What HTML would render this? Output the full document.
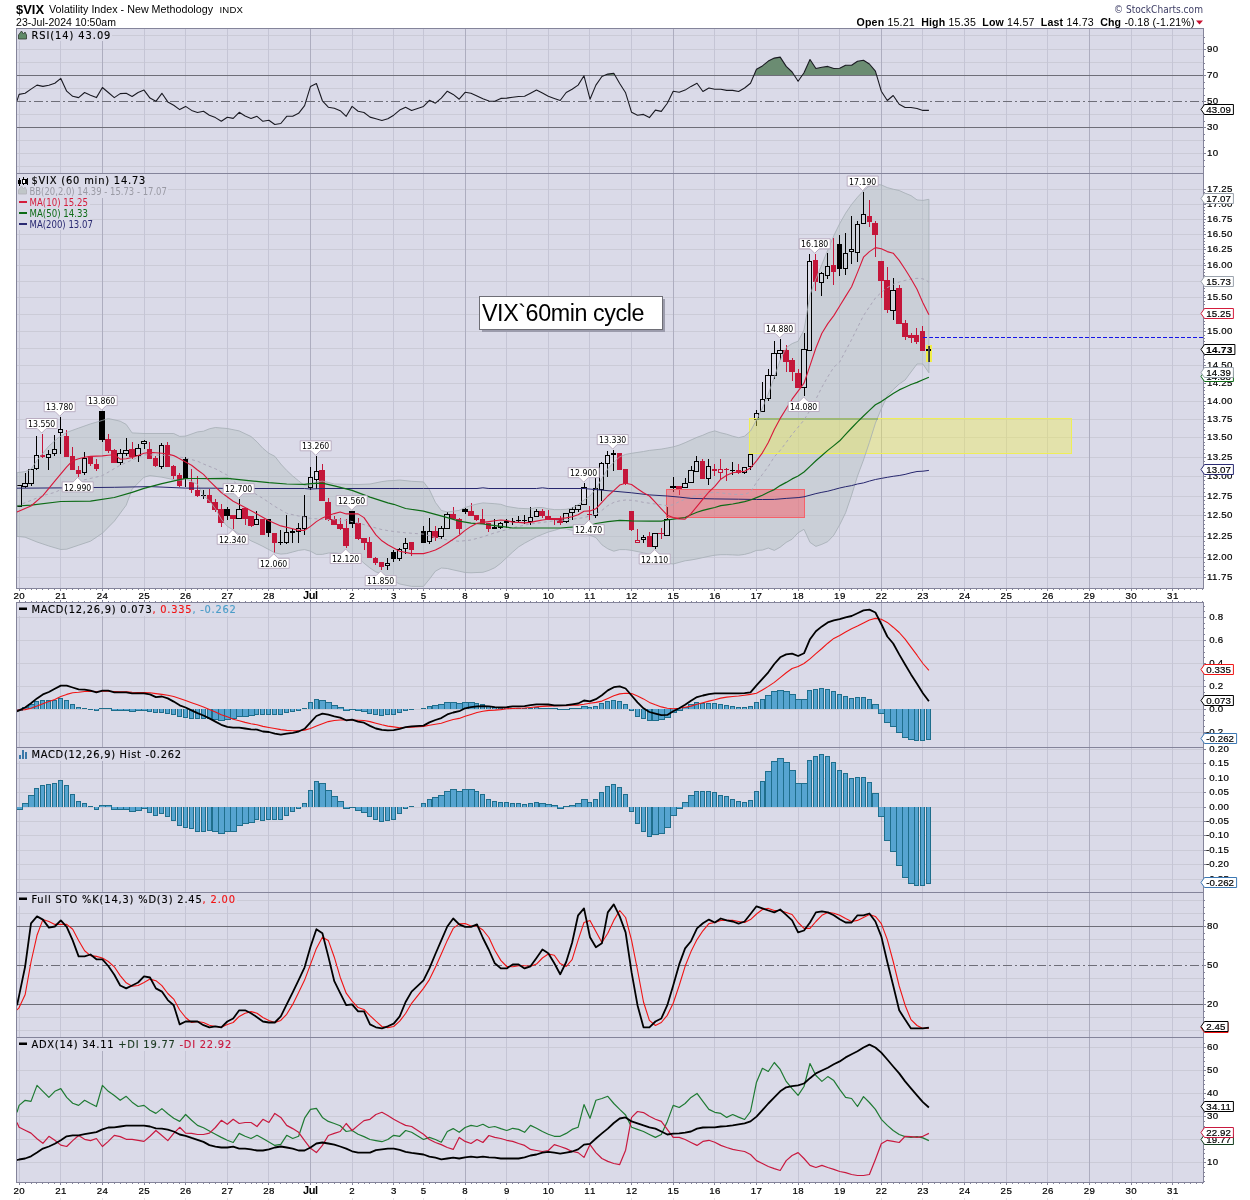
<!DOCTYPE html><html><head><meta charset="utf-8"><title>$VIX Volatility Index - New Methodology</title>
<style>html,body{margin:0;padding:0;background:#fff;}svg{display:block;}text{font-family:"Liberation Sans",sans-serif;fill:#000;}.v{font-family:"DejaVu Sans","Liberation Sans",sans-serif;font-size:9.9px;stroke:#000;stroke-width:0.15px;}.vc{font-family:"DejaVu Sans","Liberation Sans",sans-serif;font-stretch:condensed;font-size:10.1px;}.ax{font-size:9.7px;stroke:#000;stroke-width:0.2px;}.g{shape-rendering:crispEdges;}</style></head><body>
<svg width="1250" height="1200" viewBox="0 0 1250 1200">
<rect x="0" y="0" width="1250" height="1200" fill="#fff"/>
<g class="g">
<rect x="17" y="28" width="1186" height="560" fill="#dadae8"/>
<rect x="17" y="602" width="1186" height="580" fill="#dadae8"/>
<line x1="17" x2="1203" y1="35.5" y2="35.5" stroke="#cbcbd7" stroke-width="1"/>
<line x1="17" x2="1203" y1="49.5" y2="49.5" stroke="#cbcbd7" stroke-width="1"/>
<line x1="17" x2="1203" y1="62.5" y2="62.5" stroke="#cbcbd7" stroke-width="1"/>
<line x1="17" x2="1203" y1="88.5" y2="88.5" stroke="#cbcbd7" stroke-width="1"/>
<line x1="17" x2="1203" y1="114.5" y2="114.5" stroke="#cbcbd7" stroke-width="1"/>
<line x1="17" x2="1203" y1="140.5" y2="140.5" stroke="#cbcbd7" stroke-width="1"/>
<line x1="17" x2="1203" y1="153.5" y2="153.5" stroke="#cbcbd7" stroke-width="1"/>
<line x1="17" x2="1203" y1="166.5" y2="166.5" stroke="#cbcbd7" stroke-width="1"/>
<line x1="17" x2="1203" y1="577.5" y2="577.5" stroke="#cbcbd7" stroke-width="1"/>
<line x1="17" x2="1203" y1="557.5" y2="557.5" stroke="#cbcbd7" stroke-width="1"/>
<line x1="17" x2="1203" y1="536.5" y2="536.5" stroke="#cbcbd7" stroke-width="1"/>
<line x1="17" x2="1203" y1="515.5" y2="515.5" stroke="#cbcbd7" stroke-width="1"/>
<line x1="17" x2="1203" y1="496.5" y2="496.5" stroke="#cbcbd7" stroke-width="1"/>
<line x1="17" x2="1203" y1="476.5" y2="476.5" stroke="#cbcbd7" stroke-width="1"/>
<line x1="17" x2="1203" y1="457.5" y2="457.5" stroke="#cbcbd7" stroke-width="1"/>
<line x1="17" x2="1203" y1="437.5" y2="437.5" stroke="#cbcbd7" stroke-width="1"/>
<line x1="17" x2="1203" y1="419.5" y2="419.5" stroke="#cbcbd7" stroke-width="1"/>
<line x1="17" x2="1203" y1="401.5" y2="401.5" stroke="#cbcbd7" stroke-width="1"/>
<line x1="17" x2="1203" y1="383.5" y2="383.5" stroke="#cbcbd7" stroke-width="1"/>
<line x1="17" x2="1203" y1="365.5" y2="365.5" stroke="#cbcbd7" stroke-width="1"/>
<line x1="17" x2="1203" y1="348.5" y2="348.5" stroke="#cbcbd7" stroke-width="1"/>
<line x1="17" x2="1203" y1="331.5" y2="331.5" stroke="#cbcbd7" stroke-width="1"/>
<line x1="17" x2="1203" y1="314.5" y2="314.5" stroke="#cbcbd7" stroke-width="1"/>
<line x1="17" x2="1203" y1="297.5" y2="297.5" stroke="#cbcbd7" stroke-width="1"/>
<line x1="17" x2="1203" y1="281.5" y2="281.5" stroke="#cbcbd7" stroke-width="1"/>
<line x1="17" x2="1203" y1="265.5" y2="265.5" stroke="#cbcbd7" stroke-width="1"/>
<line x1="17" x2="1203" y1="249.5" y2="249.5" stroke="#cbcbd7" stroke-width="1"/>
<line x1="17" x2="1203" y1="234.5" y2="234.5" stroke="#cbcbd7" stroke-width="1"/>
<line x1="17" x2="1203" y1="219.5" y2="219.5" stroke="#cbcbd7" stroke-width="1"/>
<line x1="17" x2="1203" y1="204.5" y2="204.5" stroke="#cbcbd7" stroke-width="1"/>
<line x1="17" x2="1203" y1="189.5" y2="189.5" stroke="#cbcbd7" stroke-width="1"/>
<line x1="17" x2="1203" y1="617.5" y2="617.5" stroke="#cbcbd7" stroke-width="1"/>
<line x1="17" x2="1203" y1="640.5" y2="640.5" stroke="#cbcbd7" stroke-width="1"/>
<line x1="17" x2="1203" y1="663.5" y2="663.5" stroke="#cbcbd7" stroke-width="1"/>
<line x1="17" x2="1203" y1="686.5" y2="686.5" stroke="#cbcbd7" stroke-width="1"/>
<line x1="17" x2="1203" y1="709.5" y2="709.5" stroke="#cbcbd7" stroke-width="1"/>
<line x1="17" x2="1203" y1="732.5" y2="732.5" stroke="#cbcbd7" stroke-width="1"/>
<line x1="17" x2="1203" y1="749.5" y2="749.5" stroke="#cbcbd7" stroke-width="1"/>
<line x1="17" x2="1203" y1="763.5" y2="763.5" stroke="#cbcbd7" stroke-width="1"/>
<line x1="17" x2="1203" y1="778.5" y2="778.5" stroke="#cbcbd7" stroke-width="1"/>
<line x1="17" x2="1203" y1="792.5" y2="792.5" stroke="#cbcbd7" stroke-width="1"/>
<line x1="17" x2="1203" y1="807.5" y2="807.5" stroke="#cbcbd7" stroke-width="1"/>
<line x1="17" x2="1203" y1="821.5" y2="821.5" stroke="#cbcbd7" stroke-width="1"/>
<line x1="17" x2="1203" y1="835.5" y2="835.5" stroke="#cbcbd7" stroke-width="1"/>
<line x1="17" x2="1203" y1="850.5" y2="850.5" stroke="#cbcbd7" stroke-width="1"/>
<line x1="17" x2="1203" y1="864.5" y2="864.5" stroke="#cbcbd7" stroke-width="1"/>
<line x1="17" x2="1203" y1="879.5" y2="879.5" stroke="#cbcbd7" stroke-width="1"/>
<line x1="17" x2="1203" y1="900.5" y2="900.5" stroke="#cbcbd7" stroke-width="1"/>
<line x1="17" x2="1203" y1="913.5" y2="913.5" stroke="#cbcbd7" stroke-width="1"/>
<line x1="17" x2="1203" y1="939.5" y2="939.5" stroke="#cbcbd7" stroke-width="1"/>
<line x1="17" x2="1203" y1="952.5" y2="952.5" stroke="#cbcbd7" stroke-width="1"/>
<line x1="17" x2="1203" y1="978.5" y2="978.5" stroke="#cbcbd7" stroke-width="1"/>
<line x1="17" x2="1203" y1="991.5" y2="991.5" stroke="#cbcbd7" stroke-width="1"/>
<line x1="17" x2="1203" y1="1017.5" y2="1017.5" stroke="#cbcbd7" stroke-width="1"/>
<line x1="17" x2="1203" y1="1030.5" y2="1030.5" stroke="#cbcbd7" stroke-width="1"/>
<line x1="17" x2="1203" y1="1047.5" y2="1047.5" stroke="#cbcbd7" stroke-width="1"/>
<line x1="17" x2="1203" y1="1070.5" y2="1070.5" stroke="#cbcbd7" stroke-width="1"/>
<line x1="17" x2="1203" y1="1093.5" y2="1093.5" stroke="#cbcbd7" stroke-width="1"/>
<line x1="17" x2="1203" y1="1116.5" y2="1116.5" stroke="#cbcbd7" stroke-width="1"/>
<line x1="17" x2="1203" y1="1139.5" y2="1139.5" stroke="#cbcbd7" stroke-width="1"/>
<line x1="17" x2="1203" y1="1162.5" y2="1162.5" stroke="#cbcbd7" stroke-width="1"/>
<line x1="19.5" x2="19.5" y1="28" y2="588" stroke="#c5c5d5" stroke-width="1"/>
<line x1="60.5" x2="60.5" y1="28" y2="588" stroke="#c5c5d5" stroke-width="1"/>
<line x1="102.5" x2="102.5" y1="28" y2="588" stroke="#adadbf" stroke-width="1"/>
<line x1="144.5" x2="144.5" y1="28" y2="588" stroke="#c5c5d5" stroke-width="1"/>
<line x1="185.5" x2="185.5" y1="28" y2="588" stroke="#c5c5d5" stroke-width="1"/>
<line x1="227.5" x2="227.5" y1="28" y2="588" stroke="#c5c5d5" stroke-width="1"/>
<line x1="268.5" x2="268.5" y1="28" y2="588" stroke="#c5c5d5" stroke-width="1"/>
<line x1="310.5" x2="310.5" y1="28" y2="588" stroke="#adadbf" stroke-width="1"/>
<line x1="352.5" x2="352.5" y1="28" y2="588" stroke="#c5c5d5" stroke-width="1"/>
<line x1="393.5" x2="393.5" y1="28" y2="588" stroke="#c5c5d5" stroke-width="1"/>
<line x1="423.5" x2="423.5" y1="28" y2="588" stroke="#c5c5d5" stroke-width="1"/>
<line x1="465.5" x2="465.5" y1="28" y2="588" stroke="#adadbf" stroke-width="1"/>
<line x1="506.5" x2="506.5" y1="28" y2="588" stroke="#c5c5d5" stroke-width="1"/>
<line x1="548.5" x2="548.5" y1="28" y2="588" stroke="#c5c5d5" stroke-width="1"/>
<line x1="589.5" x2="589.5" y1="28" y2="588" stroke="#c5c5d5" stroke-width="1"/>
<line x1="631.5" x2="631.5" y1="28" y2="588" stroke="#c5c5d5" stroke-width="1"/>
<line x1="673.5" x2="673.5" y1="28" y2="588" stroke="#adadbf" stroke-width="1"/>
<line x1="714.5" x2="714.5" y1="28" y2="588" stroke="#c5c5d5" stroke-width="1"/>
<line x1="756.5" x2="756.5" y1="28" y2="588" stroke="#c5c5d5" stroke-width="1"/>
<line x1="798.5" x2="798.5" y1="28" y2="588" stroke="#c5c5d5" stroke-width="1"/>
<line x1="839.5" x2="839.5" y1="28" y2="588" stroke="#c5c5d5" stroke-width="1"/>
<line x1="881.5" x2="881.5" y1="28" y2="588" stroke="#adadbf" stroke-width="1"/>
<line x1="922.5" x2="922.5" y1="28" y2="588" stroke="#c5c5d5" stroke-width="1"/>
<line x1="964.5" x2="964.5" y1="28" y2="588" stroke="#c5c5d5" stroke-width="1"/>
<line x1="1006.5" x2="1006.5" y1="28" y2="588" stroke="#c5c5d5" stroke-width="1"/>
<line x1="1047.5" x2="1047.5" y1="28" y2="588" stroke="#c5c5d5" stroke-width="1"/>
<line x1="1089.5" x2="1089.5" y1="28" y2="588" stroke="#adadbf" stroke-width="1"/>
<line x1="1131.5" x2="1131.5" y1="28" y2="588" stroke="#c5c5d5" stroke-width="1"/>
<line x1="1172.5" x2="1172.5" y1="28" y2="588" stroke="#c5c5d5" stroke-width="1"/>
<line x1="19.5" x2="19.5" y1="602" y2="1182" stroke="#c5c5d5" stroke-width="1"/>
<line x1="60.5" x2="60.5" y1="602" y2="1182" stroke="#c5c5d5" stroke-width="1"/>
<line x1="102.5" x2="102.5" y1="602" y2="1182" stroke="#adadbf" stroke-width="1"/>
<line x1="144.5" x2="144.5" y1="602" y2="1182" stroke="#c5c5d5" stroke-width="1"/>
<line x1="185.5" x2="185.5" y1="602" y2="1182" stroke="#c5c5d5" stroke-width="1"/>
<line x1="227.5" x2="227.5" y1="602" y2="1182" stroke="#c5c5d5" stroke-width="1"/>
<line x1="268.5" x2="268.5" y1="602" y2="1182" stroke="#c5c5d5" stroke-width="1"/>
<line x1="310.5" x2="310.5" y1="602" y2="1182" stroke="#adadbf" stroke-width="1"/>
<line x1="352.5" x2="352.5" y1="602" y2="1182" stroke="#c5c5d5" stroke-width="1"/>
<line x1="393.5" x2="393.5" y1="602" y2="1182" stroke="#c5c5d5" stroke-width="1"/>
<line x1="423.5" x2="423.5" y1="602" y2="1182" stroke="#c5c5d5" stroke-width="1"/>
<line x1="465.5" x2="465.5" y1="602" y2="1182" stroke="#adadbf" stroke-width="1"/>
<line x1="506.5" x2="506.5" y1="602" y2="1182" stroke="#c5c5d5" stroke-width="1"/>
<line x1="548.5" x2="548.5" y1="602" y2="1182" stroke="#c5c5d5" stroke-width="1"/>
<line x1="589.5" x2="589.5" y1="602" y2="1182" stroke="#c5c5d5" stroke-width="1"/>
<line x1="631.5" x2="631.5" y1="602" y2="1182" stroke="#c5c5d5" stroke-width="1"/>
<line x1="673.5" x2="673.5" y1="602" y2="1182" stroke="#adadbf" stroke-width="1"/>
<line x1="714.5" x2="714.5" y1="602" y2="1182" stroke="#c5c5d5" stroke-width="1"/>
<line x1="756.5" x2="756.5" y1="602" y2="1182" stroke="#c5c5d5" stroke-width="1"/>
<line x1="798.5" x2="798.5" y1="602" y2="1182" stroke="#c5c5d5" stroke-width="1"/>
<line x1="839.5" x2="839.5" y1="602" y2="1182" stroke="#c5c5d5" stroke-width="1"/>
<line x1="881.5" x2="881.5" y1="602" y2="1182" stroke="#adadbf" stroke-width="1"/>
<line x1="922.5" x2="922.5" y1="602" y2="1182" stroke="#c5c5d5" stroke-width="1"/>
<line x1="964.5" x2="964.5" y1="602" y2="1182" stroke="#c5c5d5" stroke-width="1"/>
<line x1="1006.5" x2="1006.5" y1="602" y2="1182" stroke="#c5c5d5" stroke-width="1"/>
<line x1="1047.5" x2="1047.5" y1="602" y2="1182" stroke="#c5c5d5" stroke-width="1"/>
<line x1="1089.5" x2="1089.5" y1="602" y2="1182" stroke="#adadbf" stroke-width="1"/>
<line x1="1131.5" x2="1131.5" y1="602" y2="1182" stroke="#c5c5d5" stroke-width="1"/>
<line x1="1172.5" x2="1172.5" y1="602" y2="1182" stroke="#c5c5d5" stroke-width="1"/>
</g>
<rect class="g" x="17" y="29" width="95" height="12" fill="#dadae8"/>
<rect class="g" x="17" y="174" width="130" height="13" fill="#dadae8"/>
<rect class="g" x="17" y="187" width="151" height="11" fill="#dadae8"/>
<rect class="g" x="17" y="198" width="73" height="11" fill="#dadae8"/>
<rect class="g" x="17" y="209" width="73" height="11" fill="#dadae8"/>
<rect class="g" x="17" y="220" width="78" height="10" fill="#dadae8"/>
<rect class="g" x="17" y="603" width="221" height="13" fill="#dadae8"/>
<rect class="g" x="17" y="748" width="166" height="13" fill="#dadae8"/>
<rect class="g" x="17" y="893" width="220" height="13" fill="#dadae8"/>
<rect class="g" x="17" y="1038" width="216" height="13" fill="#dadae8"/>
<clipPath id="c70"><rect x="17" y="28" width="1186" height="47.5"/></clipPath>
<polygon points="17.0,75.5 17.0,100.8 19.1,94.4 25.1,93.3 31.0,89.1 37.0,85.1 42.9,86.4 48.9,85.3 54.8,83.2 60.8,78.4 66.7,91.2 72.7,96.3 78.6,97.6 84.6,92.5 90.5,95.2 96.4,97.6 102.4,87.5 108.3,92.5 114.3,97.6 120.2,93.6 126.2,93.3 132.1,96.5 138.1,92.5 144.0,90.1 150.0,98.1 155.9,101.3 161.9,93.3 167.8,101.9 173.7,105.3 179.7,109.6 185.6,106.4 191.6,110.4 197.5,112.5 203.5,111.2 209.4,115.2 215.4,117.6 221.3,121.3 227.3,117.3 233.2,118.4 239.2,112.3 245.1,116.0 251.0,118.4 257.0,116.3 262.9,121.3 268.9,120.3 274.8,124.5 280.8,123.5 286.7,116.3 292.7,116.3 298.6,113.3 304.6,105.6 310.5,86.4 316.4,83.5 322.4,100.8 328.3,107.2 334.3,108.3 340.2,110.7 346.2,116.3 352.1,106.4 358.1,111.2 364.0,112.5 370.0,117.1 375.9,118.7 381.9,120.5 387.8,118.7 393.7,115.2 399.7,110.1 405.6,107.2 411.6,110.4 423.5,106.4 429.4,100.3 435.4,103.2 441.3,98.1 447.3,91.2 453.2,94.4 459.2,99.2 465.1,92.3 471.0,93.3 477.0,96.0 482.9,98.7 488.9,101.1 494.8,101.3 500.8,98.4 506.7,98.1 512.7,97.3 518.6,96.5 524.6,96.3 530.5,93.3 536.5,90.1 542.4,93.1 548.3,96.3 554.3,98.4 560.2,100.5 566.2,92.5 572.1,89.3 578.1,85.1 584.0,75.8 590.0,99.2 595.9,85.1 601.9,76.5 607.8,74.1 613.8,73.3 619.7,83.5 625.6,92.8 631.6,112.3 637.5,115.2 643.5,114.4 649.4,117.6 655.4,110.1 661.3,111.4 667.3,103.2 673.2,91.2 679.2,92.3 685.1,90.1 691.0,86.4 697.0,83.2 702.9,91.5 708.9,88.0 714.8,89.3 720.8,89.3 726.7,90.4 732.7,90.4 738.6,91.5 744.6,88.0 750.5,83.2 756.5,69.3 762.4,65.9 768.3,61.1 774.3,58.1 780.2,57.1 786.2,66.4 792.1,72.0 798.1,81.3 804.0,72.8 810.0,59.5 815.9,68.5 821.9,67.2 827.8,66.4 833.8,68.5 839.7,68.3 845.6,65.3 851.6,65.3 857.5,61.3 863.5,60.3 869.4,64.0 875.4,71.2 881.3,91.2 887.3,100.5 893.2,95.5 899.2,104.3 905.1,107.5 911.0,107.5 917.0,108.5 922.9,110.4 928.9,110.4 928.9,75.5" fill="#6b8c72" clip-path="url(#c70)"/>
<g class="g"><line x1="17" x2="1203" y1="75.5" y2="75.5" stroke="#6e6e78" stroke-width="1"/>
<line x1="17" x2="1203" y1="127.5" y2="127.5" stroke="#6e6e78" stroke-width="1"/>
<line x1="17" x2="1203" y1="101.5" y2="101.5" stroke="#6e6e78" stroke-width="1" stroke-dasharray="9,3,2,3"/></g>
<polyline points="17.0,100.8 19.1,94.4 25.1,93.3 31.0,89.1 37.0,85.1 42.9,86.4 48.9,85.3 54.8,83.2 60.8,78.4 66.7,91.2 72.7,96.3 78.6,97.6 84.6,92.5 90.5,95.2 96.4,97.6 102.4,87.5 108.3,92.5 114.3,97.6 120.2,93.6 126.2,93.3 132.1,96.5 138.1,92.5 144.0,90.1 150.0,98.1 155.9,101.3 161.9,93.3 167.8,101.9 173.7,105.3 179.7,109.6 185.6,106.4 191.6,110.4 197.5,112.5 203.5,111.2 209.4,115.2 215.4,117.6 221.3,121.3 227.3,117.3 233.2,118.4 239.2,112.3 245.1,116.0 251.0,118.4 257.0,116.3 262.9,121.3 268.9,120.3 274.8,124.5 280.8,123.5 286.7,116.3 292.7,116.3 298.6,113.3 304.6,105.6 310.5,86.4 316.4,83.5 322.4,100.8 328.3,107.2 334.3,108.3 340.2,110.7 346.2,116.3 352.1,106.4 358.1,111.2 364.0,112.5 370.0,117.1 375.9,118.7 381.9,120.5 387.8,118.7 393.7,115.2 399.7,110.1 405.6,107.2 411.6,110.4 423.5,106.4 429.4,100.3 435.4,103.2 441.3,98.1 447.3,91.2 453.2,94.4 459.2,99.2 465.1,92.3 471.0,93.3 477.0,96.0 482.9,98.7 488.9,101.1 494.8,101.3 500.8,98.4 506.7,98.1 512.7,97.3 518.6,96.5 524.6,96.3 530.5,93.3 536.5,90.1 542.4,93.1 548.3,96.3 554.3,98.4 560.2,100.5 566.2,92.5 572.1,89.3 578.1,85.1 584.0,75.8 590.0,99.2 595.9,85.1 601.9,76.5 607.8,74.1 613.8,73.3 619.7,83.5 625.6,92.8 631.6,112.3 637.5,115.2 643.5,114.4 649.4,117.6 655.4,110.1 661.3,111.4 667.3,103.2 673.2,91.2 679.2,92.3 685.1,90.1 691.0,86.4 697.0,83.2 702.9,91.5 708.9,88.0 714.8,89.3 720.8,89.3 726.7,90.4 732.7,90.4 738.6,91.5 744.6,88.0 750.5,83.2 756.5,69.3 762.4,65.9 768.3,61.1 774.3,58.1 780.2,57.1 786.2,66.4 792.1,72.0 798.1,81.3 804.0,72.8 810.0,59.5 815.9,68.5 821.9,67.2 827.8,66.4 833.8,68.5 839.7,68.3 845.6,65.3 851.6,65.3 857.5,61.3 863.5,60.3 869.4,64.0 875.4,71.2 881.3,91.2 887.3,100.5 893.2,95.5 899.2,104.3 905.1,107.5 911.0,107.5 917.0,108.5 922.9,110.4 928.9,110.4" fill="none" stroke="#1a1a22" stroke-width="1.1" stroke-linejoin="round" />
<polygon points="17.0,472.7 25.1,471.6 31.0,469.2 37.0,460.4 42.9,453.2 48.9,446.0 58.0,438.0 66.7,432.4 78.6,428.1 90.5,423.9 102.4,420.4 108.3,418.5 120.2,421.2 126.2,424.4 132.1,432.9 144.0,433.5 173.7,433.5 179.7,436.4 185.6,436.1 197.5,431.9 203.5,431.2 209.4,428.8 215.4,427.5 227.3,428.5 239.2,430.9 251.0,436.5 257.0,441.9 262.9,448.3 268.9,453.3 274.8,456.3 280.8,464.0 286.7,470.4 292.7,476.0 298.6,480.8 304.6,485.6 310.5,484.8 316.4,481.9 322.4,481.1 328.3,482.4 334.3,484.0 346.2,484.3 358.1,484.5 370.0,484.0 381.9,481.6 387.8,480.8 393.7,480.5 399.7,480.0 411.6,481.3 423.5,481.9 429.4,489.6 435.4,502.4 441.3,510.4 447.3,512.0 453.2,511.2 459.2,510.4 465.1,507.5 471.0,505.6 477.0,504.0 482.9,502.9 494.8,503.7 500.8,504.3 506.7,506.4 518.6,508.3 530.5,508.8 536.5,507.5 542.4,507.5 548.3,508.8 554.3,509.6 560.2,509.6 566.2,509.3 572.1,508.0 578.1,504.8 584.0,500.0 590.0,496.0 595.9,488.8 601.9,478.4 607.8,468.8 613.8,462.4 619.7,456.8 625.6,454.4 631.6,453.3 643.5,451.5 649.4,450.4 661.3,449.1 667.3,448.0 673.2,446.9 679.2,445.1 685.1,442.7 691.0,440.0 697.0,437.3 702.9,435.2 708.9,432.5 714.8,430.9 720.8,432.8 726.7,434.2 732.7,436.2 738.6,437.7 744.6,436.2 750.5,431.0 756.5,420.0 762.4,408.0 768.3,394.0 774.3,377.0 780.2,360.0 786.2,347.6 792.1,343.6 798.1,341.2 804.0,330.0 810.0,294.8 815.9,278.8 821.9,264.4 827.8,250.0 833.8,235.6 839.7,223.6 845.6,213.2 851.6,204.4 857.5,197.2 863.5,190.8 869.4,186.0 875.4,184.4 881.3,184.9 887.3,187.6 893.2,189.2 899.2,190.5 905.1,193.2 911.0,195.6 917.0,199.9 922.9,200.4 928.9,199.3 928.9,372.8 922.9,364.0 917.0,364.0 911.0,372.0 905.1,380.0 899.2,384.0 893.2,389.6 887.3,396.0 881.3,408.8 875.4,423.2 869.4,442.4 863.5,460.0 857.5,476.0 851.6,495.2 845.6,512.8 839.7,524.8 833.8,535.2 827.8,541.6 821.9,544.3 815.9,546.4 810.0,542.4 804.0,529.3 798.1,532.8 792.1,539.2 786.2,542.4 780.2,547.2 774.3,550.4 768.3,548.0 762.4,550.1 756.5,550.4 750.5,552.8 744.6,554.4 738.6,555.2 732.7,554.9 726.7,554.7 720.8,554.7 714.8,555.2 708.9,556.3 702.9,557.6 697.0,558.9 691.0,560.0 685.1,560.8 679.2,562.4 673.2,564.0 667.3,563.2 661.3,560.8 655.4,557.6 649.4,554.4 643.5,552.8 631.6,550.4 625.6,549.6 619.7,549.6 613.8,551.2 607.8,548.8 601.9,544.8 595.9,537.6 590.0,535.2 584.0,534.1 578.1,531.2 572.1,530.4 566.2,528.8 560.2,528.5 554.3,530.4 548.3,532.0 542.4,534.4 536.5,536.8 530.5,540.0 524.6,543.2 518.6,546.9 512.7,552.0 506.7,557.6 500.8,563.2 494.8,567.7 488.9,570.4 482.9,572.3 477.0,572.5 471.0,572.8 465.1,572.5 459.2,571.2 453.2,569.9 447.3,568.5 441.3,568.0 435.4,571.2 429.4,579.2 423.5,586.4 411.6,586.4 399.7,584.0 393.7,580.8 387.8,576.8 381.9,573.6 375.9,572.0 370.0,568.0 364.0,563.2 358.1,557.6 352.1,556.0 346.2,556.0 340.2,553.6 334.3,552.8 328.3,553.1 322.4,554.4 316.4,554.4 310.5,551.2 304.6,549.6 298.6,550.4 292.7,552.0 286.7,553.6 280.8,554.1 274.8,552.8 268.9,549.6 262.9,546.4 257.0,543.5 251.0,540.8 245.1,536.8 239.2,534.1 233.2,529.9 227.3,526.4 221.3,519.2 215.4,508.8 209.4,500.8 203.5,496.0 197.5,484.4 185.6,478.8 179.7,480.4 173.7,479.6 161.9,477.2 150.0,475.6 144.0,477.2 132.1,489.2 126.2,505.2 114.3,521.2 102.4,533.2 90.5,541.2 78.6,545.2 66.7,549.2 60.8,549.5 48.9,546.0 37.0,542.0 25.1,537.2 17.0,536.4" fill="#b6c2c4" fill-opacity="0.45"/>
<rect class="g" x="926" y="345" width="6" height="17" fill="#f2ee4a"/>
<clipPath id="cm"><rect x="17" y="173" width="1187" height="415"/></clipPath>
<g clip-path="url(#cm)" class="g">
<rect x="16.5" y="485.5" width="5" height="21" fill="#fff" fill-opacity="0.10" stroke="#000" stroke-width="1"/>
<rect x="25" y="473" width="1" height="10" fill="#000"/>
<rect x="25" y="487" width="1" height="1" fill="#000"/>
<rect x="22.5" y="483.5" width="5" height="3" fill="#fff" fill-opacity="0.10" stroke="#000" stroke-width="1"/>
<rect x="31" y="484" width="1" height="2" fill="#000"/>
<rect x="28.5" y="469.5" width="5" height="14" fill="#fff" fill-opacity="0.10" stroke="#000" stroke-width="1"/>
<rect x="36" y="436" width="1" height="19" fill="#000"/>
<rect x="36" y="469" width="1" height="1" fill="#000"/>
<rect x="34.5" y="455.5" width="4" height="13" fill="#fff" fill-opacity="0.10" stroke="#000" stroke-width="1"/>
<rect x="42" y="434" width="1" height="24" fill="#c4163a"/>
<rect x="40" y="455" width="5" height="2" fill="#c4163a"/>
<rect x="48" y="450" width="1" height="4" fill="#000"/>
<rect x="48" y="458" width="1" height="12" fill="#000"/>
<rect x="46.5" y="454.5" width="4" height="3" fill="#fff" fill-opacity="0.10" stroke="#000" stroke-width="1"/>
<rect x="54" y="435" width="1" height="14" fill="#000"/>
<rect x="54" y="454" width="1" height="2" fill="#000"/>
<rect x="52.5" y="449.5" width="4" height="4" fill="#fff" fill-opacity="0.10" stroke="#000" stroke-width="1"/>
<rect x="60" y="417" width="1" height="12" fill="#000"/>
<rect x="60" y="433" width="1" height="21" fill="#000"/>
<rect x="58.5" y="429.5" width="4" height="3" fill="#fff" fill-opacity="0.10" stroke="#000" stroke-width="1"/>
<rect x="66" y="430" width="1" height="27" fill="#c4163a"/>
<rect x="64" y="436" width="5" height="21" fill="#c4163a"/>
<rect x="72" y="447" width="1" height="23" fill="#c4163a"/>
<rect x="70" y="456" width="5" height="14" fill="#c4163a"/>
<rect x="78" y="466" width="1" height="11" fill="#c4163a"/>
<rect x="76" y="470" width="5" height="4" fill="#c4163a"/>
<rect x="84" y="452" width="1" height="6" fill="#000"/>
<rect x="84" y="473" width="1" height="2" fill="#000"/>
<rect x="82.5" y="458.5" width="4" height="14" fill="#fff" fill-opacity="0.10" stroke="#000" stroke-width="1"/>
<rect x="90" y="456" width="1" height="10" fill="#c4163a"/>
<rect x="88" y="456" width="5" height="8" fill="#c4163a"/>
<rect x="96" y="459" width="1" height="12" fill="#c4163a"/>
<rect x="94" y="464" width="5" height="5" fill="#c4163a"/>
<rect x="102" y="411" width="1" height="31" fill="#000"/>
<rect x="99" y="411" width="6" height="29" fill="#000"/>
<rect x="108" y="434" width="1" height="19" fill="#c4163a"/>
<rect x="105" y="439" width="6" height="12" fill="#c4163a"/>
<rect x="114" y="449" width="1" height="14" fill="#c4163a"/>
<rect x="111" y="450" width="6" height="13" fill="#c4163a"/>
<rect x="120" y="449" width="1" height="4" fill="#000"/>
<rect x="120" y="463" width="1" height="2" fill="#000"/>
<rect x="117.5" y="453.5" width="5" height="9" fill="#fff" fill-opacity="0.10" stroke="#000" stroke-width="1"/>
<rect x="126" y="438" width="1" height="12" fill="#000"/>
<rect x="126" y="454" width="1" height="2" fill="#000"/>
<rect x="123.5" y="450.5" width="5" height="3" fill="#fff" fill-opacity="0.10" stroke="#000" stroke-width="1"/>
<rect x="132" y="442" width="1" height="17" fill="#c4163a"/>
<rect x="129" y="449" width="6" height="8" fill="#c4163a"/>
<rect x="138" y="444" width="1" height="4" fill="#000"/>
<rect x="138" y="456" width="1" height="6" fill="#000"/>
<rect x="135.5" y="448.5" width="5" height="7" fill="#fff" fill-opacity="0.10" stroke="#000" stroke-width="1"/>
<rect x="144" y="440" width="1" height="1" fill="#000"/>
<rect x="144" y="444" width="1" height="5" fill="#000"/>
<rect x="141.5" y="441.5" width="5" height="2" fill="#fff" fill-opacity="0.10" stroke="#000" stroke-width="1"/>
<rect x="149" y="442" width="1" height="17" fill="#c4163a"/>
<rect x="147" y="449" width="5" height="10" fill="#c4163a"/>
<rect x="155" y="456" width="1" height="11" fill="#c4163a"/>
<rect x="153" y="458" width="5" height="8" fill="#c4163a"/>
<rect x="161" y="443" width="1" height="2" fill="#000"/>
<rect x="161" y="467" width="1" height="2" fill="#000"/>
<rect x="159.5" y="445.5" width="4" height="21" fill="#fff" fill-opacity="0.10" stroke="#000" stroke-width="1"/>
<rect x="167" y="442" width="1" height="25" fill="#c4163a"/>
<rect x="165" y="445" width="5" height="22" fill="#c4163a"/>
<rect x="173" y="465" width="1" height="14" fill="#c4163a"/>
<rect x="171" y="466" width="5" height="10" fill="#c4163a"/>
<rect x="179" y="473" width="1" height="14" fill="#c4163a"/>
<rect x="177" y="475" width="5" height="11" fill="#c4163a"/>
<rect x="185" y="457" width="1" height="30" fill="#000"/>
<rect x="183" y="459" width="5" height="20" fill="#000"/>
<rect x="191" y="469" width="1" height="24" fill="#c4163a"/>
<rect x="189" y="482" width="5" height="8" fill="#c4163a"/>
<rect x="197" y="476" width="1" height="21" fill="#c4163a"/>
<rect x="195" y="490" width="5" height="6" fill="#c4163a"/>
<rect x="203" y="490" width="1" height="9" fill="#000"/>
<rect x="201" y="495" width="5" height="1" fill="#000"/>
<rect x="209" y="489" width="1" height="14" fill="#c4163a"/>
<rect x="207" y="495" width="5" height="8" fill="#c4163a"/>
<rect x="215" y="499" width="1" height="13" fill="#c4163a"/>
<rect x="212" y="502" width="6" height="8" fill="#c4163a"/>
<rect x="221" y="504" width="1" height="23" fill="#c4163a"/>
<rect x="218" y="509" width="6" height="14" fill="#c4163a"/>
<rect x="227" y="507" width="1" height="13" fill="#000"/>
<rect x="224" y="509" width="6" height="7" fill="#000"/>
<rect x="233" y="515" width="1" height="14" fill="#c4163a"/>
<rect x="230" y="515" width="6" height="4" fill="#c4163a"/>
<rect x="239" y="499" width="1" height="10" fill="#000"/>
<rect x="236.5" y="509.5" width="5" height="9" fill="#fff" fill-opacity="0.10" stroke="#000" stroke-width="1"/>
<rect x="245" y="508" width="1" height="17" fill="#c4163a"/>
<rect x="242" y="508" width="6" height="11" fill="#c4163a"/>
<rect x="251" y="516" width="1" height="11" fill="#c4163a"/>
<rect x="248" y="516" width="6" height="10" fill="#c4163a"/>
<rect x="256" y="511" width="1" height="8" fill="#000"/>
<rect x="254.5" y="519.5" width="4" height="5" fill="#fff" fill-opacity="0.10" stroke="#000" stroke-width="1"/>
<rect x="262" y="519" width="1" height="16" fill="#c4163a"/>
<rect x="260" y="519" width="5" height="16" fill="#c4163a"/>
<rect x="268" y="519" width="1" height="18" fill="#000"/>
<rect x="266" y="519" width="5" height="14" fill="#000"/>
<rect x="274" y="533" width="1" height="20" fill="#c4163a"/>
<rect x="272" y="533" width="5" height="10" fill="#c4163a"/>
<rect x="280" y="530" width="1" height="15" fill="#000"/>
<rect x="278" y="542" width="5" height="1" fill="#000"/>
<rect x="286" y="515" width="1" height="17" fill="#000"/>
<rect x="286" y="543" width="1" height="1" fill="#000"/>
<rect x="284.5" y="532.5" width="4" height="10" fill="#fff" fill-opacity="0.10" stroke="#000" stroke-width="1"/>
<rect x="292" y="529" width="1" height="14" fill="#000"/>
<rect x="290" y="531" width="5" height="2" fill="#000"/>
<rect x="298" y="523" width="1" height="5" fill="#000"/>
<rect x="298" y="532" width="1" height="11" fill="#000"/>
<rect x="296.5" y="528.5" width="4" height="3" fill="#fff" fill-opacity="0.10" stroke="#000" stroke-width="1"/>
<rect x="304" y="495" width="1" height="21" fill="#000"/>
<rect x="304" y="529" width="1" height="6" fill="#000"/>
<rect x="302.5" y="516.5" width="4" height="12" fill="#fff" fill-opacity="0.10" stroke="#000" stroke-width="1"/>
<rect x="310" y="467" width="1" height="10" fill="#000"/>
<rect x="310" y="488" width="1" height="2" fill="#000"/>
<rect x="308.5" y="477.5" width="4" height="10" fill="#fff" fill-opacity="0.10" stroke="#000" stroke-width="1"/>
<rect x="316" y="456" width="1" height="15" fill="#000"/>
<rect x="316" y="480" width="1" height="9" fill="#000"/>
<rect x="314.5" y="471.5" width="4" height="8" fill="#fff" fill-opacity="0.10" stroke="#000" stroke-width="1"/>
<rect x="322" y="464" width="1" height="37" fill="#c4163a"/>
<rect x="319" y="470" width="6" height="31" fill="#c4163a"/>
<rect x="328" y="498" width="1" height="23" fill="#c4163a"/>
<rect x="325" y="502" width="6" height="18" fill="#c4163a"/>
<rect x="334" y="516" width="1" height="9" fill="#c4163a"/>
<rect x="331" y="519" width="6" height="6" fill="#c4163a"/>
<rect x="340" y="518" width="1" height="12" fill="#c4163a"/>
<rect x="337" y="524" width="6" height="5" fill="#c4163a"/>
<rect x="346" y="519" width="1" height="29" fill="#c4163a"/>
<rect x="343" y="528" width="6" height="18" fill="#c4163a"/>
<rect x="352" y="511" width="1" height="17" fill="#000"/>
<rect x="349" y="511" width="6" height="13" fill="#000"/>
<rect x="358" y="518" width="1" height="22" fill="#c4163a"/>
<rect x="355" y="523" width="6" height="16" fill="#c4163a"/>
<rect x="364" y="538" width="1" height="12" fill="#c4163a"/>
<rect x="361" y="538" width="6" height="5" fill="#c4163a"/>
<rect x="369" y="537" width="1" height="21" fill="#c4163a"/>
<rect x="367" y="542" width="5" height="16" fill="#c4163a"/>
<rect x="375" y="557" width="1" height="8" fill="#c4163a"/>
<rect x="373" y="558" width="5" height="5" fill="#c4163a"/>
<rect x="381" y="562" width="1" height="8" fill="#c4163a"/>
<rect x="379" y="562" width="5" height="5" fill="#c4163a"/>
<rect x="387" y="558" width="1" height="5" fill="#000"/>
<rect x="387" y="566" width="1" height="4" fill="#000"/>
<rect x="385.5" y="563.5" width="4" height="2" fill="#fff" fill-opacity="0.10" stroke="#000" stroke-width="1"/>
<rect x="393" y="550" width="1" height="12" fill="#000"/>
<rect x="391" y="552" width="5" height="7" fill="#000"/>
<rect x="399" y="548" width="1" height="1" fill="#000"/>
<rect x="399" y="559" width="1" height="2" fill="#000"/>
<rect x="397.5" y="549.5" width="4" height="9" fill="#fff" fill-opacity="0.10" stroke="#000" stroke-width="1"/>
<rect x="405" y="538" width="1" height="5" fill="#000"/>
<rect x="405" y="549" width="1" height="5" fill="#000"/>
<rect x="403.5" y="543.5" width="4" height="5" fill="#fff" fill-opacity="0.10" stroke="#000" stroke-width="1"/>
<rect x="411" y="542" width="1" height="14" fill="#c4163a"/>
<rect x="409" y="542" width="5" height="8" fill="#c4163a"/>
<rect x="423" y="526" width="1" height="17" fill="#000"/>
<rect x="421" y="531" width="5" height="12" fill="#000"/>
<rect x="429" y="518" width="1" height="13" fill="#000"/>
<rect x="429" y="542" width="1" height="2" fill="#000"/>
<rect x="427.5" y="531.5" width="4" height="10" fill="#fff" fill-opacity="0.10" stroke="#000" stroke-width="1"/>
<rect x="435" y="526" width="1" height="15" fill="#c4163a"/>
<rect x="432" y="531" width="6" height="7" fill="#c4163a"/>
<rect x="441" y="526" width="1" height="2" fill="#000"/>
<rect x="441" y="537" width="1" height="2" fill="#000"/>
<rect x="438.5" y="528.5" width="5" height="8" fill="#fff" fill-opacity="0.10" stroke="#000" stroke-width="1"/>
<rect x="447" y="512" width="1" height="2" fill="#000"/>
<rect x="444.5" y="514.5" width="5" height="14" fill="#fff" fill-opacity="0.10" stroke="#000" stroke-width="1"/>
<rect x="453" y="507" width="1" height="12" fill="#c4163a"/>
<rect x="450" y="514" width="6" height="5" fill="#c4163a"/>
<rect x="459" y="518" width="1" height="16" fill="#c4163a"/>
<rect x="456" y="519" width="6" height="10" fill="#c4163a"/>
<rect x="465" y="508" width="1" height="6" fill="#000"/>
<rect x="462" y="509" width="6" height="3" fill="#000"/>
<rect x="471" y="503" width="1" height="13" fill="#c4163a"/>
<rect x="468" y="511" width="6" height="5" fill="#c4163a"/>
<rect x="476" y="515" width="1" height="6" fill="#c4163a"/>
<rect x="474" y="515" width="5" height="5" fill="#c4163a"/>
<rect x="482" y="509" width="1" height="15" fill="#c4163a"/>
<rect x="480" y="519" width="5" height="5" fill="#c4163a"/>
<rect x="488" y="523" width="1" height="9" fill="#c4163a"/>
<rect x="486" y="523" width="5" height="6" fill="#c4163a"/>
<rect x="494" y="519" width="1" height="10" fill="#000"/>
<rect x="492" y="527" width="5" height="2" fill="#000"/>
<rect x="500" y="522" width="1" height="1" fill="#000"/>
<rect x="500" y="528" width="1" height="1" fill="#000"/>
<rect x="498.5" y="523.5" width="4" height="4" fill="#fff" fill-opacity="0.10" stroke="#000" stroke-width="1"/>
<rect x="506" y="519" width="1" height="9" fill="#000"/>
<rect x="504" y="521" width="5" height="2" fill="#000"/>
<rect x="512" y="518" width="1" height="7" fill="#000"/>
<rect x="510" y="521" width="5" height="1" fill="#000"/>
<rect x="518" y="516" width="1" height="7" fill="#000"/>
<rect x="516" y="520" width="5" height="1" fill="#000"/>
<rect x="524" y="515" width="1" height="9" fill="#000"/>
<rect x="522" y="520" width="5" height="1" fill="#000"/>
<rect x="530" y="507" width="1" height="10" fill="#000"/>
<rect x="530" y="522" width="1" height="3" fill="#000"/>
<rect x="528.5" y="517.5" width="4" height="4" fill="#fff" fill-opacity="0.10" stroke="#000" stroke-width="1"/>
<rect x="536" y="509" width="1" height="2" fill="#000"/>
<rect x="534.5" y="511.5" width="4" height="5" fill="#fff" fill-opacity="0.10" stroke="#000" stroke-width="1"/>
<rect x="542" y="509" width="1" height="9" fill="#c4163a"/>
<rect x="539" y="511" width="6" height="5" fill="#c4163a"/>
<rect x="548" y="510" width="1" height="10" fill="#c4163a"/>
<rect x="545" y="516" width="6" height="4" fill="#c4163a"/>
<rect x="554" y="518" width="1" height="7" fill="#c4163a"/>
<rect x="551" y="518" width="6" height="2" fill="#c4163a"/>
<rect x="560" y="516" width="1" height="9" fill="#c4163a"/>
<rect x="557" y="519" width="6" height="4" fill="#c4163a"/>
<rect x="566" y="522" width="1" height="1" fill="#000"/>
<rect x="563.5" y="513.5" width="5" height="8" fill="#fff" fill-opacity="0.10" stroke="#000" stroke-width="1"/>
<rect x="572" y="507" width="1" height="2" fill="#000"/>
<rect x="572" y="513" width="1" height="7" fill="#000"/>
<rect x="569.5" y="509.5" width="5" height="3" fill="#fff" fill-opacity="0.10" stroke="#000" stroke-width="1"/>
<rect x="578" y="510" width="1" height="2" fill="#000"/>
<rect x="575.5" y="505.5" width="5" height="4" fill="#fff" fill-opacity="0.10" stroke="#000" stroke-width="1"/>
<rect x="584" y="483" width="1" height="4" fill="#000"/>
<rect x="581.5" y="487.5" width="5" height="17" fill="#fff" fill-opacity="0.10" stroke="#000" stroke-width="1"/>
<rect x="589" y="506" width="1" height="14" fill="#c4163a"/>
<rect x="587" y="514" width="5" height="1" fill="#c4163a"/>
<rect x="595" y="478" width="1" height="10" fill="#000"/>
<rect x="595" y="516" width="1" height="2" fill="#000"/>
<rect x="593.5" y="488.5" width="4" height="27" fill="#fff" fill-opacity="0.10" stroke="#000" stroke-width="1"/>
<rect x="601" y="462" width="1" height="1" fill="#000"/>
<rect x="601" y="490" width="1" height="11" fill="#000"/>
<rect x="599.5" y="463.5" width="4" height="26" fill="#fff" fill-opacity="0.10" stroke="#000" stroke-width="1"/>
<rect x="607" y="451" width="1" height="4" fill="#000"/>
<rect x="607" y="464" width="1" height="13" fill="#000"/>
<rect x="605.5" y="455.5" width="4" height="8" fill="#fff" fill-opacity="0.10" stroke="#000" stroke-width="1"/>
<rect x="613" y="450" width="1" height="21" fill="#000"/>
<rect x="611" y="453" width="5" height="2" fill="#000"/>
<rect x="619" y="453" width="1" height="17" fill="#c4163a"/>
<rect x="617" y="453" width="5" height="17" fill="#c4163a"/>
<rect x="625" y="469" width="1" height="16" fill="#c4163a"/>
<rect x="623" y="469" width="5" height="15" fill="#c4163a"/>
<rect x="631" y="511" width="1" height="20" fill="#c4163a"/>
<rect x="629" y="511" width="5" height="19" fill="#c4163a"/>
<rect x="637" y="529" width="1" height="11" fill="#c4163a"/>
<rect x="635.5" y="540.5" width="4" height="2" fill="#fff" fill-opacity="0.10" stroke="#c4163a" stroke-width="1"/>
<rect x="643" y="535" width="1" height="2" fill="#000"/>
<rect x="643" y="540" width="1" height="3" fill="#000"/>
<rect x="641.5" y="537.5" width="4" height="2" fill="#fff" fill-opacity="0.10" stroke="#000" stroke-width="1"/>
<rect x="649" y="532" width="1" height="15" fill="#c4163a"/>
<rect x="647" y="536" width="5" height="11" fill="#c4163a"/>
<rect x="655" y="547" width="1" height="2" fill="#000"/>
<rect x="652.5" y="533.5" width="5" height="13" fill="#fff" fill-opacity="0.10" stroke="#000" stroke-width="1"/>
<rect x="661" y="528" width="1" height="11" fill="#c4163a"/>
<rect x="658" y="533" width="6" height="1" fill="#c4163a"/>
<rect x="667" y="507" width="1" height="12" fill="#000"/>
<rect x="664.5" y="519.5" width="5" height="16" fill="#fff" fill-opacity="0.10" stroke="#000" stroke-width="1"/>
<rect x="673" y="477" width="1" height="15" fill="#000"/>
<rect x="670" y="486" width="6" height="2" fill="#000"/>
<rect x="679" y="486" width="1" height="9" fill="#c4163a"/>
<rect x="676" y="486" width="6" height="3" fill="#c4163a"/>
<rect x="685" y="478" width="1" height="5" fill="#000"/>
<rect x="682.5" y="483.5" width="5" height="4" fill="#fff" fill-opacity="0.10" stroke="#000" stroke-width="1"/>
<rect x="691" y="466" width="1" height="4" fill="#000"/>
<rect x="688.5" y="470.5" width="5" height="12" fill="#fff" fill-opacity="0.10" stroke="#000" stroke-width="1"/>
<rect x="696" y="456" width="1" height="5" fill="#000"/>
<rect x="694.5" y="461.5" width="4" height="10" fill="#fff" fill-opacity="0.10" stroke="#000" stroke-width="1"/>
<rect x="702" y="459" width="1" height="20" fill="#c4163a"/>
<rect x="700" y="461" width="5" height="18" fill="#c4163a"/>
<rect x="708" y="459" width="1" height="7" fill="#000"/>
<rect x="708" y="479" width="1" height="6" fill="#000"/>
<rect x="706.5" y="466.5" width="4" height="12" fill="#fff" fill-opacity="0.10" stroke="#000" stroke-width="1"/>
<rect x="714" y="464" width="1" height="12" fill="#c4163a"/>
<rect x="712" y="469" width="5" height="2" fill="#c4163a"/>
<rect x="720" y="459" width="1" height="10" fill="#c4163a"/>
<rect x="720" y="473" width="1" height="6" fill="#c4163a"/>
<rect x="718.5" y="469.5" width="4" height="3" fill="#fff" fill-opacity="0.10" stroke="#c4163a" stroke-width="1"/>
<rect x="726" y="468" width="1" height="13" fill="#c4163a"/>
<rect x="724" y="469" width="5" height="1" fill="#c4163a"/>
<rect x="732" y="462" width="1" height="13" fill="#000"/>
<rect x="730" y="470" width="5" height="1" fill="#000"/>
<rect x="738" y="464" width="1" height="10" fill="#c4163a"/>
<rect x="736" y="470" width="5" height="3" fill="#c4163a"/>
<rect x="744" y="473" width="1" height="1" fill="#000"/>
<rect x="742.5" y="467.5" width="4" height="5" fill="#fff" fill-opacity="0.10" stroke="#000" stroke-width="1"/>
<rect x="750" y="467" width="1" height="3" fill="#000"/>
<rect x="748.5" y="454.5" width="4" height="12" fill="#fff" fill-opacity="0.10" stroke="#000" stroke-width="1"/>
<rect x="756" y="410" width="1" height="3" fill="#000"/>
<rect x="756" y="420" width="1" height="6" fill="#000"/>
<rect x="754.5" y="413.5" width="4" height="6" fill="#fff" fill-opacity="0.10" stroke="#000" stroke-width="1"/>
<rect x="762" y="382" width="1" height="17" fill="#000"/>
<rect x="760.5" y="399.5" width="4" height="12" fill="#fff" fill-opacity="0.10" stroke="#000" stroke-width="1"/>
<rect x="768" y="369" width="1" height="6" fill="#000"/>
<rect x="768" y="399" width="1" height="2" fill="#000"/>
<rect x="765.5" y="375.5" width="5" height="23" fill="#fff" fill-opacity="0.10" stroke="#000" stroke-width="1"/>
<rect x="774" y="341" width="1" height="12" fill="#000"/>
<rect x="774" y="376" width="1" height="3" fill="#000"/>
<rect x="771.5" y="353.5" width="5" height="22" fill="#fff" fill-opacity="0.10" stroke="#000" stroke-width="1"/>
<rect x="780" y="339" width="1" height="11" fill="#000"/>
<rect x="780" y="354" width="1" height="6" fill="#000"/>
<rect x="777.5" y="350.5" width="5" height="3" fill="#fff" fill-opacity="0.10" stroke="#000" stroke-width="1"/>
<rect x="786" y="345" width="1" height="27" fill="#c4163a"/>
<rect x="783" y="350" width="6" height="12" fill="#c4163a"/>
<rect x="792" y="358" width="1" height="23" fill="#c4163a"/>
<rect x="789" y="360" width="6" height="12" fill="#c4163a"/>
<rect x="798" y="369" width="1" height="19" fill="#c4163a"/>
<rect x="795" y="373" width="6" height="15" fill="#c4163a"/>
<rect x="804" y="333" width="1" height="16" fill="#000"/>
<rect x="804" y="388" width="1" height="8" fill="#000"/>
<rect x="801.5" y="349.5" width="5" height="38" fill="#fff" fill-opacity="0.10" stroke="#000" stroke-width="1"/>
<rect x="809" y="254" width="1" height="7" fill="#000"/>
<rect x="807.5" y="261.5" width="4" height="89" fill="#fff" fill-opacity="0.10" stroke="#000" stroke-width="1"/>
<rect x="815" y="254" width="1" height="37" fill="#c4163a"/>
<rect x="813" y="260" width="5" height="22" fill="#c4163a"/>
<rect x="821" y="272" width="1" height="1" fill="#000"/>
<rect x="821" y="283" width="1" height="13" fill="#000"/>
<rect x="819.5" y="273.5" width="4" height="9" fill="#fff" fill-opacity="0.10" stroke="#000" stroke-width="1"/>
<rect x="827" y="253" width="1" height="13" fill="#000"/>
<rect x="827" y="276" width="1" height="3" fill="#000"/>
<rect x="825.5" y="266.5" width="4" height="9" fill="#fff" fill-opacity="0.10" stroke="#000" stroke-width="1"/>
<rect x="833" y="238" width="1" height="47" fill="#c4163a"/>
<rect x="831" y="265" width="5" height="7" fill="#c4163a"/>
<rect x="839" y="235" width="1" height="41" fill="#000"/>
<rect x="837" y="244" width="5" height="25" fill="#000"/>
<rect x="845" y="233" width="1" height="20" fill="#000"/>
<rect x="845" y="269" width="1" height="6" fill="#000"/>
<rect x="843.5" y="253.5" width="4" height="15" fill="#fff" fill-opacity="0.10" stroke="#000" stroke-width="1"/>
<rect x="851" y="216" width="1" height="33" fill="#000"/>
<rect x="851" y="252" width="1" height="12" fill="#000"/>
<rect x="849.5" y="249.5" width="4" height="2" fill="#fff" fill-opacity="0.10" stroke="#000" stroke-width="1"/>
<rect x="857" y="221" width="1" height="3" fill="#000"/>
<rect x="857" y="253" width="1" height="9" fill="#000"/>
<rect x="855.5" y="224.5" width="4" height="28" fill="#fff" fill-opacity="0.10" stroke="#000" stroke-width="1"/>
<rect x="863" y="192" width="1" height="22" fill="#000"/>
<rect x="861.5" y="214.5" width="4" height="9" fill="#fff" fill-opacity="0.10" stroke="#000" stroke-width="1"/>
<rect x="869" y="200" width="1" height="27" fill="#c4163a"/>
<rect x="867" y="216" width="5" height="6" fill="#c4163a"/>
<rect x="875" y="221" width="1" height="36" fill="#c4163a"/>
<rect x="872" y="223" width="6" height="12" fill="#c4163a"/>
<rect x="881" y="261" width="1" height="37" fill="#c4163a"/>
<rect x="878" y="261" width="6" height="20" fill="#c4163a"/>
<rect x="887" y="267" width="1" height="46" fill="#c4163a"/>
<rect x="884" y="280" width="6" height="30" fill="#c4163a"/>
<rect x="893" y="278" width="1" height="12" fill="#000"/>
<rect x="893" y="311" width="1" height="9" fill="#000"/>
<rect x="890.5" y="290.5" width="5" height="20" fill="#fff" fill-opacity="0.10" stroke="#000" stroke-width="1"/>
<rect x="899" y="285" width="1" height="39" fill="#c4163a"/>
<rect x="896" y="288" width="6" height="36" fill="#c4163a"/>
<rect x="905" y="320" width="1" height="20" fill="#c4163a"/>
<rect x="902" y="323" width="6" height="14" fill="#c4163a"/>
<rect x="911" y="333" width="1" height="10" fill="#c4163a"/>
<rect x="908" y="335" width="6" height="3" fill="#c4163a"/>
<rect x="916" y="328" width="1" height="16" fill="#c4163a"/>
<rect x="914" y="335" width="5" height="7" fill="#c4163a"/>
<rect x="922" y="326" width="1" height="25" fill="#c4163a"/>
<rect x="920" y="331" width="5" height="20" fill="#c4163a"/>
<rect x="928" y="346" width="1.6" height="16" fill="#000"/>
<rect x="926" y="349" width="5" height="2" fill="#000"/>
</g>
<g class="g">
<rect x="749.5" y="418.5" width="322" height="35" fill="#f0ee50" fill-opacity="0.40" stroke="#eeee58" stroke-width="1"/>
<rect x="666.5" y="489.5" width="138" height="28" fill="#ff505c" fill-opacity="0.45" stroke="#f4626a" stroke-width="1.8"/>
<line x1="923" x2="1203" y1="337.5" y2="337.5" stroke="#1414e6" stroke-width="1" stroke-dasharray="4,2"/>
</g>
<polygon points="17.0,472.7 25.1,471.6 31.0,469.2 37.0,460.4 42.9,453.2 48.9,446.0 58.0,438.0 66.7,432.4 78.6,428.1 90.5,423.9 102.4,420.4 108.3,418.5 120.2,421.2 126.2,424.4 132.1,432.9 144.0,433.5 173.7,433.5 179.7,436.4 185.6,436.1 197.5,431.9 203.5,431.2 209.4,428.8 215.4,427.5 227.3,428.5 239.2,430.9 251.0,436.5 257.0,441.9 262.9,448.3 268.9,453.3 274.8,456.3 280.8,464.0 286.7,470.4 292.7,476.0 298.6,480.8 304.6,485.6 310.5,484.8 316.4,481.9 322.4,481.1 328.3,482.4 334.3,484.0 346.2,484.3 358.1,484.5 370.0,484.0 381.9,481.6 387.8,480.8 393.7,480.5 399.7,480.0 411.6,481.3 423.5,481.9 429.4,489.6 435.4,502.4 441.3,510.4 447.3,512.0 453.2,511.2 459.2,510.4 465.1,507.5 471.0,505.6 477.0,504.0 482.9,502.9 494.8,503.7 500.8,504.3 506.7,506.4 518.6,508.3 530.5,508.8 536.5,507.5 542.4,507.5 548.3,508.8 554.3,509.6 560.2,509.6 566.2,509.3 572.1,508.0 578.1,504.8 584.0,500.0 590.0,496.0 595.9,488.8 601.9,478.4 607.8,468.8 613.8,462.4 619.7,456.8 625.6,454.4 631.6,453.3 643.5,451.5 649.4,450.4 661.3,449.1 667.3,448.0 673.2,446.9 679.2,445.1 685.1,442.7 691.0,440.0 697.0,437.3 702.9,435.2 708.9,432.5 714.8,430.9 720.8,432.8 726.7,434.2 732.7,436.2 738.6,437.7 744.6,436.2 750.5,431.0 756.5,420.0 762.4,408.0 768.3,394.0 774.3,377.0 780.2,360.0 786.2,347.6 792.1,343.6 798.1,341.2 804.0,330.0 810.0,294.8 815.9,278.8 821.9,264.4 827.8,250.0 833.8,235.6 839.7,223.6 845.6,213.2 851.6,204.4 857.5,197.2 863.5,190.8 869.4,186.0 875.4,184.4 881.3,184.9 887.3,187.6 893.2,189.2 899.2,190.5 905.1,193.2 911.0,195.6 917.0,199.9 922.9,200.4 928.9,199.3 928.9,372.8 922.9,364.0 917.0,364.0 911.0,372.0 905.1,380.0 899.2,384.0 893.2,389.6 887.3,396.0 881.3,408.8 875.4,423.2 869.4,442.4 863.5,460.0 857.5,476.0 851.6,495.2 845.6,512.8 839.7,524.8 833.8,535.2 827.8,541.6 821.9,544.3 815.9,546.4 810.0,542.4 804.0,529.3 798.1,532.8 792.1,539.2 786.2,542.4 780.2,547.2 774.3,550.4 768.3,548.0 762.4,550.1 756.5,550.4 750.5,552.8 744.6,554.4 738.6,555.2 732.7,554.9 726.7,554.7 720.8,554.7 714.8,555.2 708.9,556.3 702.9,557.6 697.0,558.9 691.0,560.0 685.1,560.8 679.2,562.4 673.2,564.0 667.3,563.2 661.3,560.8 655.4,557.6 649.4,554.4 643.5,552.8 631.6,550.4 625.6,549.6 619.7,549.6 613.8,551.2 607.8,548.8 601.9,544.8 595.9,537.6 590.0,535.2 584.0,534.1 578.1,531.2 572.1,530.4 566.2,528.8 560.2,528.5 554.3,530.4 548.3,532.0 542.4,534.4 536.5,536.8 530.5,540.0 524.6,543.2 518.6,546.9 512.7,552.0 506.7,557.6 500.8,563.2 494.8,567.7 488.9,570.4 482.9,572.3 477.0,572.5 471.0,572.8 465.1,572.5 459.2,571.2 453.2,569.9 447.3,568.5 441.3,568.0 435.4,571.2 429.4,579.2 423.5,586.4 411.6,586.4 399.7,584.0 393.7,580.8 387.8,576.8 381.9,573.6 375.9,572.0 370.0,568.0 364.0,563.2 358.1,557.6 352.1,556.0 346.2,556.0 340.2,553.6 334.3,552.8 328.3,553.1 322.4,554.4 316.4,554.4 310.5,551.2 304.6,549.6 298.6,550.4 292.7,552.0 286.7,553.6 280.8,554.1 274.8,552.8 268.9,549.6 262.9,546.4 257.0,543.5 251.0,540.8 245.1,536.8 239.2,534.1 233.2,529.9 227.3,526.4 221.3,519.2 215.4,508.8 209.4,500.8 203.5,496.0 197.5,484.4 185.6,478.8 179.7,480.4 173.7,479.6 161.9,477.2 150.0,475.6 144.0,477.2 132.1,489.2 126.2,505.2 114.3,521.2 102.4,533.2 90.5,541.2 78.6,545.2 66.7,549.2 60.8,549.5 48.9,546.0 37.0,542.0 25.1,537.2 17.0,536.4" fill="none" stroke="#a4adb4" stroke-width="0.8"/>
<line x1="757" x2="878" y1="419" y2="419" stroke="#86a878" stroke-width="1.6"/>
<polyline points="17.0,506.0 31.0,500.4 42.9,495.6 54.8,492.4 78.6,481.2 102.4,475.6 120.2,465.2 144.0,454.8 167.8,455.3 185.6,458.0 197.5,461.2 203.5,464.0 215.4,468.8 227.3,475.2 239.2,486.4 251.0,491.2 262.9,498.4 274.8,506.4 286.7,513.3 298.6,516.0 310.5,518.4 322.4,519.2 334.3,519.7 346.2,520.3 358.1,522.9 370.0,526.4 381.9,529.6 387.8,530.6 393.7,531.5 405.6,532.8 423.5,534.1 435.4,537.6 447.3,540.0 459.2,541.3 471.0,540.0 482.9,536.8 494.8,532.8 506.7,529.6 518.6,526.4 530.5,524.0 542.4,522.4 554.3,520.8 566.2,520.0 578.1,518.4 584.0,517.6 590.0,516.0 595.9,514.4 601.9,510.4 607.8,505.6 613.8,502.4 619.7,500.8 625.6,500.0 631.6,500.3 637.5,501.1 643.5,502.4 649.4,503.2 655.4,504.0 661.3,504.8 667.3,505.6 673.2,504.8 679.2,501.6 685.1,499.2 691.0,496.8 697.0,495.5 702.9,493.6 708.9,492.8 714.8,492.5 720.8,492.8 726.7,493.6 732.7,494.4 738.6,494.4 744.6,494.4 750.5,492.0 756.5,482.4 762.4,474.4 768.3,466.4 774.3,456.8 780.2,450.4 786.2,442.4 792.1,434.4 798.1,427.2 804.0,420.0 810.0,410.4 815.9,399.2 821.9,387.2 827.8,376.8 833.8,367.2 839.7,362.0 845.6,350.8 851.6,339.6 857.5,327.6 863.5,315.6 869.4,306.8 875.4,298.0 881.3,292.4 887.3,287.6 893.2,284.4 899.2,282.0 905.1,280.4 911.0,279.1 917.0,278.3 922.9,278.8 928.9,282.0" fill="none" stroke="#aaa6b8" stroke-width="1" stroke-linejoin="round" stroke-dasharray="3,3"/>
<polyline points="17.0,488.2 60.8,487.9 114.3,487.3 150.0,486.6 185.6,488.1 215.4,488.2 227.3,488.5 304.6,488.5 310.5,489.0 322.4,488.5 399.7,488.5 423.5,488.5 477.0,488.5 482.9,487.8 488.9,488.5 536.5,488.5 542.4,487.8 548.3,488.5 584.0,488.5 595.9,489.6 613.8,491.2 631.6,492.8 649.4,494.9 667.3,496.0 679.2,497.1 691.0,498.4 714.8,498.9 738.6,499.2 756.5,499.5 762.4,499.5 774.3,499.4 786.2,498.4 798.1,497.6 804.0,496.8 810.0,495.2 815.9,493.6 821.9,492.3 827.8,491.2 833.8,489.6 839.7,488.0 845.6,486.7 851.6,485.6 857.5,484.0 863.5,482.9 869.4,481.1 875.4,479.5 881.3,478.4 887.3,477.3 893.2,476.3 899.2,475.5 905.1,474.4 911.0,472.8 917.0,471.5 922.9,471.2 928.9,470.4" fill="none" stroke="#26266e" stroke-width="1.0" stroke-linejoin="round" />
<polyline points="17.0,506.0 31.0,505.2 60.8,501.5 90.5,501.2 114.3,497.5 132.1,492.4 144.0,488.4 161.9,483.6 179.7,479.6 185.6,478.5 197.5,478.5 209.4,478.7 227.3,478.4 251.0,480.8 268.9,482.7 286.7,484.0 304.6,484.3 310.5,483.7 322.4,483.2 334.3,485.9 352.1,490.4 370.0,497.1 387.8,502.9 393.7,504.3 405.6,508.5 423.5,511.2 435.4,514.4 447.3,517.6 459.2,521.1 471.0,523.2 482.9,524.0 494.8,525.6 506.7,527.2 512.7,528.0 560.2,528.0 566.2,527.5 572.1,527.2 584.0,526.9 590.0,525.6 595.9,523.5 607.8,521.6 619.7,520.3 631.6,520.8 649.4,521.1 661.3,521.1 667.3,520.0 673.2,519.2 679.2,518.4 685.1,517.6 691.0,514.7 697.0,512.3 702.9,510.4 708.9,508.8 714.8,507.5 720.8,505.6 726.7,504.8 732.7,504.0 738.6,502.9 744.6,501.6 750.5,500.0 756.5,497.6 762.4,495.2 768.3,492.3 774.3,489.6 780.2,485.6 786.2,482.4 792.1,478.9 798.1,476.0 804.0,472.0 810.0,466.4 815.9,460.8 821.9,455.5 827.8,450.4 833.8,445.6 839.7,440.8 845.6,434.4 851.6,428.0 857.5,421.9 863.5,416.0 869.4,410.4 875.4,404.8 881.3,401.6 887.3,397.6 893.2,393.6 899.2,389.9 905.1,387.2 911.0,384.5 917.0,382.4 922.9,379.7 928.9,377.3" fill="none" stroke="#0d6b16" stroke-width="1.2" stroke-linejoin="round" />
<polyline points="17.0,511.9 31.0,506.0 42.9,495.6 54.8,481.2 66.7,466.8 72.7,460.7 78.6,458.8 84.6,457.2 90.5,456.4 102.4,455.9 108.3,455.3 114.3,454.8 120.2,459.1 126.2,458.8 132.1,457.5 138.1,455.6 144.0,453.2 150.0,452.4 155.9,452.7 161.9,453.2 167.8,454.0 173.7,455.6 179.7,458.8 185.6,462.0 191.6,465.2 197.5,470.0 203.5,474.4 209.4,480.8 221.3,492.5 233.2,501.3 245.1,507.5 257.0,513.9 268.9,520.8 280.8,525.9 292.7,528.8 298.6,530.4 304.6,530.4 310.5,526.4 316.4,521.6 322.4,517.9 328.3,515.5 334.3,513.6 340.2,512.0 346.2,513.9 352.1,513.9 358.1,513.9 364.0,517.6 370.0,526.4 375.9,534.9 381.9,540.8 387.8,544.8 393.7,548.0 399.7,551.2 411.6,553.6 423.5,553.6 429.4,552.0 435.4,550.1 441.3,546.9 447.3,543.2 453.2,539.2 459.2,535.2 465.1,530.4 471.0,526.4 477.0,523.2 482.9,522.4 488.9,521.6 494.8,520.8 500.8,520.0 506.7,520.5 512.7,522.1 518.6,522.4 524.6,522.9 530.5,522.4 536.5,521.1 542.4,520.0 548.3,519.2 554.3,518.7 560.2,518.4 566.2,517.9 572.1,516.8 578.1,514.7 584.0,511.2 590.0,510.9 595.9,508.8 601.9,502.4 607.8,496.0 613.8,490.7 619.7,485.1 625.6,483.2 631.6,484.5 637.5,488.8 643.5,492.8 649.4,496.0 655.4,502.4 661.3,508.8 667.3,515.2 673.2,517.6 679.2,518.9 685.1,519.2 691.0,513.6 697.0,506.4 702.9,499.2 708.9,492.0 714.8,486.4 720.8,479.2 726.7,475.2 732.7,472.8 738.6,472.0 744.6,471.2 750.5,468.0 756.5,460.8 762.4,452.8 768.3,442.4 774.3,429.6 780.2,418.4 786.2,408.8 792.1,399.2 798.1,391.2 804.0,383.2 810.0,365.6 815.9,348.0 821.9,333.2 827.8,323.6 833.8,315.6 839.7,306.0 845.6,296.4 851.6,286.8 857.5,272.4 863.5,257.2 869.4,251.6 875.4,247.6 881.3,248.7 887.3,251.6 893.2,253.2 899.2,260.4 905.1,269.2 911.0,278.8 917.0,289.2 922.9,302.8 928.9,314.8" fill="none" stroke="#d8183a" stroke-width="1.1" stroke-linejoin="round" />
<path d="M26.2,418.5h31v10h-11.0l-4.5,4.5l-4.5,-4.5h-11.0z" fill="#fff" stroke="#b3a6bb" stroke-width="0.9"/>
<text x="28.1" y="427.1" class="vc" style="font-size:9.1px" textLength="27.2" lengthAdjust="spacingAndGlyphs">13.550</text>
<path d="M44.2,401.7h31v10h-11.0l-4.5,4.5l-4.5,-4.5h-11.0z" fill="#fff" stroke="#b3a6bb" stroke-width="0.9"/>
<text x="46.1" y="410.3" class="vc" style="font-size:9.1px" textLength="27.2" lengthAdjust="spacingAndGlyphs">13.780</text>
<path d="M86.2,395.6h31v10h-11.0l-4.5,4.5l-4.5,-4.5h-11.0z" fill="#fff" stroke="#b3a6bb" stroke-width="0.9"/>
<text x="88.1" y="404.2" class="vc" style="font-size:9.1px" textLength="27.2" lengthAdjust="spacingAndGlyphs">13.860</text>
<path d="M62.2,481.9h11.0l4.5,-4.5l4.5,4.5h11.0v10h-31z" fill="#fff" stroke="#b3a6bb" stroke-width="0.9"/>
<text x="64.1" y="490.5" class="vc" style="font-size:9.1px" textLength="27.2" lengthAdjust="spacingAndGlyphs">12.990</text>
<path d="M223.2,483.7h31v10h-11.0l-4.5,4.5l-4.5,-4.5h-11.0z" fill="#fff" stroke="#b3a6bb" stroke-width="0.9"/>
<text x="225.1" y="492.3" class="vc" style="font-size:9.1px" textLength="27.2" lengthAdjust="spacingAndGlyphs">12.700</text>
<path d="M217.2,534.3h11.0l4.5,-4.5l4.5,4.5h11.0v10h-31z" fill="#fff" stroke="#b3a6bb" stroke-width="0.9"/>
<text x="219.1" y="542.9" class="vc" style="font-size:9.1px" textLength="27.2" lengthAdjust="spacingAndGlyphs">12.340</text>
<path d="M258.2,558.3h11.0l4.5,-4.5l4.5,4.5h11.0v10h-31z" fill="#fff" stroke="#b3a6bb" stroke-width="0.9"/>
<text x="260.1" y="566.9" class="vc" style="font-size:9.1px" textLength="27.2" lengthAdjust="spacingAndGlyphs">12.060</text>
<path d="M300.2,440.8h31v10h-11.0l-4.5,4.5l-4.5,-4.5h-11.0z" fill="#fff" stroke="#b3a6bb" stroke-width="0.9"/>
<text x="302.1" y="449.4" class="vc" style="font-size:9.1px" textLength="27.2" lengthAdjust="spacingAndGlyphs">13.260</text>
<path d="M336.2,495.7h31v10h-11.0l-4.5,4.5l-4.5,-4.5h-11.0z" fill="#fff" stroke="#b3a6bb" stroke-width="0.9"/>
<text x="338.1" y="504.3" class="vc" style="font-size:9.1px" textLength="27.2" lengthAdjust="spacingAndGlyphs">12.560</text>
<path d="M330.2,553.5h11.0l4.5,-4.5l4.5,4.5h11.0v10h-31z" fill="#fff" stroke="#b3a6bb" stroke-width="0.9"/>
<text x="332.1" y="562.1" class="vc" style="font-size:9.1px" textLength="27.2" lengthAdjust="spacingAndGlyphs">12.120</text>
<path d="M365.2,575.6h11.0l4.5,-4.5l4.5,4.5h11.0v10h-31z" fill="#fff" stroke="#b3a6bb" stroke-width="0.9"/>
<text x="367.1" y="584.2" class="vc" style="font-size:9.1px" textLength="27.2" lengthAdjust="spacingAndGlyphs">11.850</text>
<path d="M568.2,467.7h31v10h-11.0l-4.5,4.5l-4.5,-4.5h-11.0z" fill="#fff" stroke="#b3a6bb" stroke-width="0.9"/>
<text x="570.1" y="476.3" class="vc" style="font-size:9.1px" textLength="27.2" lengthAdjust="spacingAndGlyphs">12.900</text>
<path d="M573.2,524.7h11.0l4.5,-4.5l4.5,4.5h11.0v10h-31z" fill="#fff" stroke="#b3a6bb" stroke-width="0.9"/>
<text x="575.1" y="533.3" class="vc" style="font-size:9.1px" textLength="27.2" lengthAdjust="spacingAndGlyphs">12.470</text>
<path d="M597.2,434.6h31v10h-11.0l-4.5,4.5l-4.5,-4.5h-11.0z" fill="#fff" stroke="#b3a6bb" stroke-width="0.9"/>
<text x="599.1" y="443.2" class="vc" style="font-size:9.1px" textLength="27.2" lengthAdjust="spacingAndGlyphs">13.330</text>
<path d="M639.2,554.0h11.0l4.5,-4.5l4.5,4.5h11.0v10h-31z" fill="#fff" stroke="#b3a6bb" stroke-width="0.9"/>
<text x="641.1" y="562.6" class="vc" style="font-size:9.1px" textLength="27.2" lengthAdjust="spacingAndGlyphs">12.110</text>
<path d="M764.2,323.4h31v10h-11.0l-4.5,4.5l-4.5,-4.5h-11.0z" fill="#fff" stroke="#b3a6bb" stroke-width="0.9"/>
<text x="766.1" y="332.0" class="vc" style="font-size:9.1px" textLength="27.2" lengthAdjust="spacingAndGlyphs">14.880</text>
<path d="M788.2,401.5h11.0l4.5,-4.5l4.5,4.5h11.0v10h-31z" fill="#fff" stroke="#b3a6bb" stroke-width="0.9"/>
<text x="790.1" y="410.1" class="vc" style="font-size:9.1px" textLength="27.2" lengthAdjust="spacingAndGlyphs">14.080</text>
<path d="M799.2,238.8h31v10h-11.0l-4.5,4.5l-4.5,-4.5h-11.0z" fill="#fff" stroke="#b3a6bb" stroke-width="0.9"/>
<text x="801.1" y="247.4" class="vc" style="font-size:9.1px" textLength="27.2" lengthAdjust="spacingAndGlyphs">16.180</text>
<path d="M847.2,176.1h31v10h-11.0l-4.5,4.5l-4.5,-4.5h-11.0z" fill="#fff" stroke="#b3a6bb" stroke-width="0.9"/>
<text x="849.1" y="184.7" class="vc" style="font-size:9.1px" textLength="27.2" lengthAdjust="spacingAndGlyphs">17.190</text>
<clipPath id="ch"><rect x="17" y="602" width="1187" height="290"/></clipPath>
<g clip-path="url(#ch)" class="g">
<rect x="16" y="709" width="7" height="2" fill="#1f6e8c"/>
<rect x="17" y="709" width="5" height="1" fill="#56a4d0"/>
<rect x="16" y="807" width="7" height="3" fill="#1f6e8c"/>
<rect x="17" y="807" width="5" height="2" fill="#56a4d0"/>
<rect x="22" y="707" width="7" height="2" fill="#1f6e8c"/>
<rect x="23" y="708" width="5" height="1" fill="#56a4d0"/>
<rect x="22" y="803" width="7" height="4" fill="#1f6e8c"/>
<rect x="23" y="804" width="5" height="3" fill="#56a4d0"/>
<rect x="28" y="704" width="7" height="5" fill="#1f6e8c"/>
<rect x="29" y="705" width="5" height="4" fill="#56a4d0"/>
<rect x="28" y="795" width="7" height="12" fill="#1f6e8c"/>
<rect x="29" y="796" width="5" height="11" fill="#56a4d0"/>
<rect x="34" y="701" width="5" height="8" fill="#1f6e8c"/>
<rect x="35" y="702" width="3" height="7" fill="#56a4d0"/>
<rect x="34" y="788" width="5" height="19" fill="#1f6e8c"/>
<rect x="35" y="789" width="3" height="18" fill="#56a4d0"/>
<rect x="40" y="700" width="5" height="9" fill="#1f6e8c"/>
<rect x="41" y="701" width="3" height="8" fill="#56a4d0"/>
<rect x="40" y="785" width="5" height="22" fill="#1f6e8c"/>
<rect x="41" y="786" width="3" height="21" fill="#56a4d0"/>
<rect x="46" y="700" width="5" height="9" fill="#1f6e8c"/>
<rect x="47" y="701" width="3" height="8" fill="#56a4d0"/>
<rect x="46" y="784" width="5" height="23" fill="#1f6e8c"/>
<rect x="47" y="785" width="3" height="22" fill="#56a4d0"/>
<rect x="52" y="700" width="5" height="9" fill="#1f6e8c"/>
<rect x="53" y="701" width="3" height="8" fill="#56a4d0"/>
<rect x="52" y="783" width="5" height="24" fill="#1f6e8c"/>
<rect x="53" y="784" width="3" height="23" fill="#56a4d0"/>
<rect x="58" y="698" width="5" height="11" fill="#1f6e8c"/>
<rect x="59" y="699" width="3" height="10" fill="#56a4d0"/>
<rect x="58" y="780" width="5" height="27" fill="#1f6e8c"/>
<rect x="59" y="781" width="3" height="26" fill="#56a4d0"/>
<rect x="64" y="700" width="5" height="9" fill="#1f6e8c"/>
<rect x="65" y="701" width="3" height="8" fill="#56a4d0"/>
<rect x="64" y="785" width="5" height="22" fill="#1f6e8c"/>
<rect x="65" y="786" width="3" height="21" fill="#56a4d0"/>
<rect x="70" y="704" width="5" height="5" fill="#1f6e8c"/>
<rect x="71" y="705" width="3" height="4" fill="#56a4d0"/>
<rect x="70" y="794" width="5" height="13" fill="#1f6e8c"/>
<rect x="71" y="795" width="3" height="12" fill="#56a4d0"/>
<rect x="76" y="707" width="5" height="2" fill="#1f6e8c"/>
<rect x="77" y="708" width="3" height="1" fill="#56a4d0"/>
<rect x="76" y="801" width="5" height="6" fill="#1f6e8c"/>
<rect x="77" y="802" width="3" height="5" fill="#56a4d0"/>
<rect x="82" y="708" width="5" height="1" fill="#1f6e8c"/>
<rect x="82" y="803" width="5" height="4" fill="#1f6e8c"/>
<rect x="83" y="804" width="3" height="3" fill="#56a4d0"/>
<rect x="88" y="709" width="5" height="1" fill="#1f6e8c"/>
<rect x="88" y="806" width="5" height="1" fill="#1f6e8c"/>
<rect x="94" y="709" width="5" height="2" fill="#1f6e8c"/>
<rect x="95" y="709" width="3" height="1" fill="#56a4d0"/>
<rect x="94" y="807" width="5" height="3" fill="#1f6e8c"/>
<rect x="95" y="807" width="3" height="2" fill="#56a4d0"/>
<rect x="99" y="708" width="7" height="1" fill="#1f6e8c"/>
<rect x="99" y="805" width="7" height="2" fill="#1f6e8c"/>
<rect x="100" y="806" width="5" height="1" fill="#56a4d0"/>
<rect x="105" y="708" width="7" height="1" fill="#1f6e8c"/>
<rect x="105" y="805" width="7" height="2" fill="#1f6e8c"/>
<rect x="106" y="806" width="5" height="1" fill="#56a4d0"/>
<rect x="111" y="709" width="7" height="2" fill="#1f6e8c"/>
<rect x="112" y="709" width="5" height="1" fill="#56a4d0"/>
<rect x="111" y="807" width="7" height="3" fill="#1f6e8c"/>
<rect x="112" y="807" width="5" height="2" fill="#56a4d0"/>
<rect x="117" y="709" width="7" height="2" fill="#1f6e8c"/>
<rect x="118" y="709" width="5" height="1" fill="#56a4d0"/>
<rect x="117" y="807" width="7" height="3" fill="#1f6e8c"/>
<rect x="118" y="807" width="5" height="2" fill="#56a4d0"/>
<rect x="123" y="709" width="7" height="2" fill="#1f6e8c"/>
<rect x="124" y="709" width="5" height="1" fill="#56a4d0"/>
<rect x="123" y="807" width="7" height="3" fill="#1f6e8c"/>
<rect x="124" y="807" width="5" height="2" fill="#56a4d0"/>
<rect x="129" y="709" width="7" height="3" fill="#1f6e8c"/>
<rect x="130" y="709" width="5" height="2" fill="#56a4d0"/>
<rect x="129" y="807" width="7" height="5" fill="#1f6e8c"/>
<rect x="130" y="807" width="5" height="4" fill="#56a4d0"/>
<rect x="135" y="709" width="7" height="2" fill="#1f6e8c"/>
<rect x="136" y="709" width="5" height="1" fill="#56a4d0"/>
<rect x="135" y="807" width="7" height="4" fill="#1f6e8c"/>
<rect x="136" y="807" width="5" height="3" fill="#56a4d0"/>
<rect x="141" y="709" width="7" height="2" fill="#1f6e8c"/>
<rect x="142" y="709" width="5" height="1" fill="#56a4d0"/>
<rect x="141" y="807" width="7" height="2" fill="#1f6e8c"/>
<rect x="142" y="807" width="5" height="1" fill="#56a4d0"/>
<rect x="147" y="709" width="5" height="3" fill="#1f6e8c"/>
<rect x="148" y="709" width="3" height="2" fill="#56a4d0"/>
<rect x="147" y="807" width="5" height="6" fill="#1f6e8c"/>
<rect x="148" y="807" width="3" height="5" fill="#56a4d0"/>
<rect x="153" y="709" width="5" height="4" fill="#1f6e8c"/>
<rect x="154" y="709" width="3" height="3" fill="#56a4d0"/>
<rect x="153" y="807" width="5" height="9" fill="#1f6e8c"/>
<rect x="154" y="807" width="3" height="8" fill="#56a4d0"/>
<rect x="159" y="709" width="5" height="4" fill="#1f6e8c"/>
<rect x="160" y="709" width="3" height="3" fill="#56a4d0"/>
<rect x="159" y="807" width="5" height="7" fill="#1f6e8c"/>
<rect x="160" y="807" width="3" height="6" fill="#56a4d0"/>
<rect x="165" y="709" width="5" height="5" fill="#1f6e8c"/>
<rect x="166" y="709" width="3" height="4" fill="#56a4d0"/>
<rect x="165" y="807" width="5" height="10" fill="#1f6e8c"/>
<rect x="166" y="807" width="3" height="9" fill="#56a4d0"/>
<rect x="171" y="709" width="5" height="6" fill="#1f6e8c"/>
<rect x="172" y="709" width="3" height="5" fill="#56a4d0"/>
<rect x="171" y="807" width="5" height="14" fill="#1f6e8c"/>
<rect x="172" y="807" width="3" height="13" fill="#56a4d0"/>
<rect x="177" y="709" width="5" height="8" fill="#1f6e8c"/>
<rect x="178" y="709" width="3" height="7" fill="#56a4d0"/>
<rect x="177" y="807" width="5" height="19" fill="#1f6e8c"/>
<rect x="178" y="807" width="3" height="18" fill="#56a4d0"/>
<rect x="183" y="709" width="5" height="9" fill="#1f6e8c"/>
<rect x="184" y="709" width="3" height="8" fill="#56a4d0"/>
<rect x="183" y="807" width="5" height="21" fill="#1f6e8c"/>
<rect x="184" y="807" width="3" height="20" fill="#56a4d0"/>
<rect x="189" y="709" width="5" height="10" fill="#1f6e8c"/>
<rect x="190" y="709" width="3" height="9" fill="#56a4d0"/>
<rect x="189" y="807" width="5" height="22" fill="#1f6e8c"/>
<rect x="190" y="807" width="3" height="21" fill="#56a4d0"/>
<rect x="195" y="709" width="5" height="10" fill="#1f6e8c"/>
<rect x="196" y="709" width="3" height="9" fill="#56a4d0"/>
<rect x="195" y="807" width="5" height="25" fill="#1f6e8c"/>
<rect x="196" y="807" width="3" height="24" fill="#56a4d0"/>
<rect x="201" y="709" width="5" height="10" fill="#1f6e8c"/>
<rect x="202" y="709" width="3" height="9" fill="#56a4d0"/>
<rect x="201" y="807" width="5" height="25" fill="#1f6e8c"/>
<rect x="202" y="807" width="3" height="24" fill="#56a4d0"/>
<rect x="207" y="709" width="5" height="10" fill="#1f6e8c"/>
<rect x="208" y="709" width="3" height="9" fill="#56a4d0"/>
<rect x="207" y="807" width="5" height="24" fill="#1f6e8c"/>
<rect x="208" y="807" width="3" height="23" fill="#56a4d0"/>
<rect x="212" y="709" width="7" height="11" fill="#1f6e8c"/>
<rect x="213" y="709" width="5" height="10" fill="#56a4d0"/>
<rect x="212" y="807" width="7" height="25" fill="#1f6e8c"/>
<rect x="213" y="807" width="5" height="24" fill="#56a4d0"/>
<rect x="218" y="709" width="7" height="12" fill="#1f6e8c"/>
<rect x="219" y="709" width="5" height="11" fill="#56a4d0"/>
<rect x="218" y="807" width="7" height="27" fill="#1f6e8c"/>
<rect x="219" y="807" width="5" height="26" fill="#56a4d0"/>
<rect x="224" y="709" width="7" height="11" fill="#1f6e8c"/>
<rect x="225" y="709" width="5" height="10" fill="#56a4d0"/>
<rect x="224" y="807" width="7" height="25" fill="#1f6e8c"/>
<rect x="225" y="807" width="5" height="24" fill="#56a4d0"/>
<rect x="230" y="709" width="7" height="10" fill="#1f6e8c"/>
<rect x="231" y="709" width="5" height="9" fill="#56a4d0"/>
<rect x="230" y="807" width="7" height="25" fill="#1f6e8c"/>
<rect x="231" y="807" width="5" height="24" fill="#56a4d0"/>
<rect x="236" y="709" width="7" height="8" fill="#1f6e8c"/>
<rect x="237" y="709" width="5" height="7" fill="#56a4d0"/>
<rect x="236" y="807" width="7" height="19" fill="#1f6e8c"/>
<rect x="237" y="807" width="5" height="18" fill="#56a4d0"/>
<rect x="242" y="709" width="7" height="8" fill="#1f6e8c"/>
<rect x="243" y="709" width="5" height="7" fill="#56a4d0"/>
<rect x="242" y="807" width="7" height="17" fill="#1f6e8c"/>
<rect x="243" y="807" width="5" height="16" fill="#56a4d0"/>
<rect x="248" y="709" width="7" height="7" fill="#1f6e8c"/>
<rect x="249" y="709" width="5" height="6" fill="#56a4d0"/>
<rect x="248" y="807" width="7" height="16" fill="#1f6e8c"/>
<rect x="249" y="807" width="5" height="15" fill="#56a4d0"/>
<rect x="254" y="709" width="5" height="6" fill="#1f6e8c"/>
<rect x="255" y="709" width="3" height="5" fill="#56a4d0"/>
<rect x="254" y="807" width="5" height="13" fill="#1f6e8c"/>
<rect x="255" y="807" width="3" height="12" fill="#56a4d0"/>
<rect x="260" y="709" width="5" height="6" fill="#1f6e8c"/>
<rect x="261" y="709" width="3" height="5" fill="#56a4d0"/>
<rect x="260" y="807" width="5" height="14" fill="#1f6e8c"/>
<rect x="261" y="807" width="3" height="13" fill="#56a4d0"/>
<rect x="266" y="709" width="5" height="6" fill="#1f6e8c"/>
<rect x="267" y="709" width="3" height="5" fill="#56a4d0"/>
<rect x="266" y="807" width="5" height="13" fill="#1f6e8c"/>
<rect x="267" y="807" width="3" height="12" fill="#56a4d0"/>
<rect x="272" y="709" width="5" height="6" fill="#1f6e8c"/>
<rect x="273" y="709" width="3" height="5" fill="#56a4d0"/>
<rect x="272" y="807" width="5" height="13" fill="#1f6e8c"/>
<rect x="273" y="807" width="3" height="12" fill="#56a4d0"/>
<rect x="278" y="709" width="5" height="6" fill="#1f6e8c"/>
<rect x="279" y="709" width="3" height="5" fill="#56a4d0"/>
<rect x="278" y="807" width="5" height="13" fill="#1f6e8c"/>
<rect x="279" y="807" width="3" height="12" fill="#56a4d0"/>
<rect x="284" y="709" width="5" height="4" fill="#1f6e8c"/>
<rect x="285" y="709" width="3" height="3" fill="#56a4d0"/>
<rect x="284" y="807" width="5" height="9" fill="#1f6e8c"/>
<rect x="285" y="807" width="3" height="8" fill="#56a4d0"/>
<rect x="290" y="709" width="5" height="3" fill="#1f6e8c"/>
<rect x="291" y="709" width="3" height="2" fill="#56a4d0"/>
<rect x="290" y="807" width="5" height="5" fill="#1f6e8c"/>
<rect x="291" y="807" width="3" height="4" fill="#56a4d0"/>
<rect x="296" y="709" width="5" height="2" fill="#1f6e8c"/>
<rect x="297" y="709" width="3" height="1" fill="#56a4d0"/>
<rect x="296" y="807" width="5" height="2" fill="#1f6e8c"/>
<rect x="297" y="807" width="3" height="1" fill="#56a4d0"/>
<rect x="302" y="708" width="5" height="1" fill="#1f6e8c"/>
<rect x="302" y="803" width="5" height="4" fill="#1f6e8c"/>
<rect x="303" y="804" width="3" height="3" fill="#56a4d0"/>
<rect x="308" y="702" width="5" height="7" fill="#1f6e8c"/>
<rect x="309" y="703" width="3" height="6" fill="#56a4d0"/>
<rect x="308" y="790" width="5" height="17" fill="#1f6e8c"/>
<rect x="309" y="791" width="3" height="16" fill="#56a4d0"/>
<rect x="314" y="699" width="5" height="10" fill="#1f6e8c"/>
<rect x="315" y="700" width="3" height="9" fill="#56a4d0"/>
<rect x="314" y="781" width="5" height="26" fill="#1f6e8c"/>
<rect x="315" y="782" width="3" height="25" fill="#56a4d0"/>
<rect x="319" y="700" width="7" height="9" fill="#1f6e8c"/>
<rect x="320" y="701" width="5" height="8" fill="#56a4d0"/>
<rect x="319" y="783" width="7" height="24" fill="#1f6e8c"/>
<rect x="320" y="784" width="5" height="23" fill="#56a4d0"/>
<rect x="325" y="702" width="7" height="7" fill="#1f6e8c"/>
<rect x="326" y="703" width="5" height="6" fill="#56a4d0"/>
<rect x="325" y="790" width="7" height="17" fill="#1f6e8c"/>
<rect x="326" y="791" width="5" height="16" fill="#56a4d0"/>
<rect x="331" y="705" width="7" height="4" fill="#1f6e8c"/>
<rect x="332" y="706" width="5" height="3" fill="#56a4d0"/>
<rect x="331" y="796" width="7" height="11" fill="#1f6e8c"/>
<rect x="332" y="797" width="5" height="10" fill="#56a4d0"/>
<rect x="337" y="707" width="7" height="2" fill="#1f6e8c"/>
<rect x="338" y="708" width="5" height="1" fill="#56a4d0"/>
<rect x="337" y="801" width="7" height="6" fill="#1f6e8c"/>
<rect x="338" y="802" width="5" height="5" fill="#56a4d0"/>
<rect x="343" y="709" width="7" height="2" fill="#1f6e8c"/>
<rect x="344" y="709" width="5" height="1" fill="#56a4d0"/>
<rect x="343" y="807" width="7" height="2" fill="#1f6e8c"/>
<rect x="344" y="807" width="5" height="1" fill="#56a4d0"/>
<rect x="349" y="709" width="7" height="1" fill="#1f6e8c"/>
<rect x="349" y="807" width="7" height="1" fill="#1f6e8c"/>
<rect x="355" y="709" width="7" height="2" fill="#1f6e8c"/>
<rect x="356" y="709" width="5" height="1" fill="#56a4d0"/>
<rect x="355" y="807" width="7" height="4" fill="#1f6e8c"/>
<rect x="356" y="807" width="5" height="3" fill="#56a4d0"/>
<rect x="361" y="709" width="7" height="3" fill="#1f6e8c"/>
<rect x="362" y="709" width="5" height="2" fill="#56a4d0"/>
<rect x="361" y="807" width="7" height="6" fill="#1f6e8c"/>
<rect x="362" y="807" width="5" height="5" fill="#56a4d0"/>
<rect x="367" y="709" width="5" height="5" fill="#1f6e8c"/>
<rect x="368" y="709" width="3" height="4" fill="#56a4d0"/>
<rect x="367" y="807" width="5" height="10" fill="#1f6e8c"/>
<rect x="368" y="807" width="3" height="9" fill="#56a4d0"/>
<rect x="373" y="709" width="5" height="6" fill="#1f6e8c"/>
<rect x="374" y="709" width="3" height="5" fill="#56a4d0"/>
<rect x="373" y="807" width="5" height="13" fill="#1f6e8c"/>
<rect x="374" y="807" width="3" height="12" fill="#56a4d0"/>
<rect x="379" y="709" width="5" height="7" fill="#1f6e8c"/>
<rect x="380" y="709" width="3" height="6" fill="#56a4d0"/>
<rect x="379" y="807" width="5" height="15" fill="#1f6e8c"/>
<rect x="380" y="807" width="3" height="14" fill="#56a4d0"/>
<rect x="385" y="709" width="5" height="6" fill="#1f6e8c"/>
<rect x="386" y="709" width="3" height="5" fill="#56a4d0"/>
<rect x="385" y="807" width="5" height="14" fill="#1f6e8c"/>
<rect x="386" y="807" width="3" height="13" fill="#56a4d0"/>
<rect x="391" y="709" width="5" height="6" fill="#1f6e8c"/>
<rect x="392" y="709" width="3" height="5" fill="#56a4d0"/>
<rect x="391" y="807" width="5" height="13" fill="#1f6e8c"/>
<rect x="392" y="807" width="3" height="12" fill="#56a4d0"/>
<rect x="397" y="709" width="5" height="4" fill="#1f6e8c"/>
<rect x="398" y="709" width="3" height="3" fill="#56a4d0"/>
<rect x="397" y="807" width="5" height="7" fill="#1f6e8c"/>
<rect x="398" y="807" width="3" height="6" fill="#56a4d0"/>
<rect x="403" y="709" width="5" height="2" fill="#1f6e8c"/>
<rect x="404" y="709" width="3" height="1" fill="#56a4d0"/>
<rect x="403" y="807" width="5" height="2" fill="#1f6e8c"/>
<rect x="404" y="807" width="3" height="1" fill="#56a4d0"/>
<rect x="409" y="709" width="5" height="1" fill="#1f6e8c"/>
<rect x="409" y="806" width="5" height="1" fill="#1f6e8c"/>
<rect x="421" y="708" width="5" height="1" fill="#1f6e8c"/>
<rect x="421" y="803" width="5" height="4" fill="#1f6e8c"/>
<rect x="422" y="804" width="3" height="3" fill="#56a4d0"/>
<rect x="427" y="706" width="5" height="3" fill="#1f6e8c"/>
<rect x="428" y="707" width="3" height="2" fill="#56a4d0"/>
<rect x="427" y="799" width="5" height="8" fill="#1f6e8c"/>
<rect x="428" y="800" width="3" height="7" fill="#56a4d0"/>
<rect x="432" y="705" width="7" height="4" fill="#1f6e8c"/>
<rect x="433" y="706" width="5" height="3" fill="#56a4d0"/>
<rect x="432" y="797" width="7" height="10" fill="#1f6e8c"/>
<rect x="433" y="798" width="5" height="9" fill="#56a4d0"/>
<rect x="438" y="704" width="7" height="5" fill="#1f6e8c"/>
<rect x="439" y="705" width="5" height="4" fill="#56a4d0"/>
<rect x="438" y="795" width="7" height="12" fill="#1f6e8c"/>
<rect x="439" y="796" width="5" height="11" fill="#56a4d0"/>
<rect x="444" y="702" width="7" height="7" fill="#1f6e8c"/>
<rect x="445" y="703" width="5" height="6" fill="#56a4d0"/>
<rect x="444" y="791" width="7" height="16" fill="#1f6e8c"/>
<rect x="445" y="792" width="5" height="15" fill="#56a4d0"/>
<rect x="450" y="702" width="7" height="7" fill="#1f6e8c"/>
<rect x="451" y="703" width="5" height="6" fill="#56a4d0"/>
<rect x="450" y="789" width="7" height="18" fill="#1f6e8c"/>
<rect x="451" y="790" width="5" height="17" fill="#56a4d0"/>
<rect x="456" y="703" width="7" height="6" fill="#1f6e8c"/>
<rect x="457" y="704" width="5" height="5" fill="#56a4d0"/>
<rect x="456" y="791" width="7" height="16" fill="#1f6e8c"/>
<rect x="457" y="792" width="5" height="15" fill="#56a4d0"/>
<rect x="462" y="702" width="7" height="7" fill="#1f6e8c"/>
<rect x="463" y="703" width="5" height="6" fill="#56a4d0"/>
<rect x="462" y="789" width="7" height="18" fill="#1f6e8c"/>
<rect x="463" y="790" width="5" height="17" fill="#56a4d0"/>
<rect x="468" y="702" width="7" height="7" fill="#1f6e8c"/>
<rect x="469" y="703" width="5" height="6" fill="#56a4d0"/>
<rect x="468" y="789" width="7" height="18" fill="#1f6e8c"/>
<rect x="469" y="790" width="5" height="17" fill="#56a4d0"/>
<rect x="474" y="703" width="5" height="6" fill="#1f6e8c"/>
<rect x="475" y="704" width="3" height="5" fill="#56a4d0"/>
<rect x="474" y="791" width="5" height="16" fill="#1f6e8c"/>
<rect x="475" y="792" width="3" height="15" fill="#56a4d0"/>
<rect x="480" y="704" width="5" height="5" fill="#1f6e8c"/>
<rect x="481" y="705" width="3" height="4" fill="#56a4d0"/>
<rect x="480" y="794" width="5" height="13" fill="#1f6e8c"/>
<rect x="481" y="795" width="3" height="12" fill="#56a4d0"/>
<rect x="486" y="706" width="5" height="3" fill="#1f6e8c"/>
<rect x="487" y="707" width="3" height="2" fill="#56a4d0"/>
<rect x="486" y="799" width="5" height="8" fill="#1f6e8c"/>
<rect x="487" y="800" width="3" height="7" fill="#56a4d0"/>
<rect x="492" y="707" width="5" height="2" fill="#1f6e8c"/>
<rect x="493" y="708" width="3" height="1" fill="#56a4d0"/>
<rect x="492" y="801" width="5" height="6" fill="#1f6e8c"/>
<rect x="493" y="802" width="3" height="5" fill="#56a4d0"/>
<rect x="498" y="707" width="5" height="2" fill="#1f6e8c"/>
<rect x="499" y="708" width="3" height="1" fill="#56a4d0"/>
<rect x="498" y="802" width="5" height="5" fill="#1f6e8c"/>
<rect x="499" y="803" width="3" height="4" fill="#56a4d0"/>
<rect x="504" y="707" width="5" height="2" fill="#1f6e8c"/>
<rect x="505" y="708" width="3" height="1" fill="#56a4d0"/>
<rect x="504" y="802" width="5" height="5" fill="#1f6e8c"/>
<rect x="505" y="803" width="3" height="4" fill="#56a4d0"/>
<rect x="510" y="708" width="5" height="1" fill="#1f6e8c"/>
<rect x="510" y="803" width="5" height="4" fill="#1f6e8c"/>
<rect x="511" y="804" width="3" height="3" fill="#56a4d0"/>
<rect x="516" y="708" width="5" height="1" fill="#1f6e8c"/>
<rect x="516" y="803" width="5" height="4" fill="#1f6e8c"/>
<rect x="517" y="804" width="3" height="3" fill="#56a4d0"/>
<rect x="522" y="708" width="5" height="1" fill="#1f6e8c"/>
<rect x="522" y="804" width="5" height="3" fill="#1f6e8c"/>
<rect x="523" y="805" width="3" height="2" fill="#56a4d0"/>
<rect x="528" y="708" width="5" height="1" fill="#1f6e8c"/>
<rect x="528" y="803" width="5" height="4" fill="#1f6e8c"/>
<rect x="529" y="804" width="3" height="3" fill="#56a4d0"/>
<rect x="534" y="707" width="5" height="2" fill="#1f6e8c"/>
<rect x="535" y="708" width="3" height="1" fill="#56a4d0"/>
<rect x="534" y="802" width="5" height="5" fill="#1f6e8c"/>
<rect x="535" y="803" width="3" height="4" fill="#56a4d0"/>
<rect x="539" y="708" width="7" height="1" fill="#1f6e8c"/>
<rect x="539" y="803" width="7" height="4" fill="#1f6e8c"/>
<rect x="540" y="804" width="5" height="3" fill="#56a4d0"/>
<rect x="545" y="708" width="7" height="1" fill="#1f6e8c"/>
<rect x="545" y="804" width="7" height="3" fill="#1f6e8c"/>
<rect x="546" y="805" width="5" height="2" fill="#56a4d0"/>
<rect x="551" y="708" width="7" height="1" fill="#1f6e8c"/>
<rect x="551" y="805" width="7" height="2" fill="#1f6e8c"/>
<rect x="552" y="806" width="5" height="1" fill="#56a4d0"/>
<rect x="557" y="709" width="7" height="1" fill="#1f6e8c"/>
<rect x="557" y="807" width="7" height="2" fill="#1f6e8c"/>
<rect x="558" y="807" width="5" height="1" fill="#56a4d0"/>
<rect x="563" y="709" width="7" height="1" fill="#1f6e8c"/>
<rect x="563" y="806" width="7" height="1" fill="#1f6e8c"/>
<rect x="569" y="708" width="7" height="1" fill="#1f6e8c"/>
<rect x="569" y="805" width="7" height="2" fill="#1f6e8c"/>
<rect x="570" y="806" width="5" height="1" fill="#56a4d0"/>
<rect x="575" y="708" width="7" height="1" fill="#1f6e8c"/>
<rect x="575" y="803" width="7" height="4" fill="#1f6e8c"/>
<rect x="576" y="804" width="5" height="3" fill="#56a4d0"/>
<rect x="581" y="706" width="7" height="3" fill="#1f6e8c"/>
<rect x="582" y="707" width="5" height="2" fill="#56a4d0"/>
<rect x="581" y="799" width="7" height="8" fill="#1f6e8c"/>
<rect x="582" y="800" width="5" height="7" fill="#56a4d0"/>
<rect x="587" y="707" width="5" height="2" fill="#1f6e8c"/>
<rect x="588" y="708" width="3" height="1" fill="#56a4d0"/>
<rect x="587" y="802" width="5" height="5" fill="#1f6e8c"/>
<rect x="588" y="803" width="3" height="4" fill="#56a4d0"/>
<rect x="593" y="706" width="5" height="3" fill="#1f6e8c"/>
<rect x="594" y="707" width="3" height="2" fill="#56a4d0"/>
<rect x="593" y="799" width="5" height="8" fill="#1f6e8c"/>
<rect x="594" y="800" width="3" height="7" fill="#56a4d0"/>
<rect x="599" y="703" width="5" height="6" fill="#1f6e8c"/>
<rect x="600" y="704" width="3" height="5" fill="#56a4d0"/>
<rect x="599" y="792" width="5" height="15" fill="#1f6e8c"/>
<rect x="600" y="793" width="3" height="14" fill="#56a4d0"/>
<rect x="605" y="701" width="5" height="8" fill="#1f6e8c"/>
<rect x="606" y="702" width="3" height="7" fill="#56a4d0"/>
<rect x="605" y="786" width="5" height="21" fill="#1f6e8c"/>
<rect x="606" y="787" width="3" height="20" fill="#56a4d0"/>
<rect x="611" y="700" width="5" height="9" fill="#1f6e8c"/>
<rect x="612" y="701" width="3" height="8" fill="#56a4d0"/>
<rect x="611" y="784" width="5" height="23" fill="#1f6e8c"/>
<rect x="612" y="785" width="3" height="22" fill="#56a4d0"/>
<rect x="617" y="701" width="5" height="8" fill="#1f6e8c"/>
<rect x="618" y="702" width="3" height="7" fill="#56a4d0"/>
<rect x="617" y="787" width="5" height="20" fill="#1f6e8c"/>
<rect x="618" y="788" width="3" height="19" fill="#56a4d0"/>
<rect x="623" y="704" width="5" height="5" fill="#1f6e8c"/>
<rect x="624" y="705" width="3" height="4" fill="#56a4d0"/>
<rect x="623" y="794" width="5" height="13" fill="#1f6e8c"/>
<rect x="624" y="795" width="3" height="12" fill="#56a4d0"/>
<rect x="629" y="709" width="5" height="2" fill="#1f6e8c"/>
<rect x="630" y="709" width="3" height="1" fill="#56a4d0"/>
<rect x="629" y="807" width="5" height="5" fill="#1f6e8c"/>
<rect x="630" y="807" width="3" height="4" fill="#56a4d0"/>
<rect x="635" y="709" width="5" height="8" fill="#1f6e8c"/>
<rect x="636" y="709" width="3" height="7" fill="#56a4d0"/>
<rect x="635" y="807" width="5" height="17" fill="#1f6e8c"/>
<rect x="636" y="807" width="3" height="16" fill="#56a4d0"/>
<rect x="641" y="709" width="5" height="10" fill="#1f6e8c"/>
<rect x="642" y="709" width="3" height="9" fill="#56a4d0"/>
<rect x="641" y="807" width="5" height="25" fill="#1f6e8c"/>
<rect x="642" y="807" width="3" height="24" fill="#56a4d0"/>
<rect x="647" y="709" width="5" height="12" fill="#1f6e8c"/>
<rect x="648" y="709" width="3" height="11" fill="#56a4d0"/>
<rect x="647" y="807" width="5" height="30" fill="#1f6e8c"/>
<rect x="648" y="807" width="3" height="29" fill="#56a4d0"/>
<rect x="652" y="709" width="7" height="12" fill="#1f6e8c"/>
<rect x="653" y="709" width="5" height="11" fill="#56a4d0"/>
<rect x="652" y="807" width="7" height="28" fill="#1f6e8c"/>
<rect x="653" y="807" width="5" height="27" fill="#56a4d0"/>
<rect x="658" y="709" width="7" height="11" fill="#1f6e8c"/>
<rect x="659" y="709" width="5" height="10" fill="#56a4d0"/>
<rect x="658" y="807" width="7" height="27" fill="#1f6e8c"/>
<rect x="659" y="807" width="5" height="26" fill="#56a4d0"/>
<rect x="664" y="709" width="7" height="9" fill="#1f6e8c"/>
<rect x="665" y="709" width="5" height="8" fill="#56a4d0"/>
<rect x="664" y="807" width="7" height="21" fill="#1f6e8c"/>
<rect x="665" y="807" width="5" height="20" fill="#56a4d0"/>
<rect x="670" y="709" width="7" height="4" fill="#1f6e8c"/>
<rect x="671" y="709" width="5" height="3" fill="#56a4d0"/>
<rect x="670" y="807" width="7" height="9" fill="#1f6e8c"/>
<rect x="671" y="807" width="5" height="8" fill="#56a4d0"/>
<rect x="676" y="709" width="7" height="2" fill="#1f6e8c"/>
<rect x="677" y="709" width="5" height="1" fill="#56a4d0"/>
<rect x="676" y="807" width="7" height="2" fill="#1f6e8c"/>
<rect x="677" y="807" width="5" height="1" fill="#56a4d0"/>
<rect x="682" y="707" width="7" height="2" fill="#1f6e8c"/>
<rect x="683" y="708" width="5" height="1" fill="#56a4d0"/>
<rect x="682" y="802" width="7" height="5" fill="#1f6e8c"/>
<rect x="683" y="803" width="5" height="4" fill="#56a4d0"/>
<rect x="688" y="704" width="7" height="5" fill="#1f6e8c"/>
<rect x="689" y="705" width="5" height="4" fill="#56a4d0"/>
<rect x="688" y="795" width="7" height="12" fill="#1f6e8c"/>
<rect x="689" y="796" width="5" height="11" fill="#56a4d0"/>
<rect x="694" y="702" width="5" height="7" fill="#1f6e8c"/>
<rect x="695" y="703" width="3" height="6" fill="#56a4d0"/>
<rect x="694" y="791" width="5" height="16" fill="#1f6e8c"/>
<rect x="695" y="792" width="3" height="15" fill="#56a4d0"/>
<rect x="700" y="703" width="5" height="6" fill="#1f6e8c"/>
<rect x="701" y="704" width="3" height="5" fill="#56a4d0"/>
<rect x="700" y="791" width="5" height="16" fill="#1f6e8c"/>
<rect x="701" y="792" width="3" height="15" fill="#56a4d0"/>
<rect x="706" y="703" width="5" height="6" fill="#1f6e8c"/>
<rect x="707" y="704" width="3" height="5" fill="#56a4d0"/>
<rect x="706" y="791" width="5" height="16" fill="#1f6e8c"/>
<rect x="707" y="792" width="3" height="15" fill="#56a4d0"/>
<rect x="712" y="703" width="5" height="6" fill="#1f6e8c"/>
<rect x="713" y="704" width="3" height="5" fill="#56a4d0"/>
<rect x="712" y="792" width="5" height="15" fill="#1f6e8c"/>
<rect x="713" y="793" width="3" height="14" fill="#56a4d0"/>
<rect x="718" y="704" width="5" height="5" fill="#1f6e8c"/>
<rect x="719" y="705" width="3" height="4" fill="#56a4d0"/>
<rect x="718" y="795" width="5" height="12" fill="#1f6e8c"/>
<rect x="719" y="796" width="3" height="11" fill="#56a4d0"/>
<rect x="724" y="705" width="5" height="4" fill="#1f6e8c"/>
<rect x="725" y="706" width="3" height="3" fill="#56a4d0"/>
<rect x="724" y="796" width="5" height="11" fill="#1f6e8c"/>
<rect x="725" y="797" width="3" height="10" fill="#56a4d0"/>
<rect x="730" y="706" width="5" height="3" fill="#1f6e8c"/>
<rect x="731" y="707" width="3" height="2" fill="#56a4d0"/>
<rect x="730" y="799" width="5" height="8" fill="#1f6e8c"/>
<rect x="731" y="800" width="3" height="7" fill="#56a4d0"/>
<rect x="736" y="707" width="5" height="2" fill="#1f6e8c"/>
<rect x="737" y="708" width="3" height="1" fill="#56a4d0"/>
<rect x="736" y="801" width="5" height="6" fill="#1f6e8c"/>
<rect x="737" y="802" width="3" height="5" fill="#56a4d0"/>
<rect x="742" y="707" width="5" height="2" fill="#1f6e8c"/>
<rect x="743" y="708" width="3" height="1" fill="#56a4d0"/>
<rect x="742" y="802" width="5" height="5" fill="#1f6e8c"/>
<rect x="743" y="803" width="3" height="4" fill="#56a4d0"/>
<rect x="748" y="706" width="5" height="3" fill="#1f6e8c"/>
<rect x="749" y="707" width="3" height="2" fill="#56a4d0"/>
<rect x="748" y="800" width="5" height="7" fill="#1f6e8c"/>
<rect x="749" y="801" width="3" height="6" fill="#56a4d0"/>
<rect x="754" y="702" width="5" height="7" fill="#1f6e8c"/>
<rect x="755" y="703" width="3" height="6" fill="#56a4d0"/>
<rect x="754" y="791" width="5" height="16" fill="#1f6e8c"/>
<rect x="755" y="792" width="3" height="15" fill="#56a4d0"/>
<rect x="760" y="699" width="5" height="10" fill="#1f6e8c"/>
<rect x="761" y="700" width="3" height="9" fill="#56a4d0"/>
<rect x="760" y="781" width="5" height="26" fill="#1f6e8c"/>
<rect x="761" y="782" width="3" height="25" fill="#56a4d0"/>
<rect x="765" y="695" width="7" height="14" fill="#1f6e8c"/>
<rect x="766" y="696" width="5" height="13" fill="#56a4d0"/>
<rect x="765" y="771" width="7" height="36" fill="#1f6e8c"/>
<rect x="766" y="772" width="5" height="35" fill="#56a4d0"/>
<rect x="771" y="691" width="7" height="18" fill="#1f6e8c"/>
<rect x="772" y="692" width="5" height="17" fill="#56a4d0"/>
<rect x="771" y="761" width="7" height="46" fill="#1f6e8c"/>
<rect x="772" y="762" width="5" height="45" fill="#56a4d0"/>
<rect x="777" y="690" width="7" height="19" fill="#1f6e8c"/>
<rect x="778" y="691" width="5" height="18" fill="#56a4d0"/>
<rect x="777" y="758" width="7" height="49" fill="#1f6e8c"/>
<rect x="778" y="759" width="5" height="48" fill="#56a4d0"/>
<rect x="783" y="691" width="7" height="18" fill="#1f6e8c"/>
<rect x="784" y="692" width="5" height="17" fill="#56a4d0"/>
<rect x="783" y="762" width="7" height="45" fill="#1f6e8c"/>
<rect x="784" y="763" width="5" height="44" fill="#56a4d0"/>
<rect x="789" y="694" width="7" height="15" fill="#1f6e8c"/>
<rect x="790" y="695" width="5" height="14" fill="#56a4d0"/>
<rect x="789" y="770" width="7" height="37" fill="#1f6e8c"/>
<rect x="790" y="771" width="5" height="36" fill="#56a4d0"/>
<rect x="795" y="699" width="7" height="10" fill="#1f6e8c"/>
<rect x="796" y="700" width="5" height="9" fill="#56a4d0"/>
<rect x="795" y="783" width="7" height="24" fill="#1f6e8c"/>
<rect x="796" y="784" width="5" height="23" fill="#56a4d0"/>
<rect x="801" y="699" width="7" height="10" fill="#1f6e8c"/>
<rect x="802" y="700" width="5" height="9" fill="#56a4d0"/>
<rect x="801" y="783" width="7" height="24" fill="#1f6e8c"/>
<rect x="802" y="784" width="5" height="23" fill="#56a4d0"/>
<rect x="807" y="690" width="5" height="19" fill="#1f6e8c"/>
<rect x="808" y="691" width="3" height="18" fill="#56a4d0"/>
<rect x="807" y="760" width="5" height="47" fill="#1f6e8c"/>
<rect x="808" y="761" width="3" height="46" fill="#56a4d0"/>
<rect x="813" y="689" width="5" height="20" fill="#1f6e8c"/>
<rect x="814" y="690" width="3" height="19" fill="#56a4d0"/>
<rect x="813" y="756" width="5" height="51" fill="#1f6e8c"/>
<rect x="814" y="757" width="3" height="50" fill="#56a4d0"/>
<rect x="819" y="688" width="5" height="21" fill="#1f6e8c"/>
<rect x="820" y="689" width="3" height="20" fill="#56a4d0"/>
<rect x="819" y="754" width="5" height="53" fill="#1f6e8c"/>
<rect x="820" y="755" width="3" height="52" fill="#56a4d0"/>
<rect x="825" y="689" width="5" height="20" fill="#1f6e8c"/>
<rect x="826" y="690" width="3" height="19" fill="#56a4d0"/>
<rect x="825" y="756" width="5" height="51" fill="#1f6e8c"/>
<rect x="826" y="757" width="3" height="50" fill="#56a4d0"/>
<rect x="831" y="691" width="5" height="18" fill="#1f6e8c"/>
<rect x="832" y="692" width="3" height="17" fill="#56a4d0"/>
<rect x="831" y="762" width="5" height="45" fill="#1f6e8c"/>
<rect x="832" y="763" width="3" height="44" fill="#56a4d0"/>
<rect x="837" y="694" width="5" height="15" fill="#1f6e8c"/>
<rect x="838" y="695" width="3" height="14" fill="#56a4d0"/>
<rect x="837" y="770" width="5" height="37" fill="#1f6e8c"/>
<rect x="838" y="771" width="3" height="36" fill="#56a4d0"/>
<rect x="843" y="696" width="5" height="13" fill="#1f6e8c"/>
<rect x="844" y="697" width="3" height="12" fill="#56a4d0"/>
<rect x="843" y="773" width="5" height="34" fill="#1f6e8c"/>
<rect x="844" y="774" width="3" height="33" fill="#56a4d0"/>
<rect x="849" y="698" width="5" height="11" fill="#1f6e8c"/>
<rect x="850" y="699" width="3" height="10" fill="#56a4d0"/>
<rect x="849" y="778" width="5" height="29" fill="#1f6e8c"/>
<rect x="850" y="779" width="3" height="28" fill="#56a4d0"/>
<rect x="855" y="697" width="5" height="12" fill="#1f6e8c"/>
<rect x="856" y="698" width="3" height="11" fill="#56a4d0"/>
<rect x="855" y="777" width="5" height="30" fill="#1f6e8c"/>
<rect x="856" y="778" width="3" height="29" fill="#56a4d0"/>
<rect x="861" y="697" width="5" height="12" fill="#1f6e8c"/>
<rect x="862" y="698" width="3" height="11" fill="#56a4d0"/>
<rect x="861" y="777" width="5" height="30" fill="#1f6e8c"/>
<rect x="862" y="778" width="3" height="29" fill="#56a4d0"/>
<rect x="867" y="699" width="5" height="10" fill="#1f6e8c"/>
<rect x="868" y="700" width="3" height="9" fill="#56a4d0"/>
<rect x="867" y="782" width="5" height="25" fill="#1f6e8c"/>
<rect x="868" y="783" width="3" height="24" fill="#56a4d0"/>
<rect x="872" y="704" width="7" height="5" fill="#1f6e8c"/>
<rect x="873" y="705" width="5" height="4" fill="#56a4d0"/>
<rect x="872" y="793" width="7" height="14" fill="#1f6e8c"/>
<rect x="873" y="794" width="5" height="13" fill="#56a4d0"/>
<rect x="878" y="709" width="7" height="5" fill="#1f6e8c"/>
<rect x="879" y="709" width="5" height="4" fill="#56a4d0"/>
<rect x="878" y="807" width="7" height="10" fill="#1f6e8c"/>
<rect x="879" y="807" width="5" height="9" fill="#56a4d0"/>
<rect x="884" y="709" width="7" height="14" fill="#1f6e8c"/>
<rect x="885" y="709" width="5" height="13" fill="#56a4d0"/>
<rect x="884" y="807" width="7" height="34" fill="#1f6e8c"/>
<rect x="885" y="807" width="5" height="33" fill="#56a4d0"/>
<rect x="890" y="709" width="7" height="18" fill="#1f6e8c"/>
<rect x="891" y="709" width="5" height="17" fill="#56a4d0"/>
<rect x="890" y="807" width="7" height="45" fill="#1f6e8c"/>
<rect x="891" y="807" width="5" height="44" fill="#56a4d0"/>
<rect x="896" y="709" width="7" height="24" fill="#1f6e8c"/>
<rect x="897" y="709" width="5" height="23" fill="#56a4d0"/>
<rect x="896" y="807" width="7" height="59" fill="#1f6e8c"/>
<rect x="897" y="807" width="5" height="58" fill="#56a4d0"/>
<rect x="902" y="709" width="7" height="29" fill="#1f6e8c"/>
<rect x="903" y="709" width="5" height="28" fill="#56a4d0"/>
<rect x="902" y="807" width="7" height="71" fill="#1f6e8c"/>
<rect x="903" y="807" width="5" height="70" fill="#56a4d0"/>
<rect x="908" y="709" width="7" height="31" fill="#1f6e8c"/>
<rect x="909" y="709" width="5" height="30" fill="#56a4d0"/>
<rect x="908" y="807" width="7" height="77" fill="#1f6e8c"/>
<rect x="909" y="807" width="5" height="76" fill="#56a4d0"/>
<rect x="914" y="709" width="5" height="32" fill="#1f6e8c"/>
<rect x="915" y="709" width="3" height="31" fill="#56a4d0"/>
<rect x="914" y="807" width="5" height="79" fill="#1f6e8c"/>
<rect x="915" y="807" width="3" height="78" fill="#56a4d0"/>
<rect x="920" y="709" width="5" height="32" fill="#1f6e8c"/>
<rect x="921" y="709" width="3" height="31" fill="#56a4d0"/>
<rect x="920" y="807" width="5" height="79" fill="#1f6e8c"/>
<rect x="921" y="807" width="3" height="78" fill="#56a4d0"/>
<rect x="926" y="709" width="5" height="31" fill="#1f6e8c"/>
<rect x="927" y="709" width="3" height="30" fill="#56a4d0"/>
<rect x="926" y="807" width="5" height="77" fill="#1f6e8c"/>
<rect x="927" y="807" width="3" height="76" fill="#56a4d0"/>
</g>
<polyline points="17.0,710.4 19.1,709.9 25.1,709.6 31.0,708.3 37.0,706.1 42.9,703.7 48.9,701.6 54.8,699.5 60.8,696.5 66.7,694.4 72.7,692.8 78.6,692.3 84.6,691.5 90.5,691.2 96.4,691.5 102.4,691.2 108.3,691.2 114.3,691.5 120.2,691.7 126.2,691.7 132.1,692.3 138.1,692.5 144.0,692.5 150.0,692.8 155.9,693.6 161.9,694.4 167.8,695.2 173.7,696.5 179.7,698.4 185.6,700.5 191.6,702.7 197.5,704.8 203.5,706.9 209.4,709.6 215.4,712.0 221.3,714.7 227.3,716.8 233.2,719.2 239.2,720.8 245.1,722.4 251.0,723.7 257.0,724.8 262.9,726.4 268.9,727.5 274.8,728.5 280.8,729.6 286.7,730.4 292.7,730.7 298.6,730.7 304.6,730.1 310.5,728.5 316.4,726.1 322.4,723.7 328.3,721.6 334.3,720.5 340.2,720.0 346.2,720.0 352.1,720.0 358.1,720.3 364.0,720.5 370.0,721.6 375.9,723.2 381.9,724.8 387.8,726.1 393.7,726.9 399.7,727.7 405.6,727.5 411.6,727.2 423.5,726.4 429.4,725.3 435.4,724.3 441.3,723.2 447.3,721.3 453.2,719.5 459.2,718.4 465.1,716.3 471.0,714.4 477.0,712.5 482.9,711.2 488.9,710.4 494.8,710.1 500.8,709.6 506.7,708.8 512.7,708.5 518.6,708.3 524.6,708.0 530.5,707.5 536.5,706.9 542.4,706.4 548.3,706.1 554.3,705.9 560.2,705.6 566.2,705.6 572.1,705.3 578.1,705.1 584.0,704.3 590.0,703.2 595.9,702.4 601.9,701.1 607.8,698.4 613.8,695.7 619.7,693.9 625.6,693.3 631.6,693.6 637.5,696.0 643.5,698.9 649.4,702.4 655.4,704.8 661.3,706.9 667.3,708.3 673.2,708.8 679.2,708.3 685.1,707.2 691.0,706.1 697.0,704.3 702.9,702.7 708.9,701.1 714.8,699.7 720.8,698.1 726.7,697.1 732.7,696.5 738.6,696.0 744.6,695.2 750.5,694.4 756.5,693.3 762.4,689.9 768.3,686.4 774.3,682.4 780.2,677.6 786.2,672.8 792.1,668.5 798.1,666.4 804.0,663.5 810.0,658.9 815.9,653.6 821.9,648.5 827.8,643.2 833.8,638.4 839.7,635.5 845.6,632.0 851.6,628.8 857.5,626.1 863.5,622.9 869.4,620.0 875.4,618.4 881.3,619.2 887.3,622.4 893.2,627.2 899.2,632.5 905.1,639.2 911.0,647.2 917.0,655.2 922.9,663.5 928.9,670.4" fill="none" stroke="#f01414" stroke-width="1.1" stroke-linejoin="round" />
<polyline points="17.0,711.5 19.1,710.4 25.1,707.5 31.0,703.2 37.0,698.4 42.9,694.4 48.9,692.0 54.8,688.8 60.8,685.6 66.7,685.6 72.7,687.5 78.6,689.3 84.6,689.6 90.5,690.7 96.4,692.3 102.4,690.7 108.3,690.7 114.3,692.3 120.2,692.3 126.2,692.3 132.1,693.3 138.1,693.3 144.0,693.3 150.0,694.4 155.9,697.1 161.9,696.5 167.8,698.4 173.7,701.6 179.7,705.3 185.6,707.5 191.6,710.4 197.5,713.1 203.5,715.5 209.4,718.4 215.4,721.6 221.3,724.8 227.3,726.9 233.2,727.7 239.2,727.7 245.1,728.5 251.0,729.3 257.0,729.6 262.9,731.5 268.9,732.0 274.8,733.6 280.8,734.7 286.7,733.6 292.7,732.8 298.6,731.5 304.6,728.8 310.5,722.4 316.4,716.0 322.4,713.6 328.3,714.7 334.3,716.3 340.2,717.6 346.2,720.3 352.1,719.7 358.1,721.6 364.0,722.7 370.0,725.9 375.9,728.5 381.9,729.9 387.8,730.4 393.7,730.1 399.7,728.8 405.6,727.2 411.6,726.4 423.5,725.6 429.4,722.4 435.4,720.0 441.3,718.1 447.3,714.4 453.2,712.5 459.2,711.2 465.1,708.3 471.0,707.2 477.0,706.4 482.9,706.1 488.9,706.4 494.8,707.2 500.8,707.5 506.7,707.2 512.7,706.4 518.6,706.4 524.6,706.1 530.5,705.1 536.5,704.3 542.4,704.3 548.3,704.5 554.3,705.3 560.2,705.3 566.2,705.1 572.1,704.3 578.1,703.5 584.0,700.5 590.0,701.3 595.9,699.2 601.9,695.2 607.8,690.4 613.8,687.2 619.7,686.4 625.6,688.5 631.6,695.5 637.5,702.4 643.5,708.3 649.4,712.0 655.4,713.6 661.3,715.2 667.3,714.9 673.2,711.2 679.2,708.3 685.1,704.8 691.0,700.8 697.0,697.1 702.9,695.5 708.9,694.1 714.8,693.3 720.8,693.3 726.7,693.3 732.7,693.3 738.6,693.3 744.6,693.1 750.5,692.3 756.5,685.3 762.4,678.9 768.3,672.3 774.3,664.0 780.2,657.3 786.2,654.4 792.1,653.6 798.1,656.0 804.0,653.3 810.0,639.2 815.9,631.2 821.9,626.4 827.8,622.4 833.8,620.3 839.7,619.2 845.6,617.3 851.6,616.0 857.5,613.3 863.5,610.4 869.4,609.6 875.4,612.5 881.3,624.0 887.3,636.5 893.2,643.5 899.2,654.4 905.1,664.5 911.0,674.4 917.0,683.7 922.9,693.3 928.9,701.3" fill="none" stroke="#000" stroke-width="1.8" stroke-linejoin="round" />
<g class="g"><line x1="17" x2="1203" y1="926.5" y2="926.5" stroke="#6e6e78" stroke-width="1"/>
<line x1="17" x2="1203" y1="1004.5" y2="1004.5" stroke="#6e6e78" stroke-width="1"/>
<line x1="17" x2="1203" y1="965.5" y2="965.5" stroke="#6e6e78" stroke-width="1" stroke-dasharray="9,3,2,3"/></g>
<polyline points="17.0,1010.0 19.1,1007.6 25.1,994.8 31.0,962.0 37.0,935.3 42.9,919.6 48.9,921.5 54.8,924.4 60.8,924.4 66.7,924.4 72.7,929.2 78.6,940.4 84.6,950.8 90.5,955.6 96.4,956.4 102.4,958.0 108.3,961.5 114.3,966.8 120.2,975.6 126.2,982.8 132.1,986.3 138.1,985.5 144.0,982.5 150.0,979.1 155.9,980.7 161.9,985.7 167.8,993.5 173.7,999.1 179.7,1010.0 185.6,1017.5 191.6,1022.5 197.5,1021.5 203.5,1022.5 209.4,1025.2 215.4,1026.5 221.3,1027.3 227.3,1024.4 233.2,1022.5 239.2,1016.4 245.1,1013.2 251.0,1011.6 257.0,1013.2 262.9,1017.5 268.9,1020.4 274.8,1022.5 280.8,1020.4 286.7,1014.3 292.7,1004.4 298.6,992.4 304.6,980.1 310.5,964.4 316.4,948.4 322.4,937.2 328.3,940.4 334.3,957.2 340.2,977.2 346.2,993.2 352.1,1001.2 358.1,1007.6 364.0,1009.5 370.0,1015.6 375.9,1021.2 381.9,1026.5 387.8,1027.6 393.7,1026.5 399.7,1021.2 405.6,1013.5 411.6,1003.3 423.5,988.4 429.4,979.6 435.4,967.3 441.3,954.0 447.3,940.4 453.2,928.4 459.2,923.9 465.1,923.6 471.0,926.0 477.0,926.0 482.9,930.0 488.9,937.5 494.8,950.3 500.8,960.4 506.7,966.5 512.7,966.8 518.6,965.7 524.6,965.7 530.5,966.3 536.5,964.1 542.4,958.0 548.3,954.0 554.3,955.3 560.2,963.6 566.2,966.5 572.1,959.6 578.1,940.1 584.0,922.5 590.0,920.4 595.9,931.6 601.9,942.5 607.8,933.2 613.8,920.4 619.7,910.5 625.6,917.5 631.6,940.4 637.5,970.0 643.5,1002.0 649.4,1020.4 655.4,1025.5 661.3,1022.5 667.3,1015.3 673.2,1003.3 679.2,985.5 685.1,966.3 691.0,951.6 697.0,939.6 702.9,930.8 708.9,923.6 714.8,922.5 720.8,920.4 726.7,920.4 732.7,920.4 738.6,921.5 744.6,922.5 750.5,919.6 756.5,914.0 762.4,909.5 768.3,908.4 774.3,910.5 780.2,910.5 786.2,912.4 792.1,914.5 798.1,922.5 804.0,928.4 810.0,928.4 815.9,921.5 821.9,915.3 827.8,912.4 833.8,913.2 839.7,915.3 845.6,918.5 851.6,921.5 857.5,920.4 863.5,917.5 869.4,914.5 875.4,916.4 881.3,923.6 887.3,939.6 893.2,961.5 899.2,986.0 905.1,1005.2 911.0,1019.6 917.0,1025.5 922.9,1028.4 928.9,1028.1" fill="none" stroke="#f01414" stroke-width="1.1" stroke-linejoin="round" />
<polyline points="17.0,1005.2 19.1,995.6 25.1,966.8 31.0,923.3 37.0,916.4 42.9,919.6 48.9,927.6 54.8,926.5 60.8,920.4 66.7,926.8 72.7,940.4 78.6,956.4 84.6,956.4 90.5,954.5 96.4,959.3 102.4,959.3 108.3,966.0 114.3,974.8 120.2,985.5 126.2,988.4 132.1,985.5 138.1,982.5 144.0,976.4 150.0,977.5 155.9,988.4 161.9,991.6 167.8,1000.1 173.7,1005.2 179.7,1024.4 185.6,1021.5 191.6,1021.5 197.5,1021.5 203.5,1025.2 209.4,1027.3 215.4,1026.3 221.3,1027.3 227.3,1021.5 233.2,1018.5 239.2,1010.3 245.1,1010.3 251.0,1013.2 257.0,1017.2 262.9,1021.5 268.9,1022.5 274.8,1022.5 280.8,1016.4 286.7,1004.4 292.7,992.4 298.6,980.1 304.6,967.3 310.5,946.8 316.4,929.2 322.4,933.2 328.3,956.4 334.3,981.2 340.2,993.2 346.2,1005.2 352.1,1004.4 358.1,1011.3 364.0,1011.3 370.0,1024.4 375.9,1027.3 381.9,1028.4 387.8,1026.3 393.7,1023.6 399.7,1016.4 405.6,1002.0 411.6,991.6 423.5,980.4 429.4,968.4 435.4,954.0 441.3,940.4 447.3,926.5 453.2,918.5 459.2,924.4 465.1,926.8 471.0,926.8 477.0,924.4 482.9,938.0 488.9,950.0 494.8,963.3 500.8,968.4 506.7,968.4 512.7,964.4 518.6,964.4 524.6,968.4 530.5,966.3 536.5,958.0 542.4,949.5 548.3,953.2 554.3,963.3 560.2,974.3 566.2,962.0 572.1,942.8 578.1,915.3 584.0,908.4 590.0,937.2 595.9,947.3 601.9,943.3 607.8,912.4 613.8,904.4 619.7,916.4 625.6,932.4 631.6,972.4 637.5,1005.2 643.5,1027.3 649.4,1027.3 655.4,1021.5 661.3,1018.5 667.3,1005.2 673.2,985.5 679.2,964.4 685.1,948.4 691.0,941.2 697.0,928.4 702.9,923.3 708.9,919.6 714.8,922.5 720.8,918.5 726.7,920.4 732.7,921.5 738.6,923.6 744.6,921.5 750.5,914.0 756.5,906.3 762.4,908.4 768.3,910.5 774.3,912.4 780.2,909.5 786.2,914.8 792.1,920.4 798.1,932.4 804.0,930.5 810.0,922.5 815.9,912.4 821.9,911.3 827.8,912.4 833.8,915.3 839.7,919.3 845.6,922.5 851.6,922.5 857.5,915.3 863.5,915.3 869.4,913.5 875.4,921.5 881.3,936.4 887.3,962.0 893.2,985.5 899.2,1010.3 905.1,1019.6 911.0,1028.4 917.0,1028.4 922.9,1028.4 928.9,1027.6" fill="none" stroke="#000" stroke-width="1.8" stroke-linejoin="round" />
<polyline points="17.0,1112.3 19.1,1105.4 25.1,1100.3 31.0,1101.4 37.0,1085.4 42.9,1091.3 48.9,1097.4 54.8,1091.3 60.8,1088.6 66.7,1097.4 72.7,1103.3 78.6,1105.4 84.6,1100.3 90.5,1103.5 96.4,1106.5 102.4,1085.4 108.3,1091.3 114.3,1095.5 120.2,1100.3 126.2,1096.3 132.1,1102.2 138.1,1106.5 144.0,1105.4 150.0,1110.2 155.9,1113.4 161.9,1108.6 167.8,1113.7 173.7,1118.2 179.7,1121.4 185.6,1114.5 191.6,1120.3 197.5,1125.4 203.5,1127.8 209.4,1131.0 215.4,1134.2 221.3,1137.4 227.3,1140.3 233.2,1142.5 239.2,1133.4 245.1,1136.3 251.0,1138.5 257.0,1135.3 262.9,1138.5 268.9,1141.9 274.8,1145.4 280.8,1144.3 286.7,1135.3 292.7,1138.5 298.6,1136.3 304.6,1118.2 310.5,1109.4 316.4,1108.3 322.4,1117.4 328.3,1121.4 334.3,1123.5 340.2,1125.7 346.2,1131.5 352.1,1130.5 358.1,1134.2 364.0,1136.6 370.0,1139.5 375.9,1140.6 381.9,1141.7 387.8,1139.5 393.7,1135.3 399.7,1136.3 405.6,1130.5 411.6,1132.3 423.5,1139.5 429.4,1137.4 435.4,1139.5 441.3,1142.2 447.3,1131.5 453.2,1128.6 459.2,1132.3 465.1,1127.5 471.0,1125.4 477.0,1126.5 482.9,1124.3 488.9,1127.5 494.8,1126.5 500.8,1128.6 506.7,1130.5 512.7,1128.3 518.6,1129.4 524.6,1132.3 530.5,1125.4 536.5,1128.3 542.4,1131.5 548.3,1134.2 554.3,1136.3 560.2,1136.3 566.2,1133.4 572.1,1129.4 578.1,1127.3 584.0,1104.6 590.0,1118.2 595.9,1100.3 601.9,1098.5 607.8,1096.3 613.8,1103.5 619.7,1109.4 625.6,1115.0 631.6,1127.3 637.5,1129.4 643.5,1131.5 649.4,1134.5 655.4,1137.4 661.3,1134.5 667.3,1121.4 673.2,1105.4 679.2,1107.5 685.1,1103.5 691.0,1097.4 697.0,1093.4 702.9,1101.4 708.9,1109.4 714.8,1112.3 720.8,1113.4 726.7,1117.4 732.7,1114.5 738.6,1117.1 744.6,1119.5 750.5,1111.5 756.5,1082.2 762.4,1068.3 768.3,1071.5 774.3,1062.5 780.2,1069.4 786.2,1081.4 792.1,1088.6 798.1,1095.3 804.0,1086.5 810.0,1063.5 815.9,1075.5 821.9,1081.4 827.8,1076.6 833.8,1080.6 839.7,1089.4 845.6,1097.4 851.6,1098.5 857.5,1106.5 863.5,1096.6 869.4,1102.5 875.4,1109.4 881.3,1119.3 887.3,1125.4 893.2,1130.5 899.2,1134.5 905.1,1136.6 911.0,1137.4 917.0,1136.6 922.9,1137.9 928.9,1140.6" fill="none" stroke="#1f7a33" stroke-width="1.2" stroke-linejoin="round" />
<polyline points="17.0,1122.5 19.1,1127.3 25.1,1130.2 31.0,1133.1 37.0,1138.7 42.9,1143.3 48.9,1136.3 54.8,1140.3 60.8,1145.1 66.7,1146.5 72.7,1140.6 78.6,1135.5 84.6,1139.3 90.5,1140.6 96.4,1138.5 102.4,1146.5 108.3,1141.4 114.3,1135.3 120.2,1136.6 126.2,1139.3 132.1,1139.3 138.1,1140.3 144.0,1141.4 150.0,1136.3 155.9,1130.5 161.9,1135.5 167.8,1140.6 173.7,1133.4 179.7,1127.3 185.6,1133.1 191.6,1133.4 197.5,1134.5 203.5,1134.5 209.4,1133.1 215.4,1127.5 221.3,1120.3 227.3,1124.3 233.2,1119.3 239.2,1123.5 245.1,1122.5 251.0,1122.5 257.0,1126.5 262.9,1119.3 268.9,1122.5 274.8,1113.4 280.8,1117.4 286.7,1125.4 292.7,1128.6 298.6,1132.3 304.6,1140.6 310.5,1148.3 316.4,1152.6 322.4,1145.4 328.3,1135.5 334.3,1133.4 340.2,1131.5 346.2,1123.5 352.1,1130.5 358.1,1125.4 364.0,1120.6 370.0,1119.3 375.9,1114.5 381.9,1112.3 387.8,1115.5 393.7,1119.3 399.7,1122.5 405.6,1125.4 411.6,1126.5 423.5,1134.2 429.4,1139.5 435.4,1142.5 441.3,1144.6 447.3,1147.5 453.2,1149.4 459.2,1137.4 465.1,1141.4 471.0,1143.5 477.0,1139.5 482.9,1142.5 488.9,1135.5 494.8,1137.4 500.8,1138.5 506.7,1140.3 512.7,1141.4 518.6,1143.5 524.6,1145.4 530.5,1149.4 536.5,1150.5 542.4,1151.5 548.3,1150.5 554.3,1144.6 560.2,1146.5 566.2,1148.6 572.1,1151.5 578.1,1152.6 584.0,1157.4 590.0,1144.6 595.9,1152.6 601.9,1158.5 607.8,1161.4 613.8,1163.5 619.7,1164.6 625.6,1150.2 631.6,1117.4 637.5,1111.5 643.5,1112.6 649.4,1116.3 655.4,1119.3 661.3,1121.4 667.3,1129.4 673.2,1137.4 679.2,1137.4 685.1,1139.5 691.0,1142.5 697.0,1145.4 702.9,1141.4 708.9,1140.3 714.8,1142.2 720.8,1145.4 726.7,1147.5 732.7,1149.4 738.6,1150.5 744.6,1151.5 750.5,1154.5 756.5,1160.6 762.4,1163.5 768.3,1166.5 774.3,1168.6 780.2,1170.5 786.2,1160.6 792.1,1155.5 798.1,1152.6 804.0,1158.5 810.0,1165.4 815.9,1167.5 821.9,1165.4 827.8,1167.5 833.8,1169.4 839.7,1171.5 845.6,1172.6 851.6,1174.5 857.5,1175.5 863.5,1175.5 869.4,1174.5 875.4,1159.5 881.3,1143.8 887.3,1140.3 893.2,1141.4 899.2,1142.5 905.1,1136.3 911.0,1136.6 917.0,1137.4 922.9,1136.3 928.9,1133.4" fill="none" stroke="#c8193f" stroke-width="1.2" stroke-linejoin="round" />
<polyline points="17.0,1160.1 19.1,1159.5 25.1,1158.5 31.0,1156.3 37.0,1152.6 42.9,1148.6 48.9,1146.5 54.8,1143.8 60.8,1140.3 66.7,1136.3 72.7,1135.3 78.6,1135.3 84.6,1134.2 90.5,1133.1 96.4,1132.1 102.4,1129.4 108.3,1127.5 114.3,1127.3 120.2,1126.5 126.2,1125.7 132.1,1125.7 138.1,1125.7 144.0,1125.7 150.0,1126.5 155.9,1128.3 161.9,1128.6 167.8,1129.7 173.7,1131.5 179.7,1134.5 185.6,1135.8 191.6,1137.9 197.5,1139.8 203.5,1141.9 209.4,1145.1 215.4,1146.7 221.3,1147.5 227.3,1147.5 233.2,1146.7 239.2,1148.6 245.1,1148.6 251.0,1149.4 257.0,1150.5 262.9,1150.5 268.9,1149.4 274.8,1147.5 280.8,1146.5 286.7,1147.5 292.7,1148.6 298.6,1150.5 304.6,1150.5 310.5,1147.5 316.4,1143.5 322.4,1142.5 328.3,1143.5 334.3,1144.6 340.2,1146.5 346.2,1148.6 352.1,1151.3 358.1,1152.6 364.0,1152.6 370.0,1152.6 375.9,1150.2 381.9,1149.4 387.8,1148.6 393.7,1148.6 399.7,1149.9 405.6,1151.8 411.6,1152.9 423.5,1154.5 429.4,1156.6 435.4,1157.7 441.3,1159.3 447.3,1158.5 453.2,1157.7 459.2,1158.5 465.1,1157.4 471.0,1156.6 477.0,1157.4 482.9,1156.6 488.9,1157.4 494.8,1157.7 500.8,1158.5 506.7,1158.5 512.7,1158.5 518.6,1158.5 524.6,1157.4 530.5,1155.5 536.5,1154.5 542.4,1152.6 548.3,1151.8 554.3,1152.6 560.2,1153.7 566.2,1152.6 572.1,1151.5 578.1,1149.4 584.0,1144.6 590.0,1143.8 595.9,1138.5 601.9,1133.4 607.8,1128.6 613.8,1123.0 619.7,1118.5 625.6,1117.4 631.6,1121.4 637.5,1123.3 643.5,1125.4 649.4,1127.3 655.4,1128.6 661.3,1131.5 667.3,1134.5 673.2,1133.7 679.2,1133.4 685.1,1132.6 691.0,1131.5 697.0,1128.6 702.9,1127.5 708.9,1127.3 714.8,1127.3 720.8,1126.5 726.7,1126.2 732.7,1125.4 738.6,1124.3 744.6,1123.3 750.5,1121.4 756.5,1116.6 762.4,1110.2 768.3,1103.5 774.3,1097.4 780.2,1091.3 786.2,1087.3 792.1,1086.2 798.1,1085.4 804.0,1083.5 810.0,1078.2 815.9,1073.4 821.9,1070.5 827.8,1067.8 833.8,1064.3 839.7,1061.4 845.6,1057.4 851.6,1054.2 857.5,1051.3 863.5,1047.5 869.4,1044.6 875.4,1047.5 881.3,1052.6 887.3,1059.5 893.2,1066.5 899.2,1073.4 905.1,1081.4 911.0,1088.3 917.0,1095.3 922.9,1102.2 928.9,1107.5" fill="none" stroke="#000" stroke-width="1.8" stroke-linejoin="round" />
<g class="g"><rect x="481.5" y="298.5" width="183" height="33" fill="#9c9cac"/><rect x="479.5" y="296.5" width="183" height="33" fill="#fff" stroke="#6e6e76" stroke-width="1"/></g>
<text x="482" y="320.8" style="font-size:23.3px" textLength="162.4" lengthAdjust="spacing">VIX`60min cycle</text>
<g class="g" fill="none">
<rect x="16.5" y="28.5" width="1187" height="560" stroke="#84849a"/>
<rect x="16.5" y="602.5" width="1187" height="580" stroke="#84849a"/>
<line x1="17" x2="1203" y1="173.5" y2="173.5" stroke="#84849a"/>
<line x1="17" x2="1203" y1="747.5" y2="747.5" stroke="#84849a"/>
<line x1="17" x2="1203" y1="892.5" y2="892.5" stroke="#84849a"/>
<line x1="17" x2="1203" y1="1037.5" y2="1037.5" stroke="#84849a"/>
<line x1="19.5" x2="19.5" y1="588.5" y2="591.0" stroke="#84849a"/>
<line x1="19.5" x2="19.5" y1="602.5" y2="600.0" stroke="#84849a"/>
<line x1="19.5" x2="19.5" y1="1182.5" y2="1185.0" stroke="#84849a"/>
<line x1="25.5" x2="25.5" y1="588.5" y2="589.7" stroke="#84849a"/>
<line x1="25.5" x2="25.5" y1="602.5" y2="601.3" stroke="#84849a"/>
<line x1="25.5" x2="25.5" y1="1182.5" y2="1183.7" stroke="#84849a"/>
<line x1="31.5" x2="31.5" y1="588.5" y2="589.7" stroke="#84849a"/>
<line x1="31.5" x2="31.5" y1="602.5" y2="601.3" stroke="#84849a"/>
<line x1="31.5" x2="31.5" y1="1182.5" y2="1183.7" stroke="#84849a"/>
<line x1="36.5" x2="36.5" y1="588.5" y2="589.7" stroke="#84849a"/>
<line x1="36.5" x2="36.5" y1="602.5" y2="601.3" stroke="#84849a"/>
<line x1="36.5" x2="36.5" y1="1182.5" y2="1183.7" stroke="#84849a"/>
<line x1="42.5" x2="42.5" y1="588.5" y2="589.7" stroke="#84849a"/>
<line x1="42.5" x2="42.5" y1="602.5" y2="601.3" stroke="#84849a"/>
<line x1="42.5" x2="42.5" y1="1182.5" y2="1183.7" stroke="#84849a"/>
<line x1="48.5" x2="48.5" y1="588.5" y2="589.7" stroke="#84849a"/>
<line x1="48.5" x2="48.5" y1="602.5" y2="601.3" stroke="#84849a"/>
<line x1="48.5" x2="48.5" y1="1182.5" y2="1183.7" stroke="#84849a"/>
<line x1="54.5" x2="54.5" y1="588.5" y2="589.7" stroke="#84849a"/>
<line x1="54.5" x2="54.5" y1="602.5" y2="601.3" stroke="#84849a"/>
<line x1="54.5" x2="54.5" y1="1182.5" y2="1183.7" stroke="#84849a"/>
<line x1="60.5" x2="60.5" y1="588.5" y2="591.0" stroke="#84849a"/>
<line x1="60.5" x2="60.5" y1="602.5" y2="600.0" stroke="#84849a"/>
<line x1="60.5" x2="60.5" y1="1182.5" y2="1185.0" stroke="#84849a"/>
<line x1="66.5" x2="66.5" y1="588.5" y2="589.7" stroke="#84849a"/>
<line x1="66.5" x2="66.5" y1="602.5" y2="601.3" stroke="#84849a"/>
<line x1="66.5" x2="66.5" y1="1182.5" y2="1183.7" stroke="#84849a"/>
<line x1="72.5" x2="72.5" y1="588.5" y2="589.7" stroke="#84849a"/>
<line x1="72.5" x2="72.5" y1="602.5" y2="601.3" stroke="#84849a"/>
<line x1="72.5" x2="72.5" y1="1182.5" y2="1183.7" stroke="#84849a"/>
<line x1="78.5" x2="78.5" y1="588.5" y2="589.7" stroke="#84849a"/>
<line x1="78.5" x2="78.5" y1="602.5" y2="601.3" stroke="#84849a"/>
<line x1="78.5" x2="78.5" y1="1182.5" y2="1183.7" stroke="#84849a"/>
<line x1="84.5" x2="84.5" y1="588.5" y2="589.7" stroke="#84849a"/>
<line x1="84.5" x2="84.5" y1="602.5" y2="601.3" stroke="#84849a"/>
<line x1="84.5" x2="84.5" y1="1182.5" y2="1183.7" stroke="#84849a"/>
<line x1="90.5" x2="90.5" y1="588.5" y2="589.7" stroke="#84849a"/>
<line x1="90.5" x2="90.5" y1="602.5" y2="601.3" stroke="#84849a"/>
<line x1="90.5" x2="90.5" y1="1182.5" y2="1183.7" stroke="#84849a"/>
<line x1="96.5" x2="96.5" y1="588.5" y2="589.7" stroke="#84849a"/>
<line x1="96.5" x2="96.5" y1="602.5" y2="601.3" stroke="#84849a"/>
<line x1="96.5" x2="96.5" y1="1182.5" y2="1183.7" stroke="#84849a"/>
<line x1="102.5" x2="102.5" y1="588.5" y2="591.0" stroke="#84849a"/>
<line x1="102.5" x2="102.5" y1="602.5" y2="600.0" stroke="#84849a"/>
<line x1="102.5" x2="102.5" y1="1182.5" y2="1185.0" stroke="#84849a"/>
<line x1="108.5" x2="108.5" y1="588.5" y2="589.7" stroke="#84849a"/>
<line x1="108.5" x2="108.5" y1="602.5" y2="601.3" stroke="#84849a"/>
<line x1="108.5" x2="108.5" y1="1182.5" y2="1183.7" stroke="#84849a"/>
<line x1="114.5" x2="114.5" y1="588.5" y2="589.7" stroke="#84849a"/>
<line x1="114.5" x2="114.5" y1="602.5" y2="601.3" stroke="#84849a"/>
<line x1="114.5" x2="114.5" y1="1182.5" y2="1183.7" stroke="#84849a"/>
<line x1="120.5" x2="120.5" y1="588.5" y2="589.7" stroke="#84849a"/>
<line x1="120.5" x2="120.5" y1="602.5" y2="601.3" stroke="#84849a"/>
<line x1="120.5" x2="120.5" y1="1182.5" y2="1183.7" stroke="#84849a"/>
<line x1="126.5" x2="126.5" y1="588.5" y2="589.7" stroke="#84849a"/>
<line x1="126.5" x2="126.5" y1="602.5" y2="601.3" stroke="#84849a"/>
<line x1="126.5" x2="126.5" y1="1182.5" y2="1183.7" stroke="#84849a"/>
<line x1="132.5" x2="132.5" y1="588.5" y2="589.7" stroke="#84849a"/>
<line x1="132.5" x2="132.5" y1="602.5" y2="601.3" stroke="#84849a"/>
<line x1="132.5" x2="132.5" y1="1182.5" y2="1183.7" stroke="#84849a"/>
<line x1="138.5" x2="138.5" y1="588.5" y2="589.7" stroke="#84849a"/>
<line x1="138.5" x2="138.5" y1="602.5" y2="601.3" stroke="#84849a"/>
<line x1="138.5" x2="138.5" y1="1182.5" y2="1183.7" stroke="#84849a"/>
<line x1="144.5" x2="144.5" y1="588.5" y2="591.0" stroke="#84849a"/>
<line x1="144.5" x2="144.5" y1="602.5" y2="600.0" stroke="#84849a"/>
<line x1="144.5" x2="144.5" y1="1182.5" y2="1185.0" stroke="#84849a"/>
<line x1="149.5" x2="149.5" y1="588.5" y2="589.7" stroke="#84849a"/>
<line x1="149.5" x2="149.5" y1="602.5" y2="601.3" stroke="#84849a"/>
<line x1="149.5" x2="149.5" y1="1182.5" y2="1183.7" stroke="#84849a"/>
<line x1="155.5" x2="155.5" y1="588.5" y2="589.7" stroke="#84849a"/>
<line x1="155.5" x2="155.5" y1="602.5" y2="601.3" stroke="#84849a"/>
<line x1="155.5" x2="155.5" y1="1182.5" y2="1183.7" stroke="#84849a"/>
<line x1="161.5" x2="161.5" y1="588.5" y2="589.7" stroke="#84849a"/>
<line x1="161.5" x2="161.5" y1="602.5" y2="601.3" stroke="#84849a"/>
<line x1="161.5" x2="161.5" y1="1182.5" y2="1183.7" stroke="#84849a"/>
<line x1="167.5" x2="167.5" y1="588.5" y2="589.7" stroke="#84849a"/>
<line x1="167.5" x2="167.5" y1="602.5" y2="601.3" stroke="#84849a"/>
<line x1="167.5" x2="167.5" y1="1182.5" y2="1183.7" stroke="#84849a"/>
<line x1="173.5" x2="173.5" y1="588.5" y2="589.7" stroke="#84849a"/>
<line x1="173.5" x2="173.5" y1="602.5" y2="601.3" stroke="#84849a"/>
<line x1="173.5" x2="173.5" y1="1182.5" y2="1183.7" stroke="#84849a"/>
<line x1="179.5" x2="179.5" y1="588.5" y2="589.7" stroke="#84849a"/>
<line x1="179.5" x2="179.5" y1="602.5" y2="601.3" stroke="#84849a"/>
<line x1="179.5" x2="179.5" y1="1182.5" y2="1183.7" stroke="#84849a"/>
<line x1="185.5" x2="185.5" y1="588.5" y2="591.0" stroke="#84849a"/>
<line x1="185.5" x2="185.5" y1="602.5" y2="600.0" stroke="#84849a"/>
<line x1="185.5" x2="185.5" y1="1182.5" y2="1185.0" stroke="#84849a"/>
<line x1="191.5" x2="191.5" y1="588.5" y2="589.7" stroke="#84849a"/>
<line x1="191.5" x2="191.5" y1="602.5" y2="601.3" stroke="#84849a"/>
<line x1="191.5" x2="191.5" y1="1182.5" y2="1183.7" stroke="#84849a"/>
<line x1="197.5" x2="197.5" y1="588.5" y2="589.7" stroke="#84849a"/>
<line x1="197.5" x2="197.5" y1="602.5" y2="601.3" stroke="#84849a"/>
<line x1="197.5" x2="197.5" y1="1182.5" y2="1183.7" stroke="#84849a"/>
<line x1="203.5" x2="203.5" y1="588.5" y2="589.7" stroke="#84849a"/>
<line x1="203.5" x2="203.5" y1="602.5" y2="601.3" stroke="#84849a"/>
<line x1="203.5" x2="203.5" y1="1182.5" y2="1183.7" stroke="#84849a"/>
<line x1="209.5" x2="209.5" y1="588.5" y2="589.7" stroke="#84849a"/>
<line x1="209.5" x2="209.5" y1="602.5" y2="601.3" stroke="#84849a"/>
<line x1="209.5" x2="209.5" y1="1182.5" y2="1183.7" stroke="#84849a"/>
<line x1="215.5" x2="215.5" y1="588.5" y2="589.7" stroke="#84849a"/>
<line x1="215.5" x2="215.5" y1="602.5" y2="601.3" stroke="#84849a"/>
<line x1="215.5" x2="215.5" y1="1182.5" y2="1183.7" stroke="#84849a"/>
<line x1="221.5" x2="221.5" y1="588.5" y2="589.7" stroke="#84849a"/>
<line x1="221.5" x2="221.5" y1="602.5" y2="601.3" stroke="#84849a"/>
<line x1="221.5" x2="221.5" y1="1182.5" y2="1183.7" stroke="#84849a"/>
<line x1="227.5" x2="227.5" y1="588.5" y2="591.0" stroke="#84849a"/>
<line x1="227.5" x2="227.5" y1="602.5" y2="600.0" stroke="#84849a"/>
<line x1="227.5" x2="227.5" y1="1182.5" y2="1185.0" stroke="#84849a"/>
<line x1="233.5" x2="233.5" y1="588.5" y2="589.7" stroke="#84849a"/>
<line x1="233.5" x2="233.5" y1="602.5" y2="601.3" stroke="#84849a"/>
<line x1="233.5" x2="233.5" y1="1182.5" y2="1183.7" stroke="#84849a"/>
<line x1="239.5" x2="239.5" y1="588.5" y2="589.7" stroke="#84849a"/>
<line x1="239.5" x2="239.5" y1="602.5" y2="601.3" stroke="#84849a"/>
<line x1="239.5" x2="239.5" y1="1182.5" y2="1183.7" stroke="#84849a"/>
<line x1="245.5" x2="245.5" y1="588.5" y2="589.7" stroke="#84849a"/>
<line x1="245.5" x2="245.5" y1="602.5" y2="601.3" stroke="#84849a"/>
<line x1="245.5" x2="245.5" y1="1182.5" y2="1183.7" stroke="#84849a"/>
<line x1="251.5" x2="251.5" y1="588.5" y2="589.7" stroke="#84849a"/>
<line x1="251.5" x2="251.5" y1="602.5" y2="601.3" stroke="#84849a"/>
<line x1="251.5" x2="251.5" y1="1182.5" y2="1183.7" stroke="#84849a"/>
<line x1="256.5" x2="256.5" y1="588.5" y2="589.7" stroke="#84849a"/>
<line x1="256.5" x2="256.5" y1="602.5" y2="601.3" stroke="#84849a"/>
<line x1="256.5" x2="256.5" y1="1182.5" y2="1183.7" stroke="#84849a"/>
<line x1="262.5" x2="262.5" y1="588.5" y2="589.7" stroke="#84849a"/>
<line x1="262.5" x2="262.5" y1="602.5" y2="601.3" stroke="#84849a"/>
<line x1="262.5" x2="262.5" y1="1182.5" y2="1183.7" stroke="#84849a"/>
<line x1="268.5" x2="268.5" y1="588.5" y2="591.0" stroke="#84849a"/>
<line x1="268.5" x2="268.5" y1="602.5" y2="600.0" stroke="#84849a"/>
<line x1="268.5" x2="268.5" y1="1182.5" y2="1185.0" stroke="#84849a"/>
<line x1="274.5" x2="274.5" y1="588.5" y2="589.7" stroke="#84849a"/>
<line x1="274.5" x2="274.5" y1="602.5" y2="601.3" stroke="#84849a"/>
<line x1="274.5" x2="274.5" y1="1182.5" y2="1183.7" stroke="#84849a"/>
<line x1="280.5" x2="280.5" y1="588.5" y2="589.7" stroke="#84849a"/>
<line x1="280.5" x2="280.5" y1="602.5" y2="601.3" stroke="#84849a"/>
<line x1="280.5" x2="280.5" y1="1182.5" y2="1183.7" stroke="#84849a"/>
<line x1="286.5" x2="286.5" y1="588.5" y2="589.7" stroke="#84849a"/>
<line x1="286.5" x2="286.5" y1="602.5" y2="601.3" stroke="#84849a"/>
<line x1="286.5" x2="286.5" y1="1182.5" y2="1183.7" stroke="#84849a"/>
<line x1="292.5" x2="292.5" y1="588.5" y2="589.7" stroke="#84849a"/>
<line x1="292.5" x2="292.5" y1="602.5" y2="601.3" stroke="#84849a"/>
<line x1="292.5" x2="292.5" y1="1182.5" y2="1183.7" stroke="#84849a"/>
<line x1="298.5" x2="298.5" y1="588.5" y2="589.7" stroke="#84849a"/>
<line x1="298.5" x2="298.5" y1="602.5" y2="601.3" stroke="#84849a"/>
<line x1="298.5" x2="298.5" y1="1182.5" y2="1183.7" stroke="#84849a"/>
<line x1="304.5" x2="304.5" y1="588.5" y2="589.7" stroke="#84849a"/>
<line x1="304.5" x2="304.5" y1="602.5" y2="601.3" stroke="#84849a"/>
<line x1="304.5" x2="304.5" y1="1182.5" y2="1183.7" stroke="#84849a"/>
<line x1="310.5" x2="310.5" y1="588.5" y2="591.0" stroke="#84849a"/>
<line x1="310.5" x2="310.5" y1="602.5" y2="600.0" stroke="#84849a"/>
<line x1="310.5" x2="310.5" y1="1182.5" y2="1185.0" stroke="#84849a"/>
<line x1="316.5" x2="316.5" y1="588.5" y2="589.7" stroke="#84849a"/>
<line x1="316.5" x2="316.5" y1="602.5" y2="601.3" stroke="#84849a"/>
<line x1="316.5" x2="316.5" y1="1182.5" y2="1183.7" stroke="#84849a"/>
<line x1="322.5" x2="322.5" y1="588.5" y2="589.7" stroke="#84849a"/>
<line x1="322.5" x2="322.5" y1="602.5" y2="601.3" stroke="#84849a"/>
<line x1="322.5" x2="322.5" y1="1182.5" y2="1183.7" stroke="#84849a"/>
<line x1="328.5" x2="328.5" y1="588.5" y2="589.7" stroke="#84849a"/>
<line x1="328.5" x2="328.5" y1="602.5" y2="601.3" stroke="#84849a"/>
<line x1="328.5" x2="328.5" y1="1182.5" y2="1183.7" stroke="#84849a"/>
<line x1="334.5" x2="334.5" y1="588.5" y2="589.7" stroke="#84849a"/>
<line x1="334.5" x2="334.5" y1="602.5" y2="601.3" stroke="#84849a"/>
<line x1="334.5" x2="334.5" y1="1182.5" y2="1183.7" stroke="#84849a"/>
<line x1="340.5" x2="340.5" y1="588.5" y2="589.7" stroke="#84849a"/>
<line x1="340.5" x2="340.5" y1="602.5" y2="601.3" stroke="#84849a"/>
<line x1="340.5" x2="340.5" y1="1182.5" y2="1183.7" stroke="#84849a"/>
<line x1="346.5" x2="346.5" y1="588.5" y2="589.7" stroke="#84849a"/>
<line x1="346.5" x2="346.5" y1="602.5" y2="601.3" stroke="#84849a"/>
<line x1="346.5" x2="346.5" y1="1182.5" y2="1183.7" stroke="#84849a"/>
<line x1="352.5" x2="352.5" y1="588.5" y2="591.0" stroke="#84849a"/>
<line x1="352.5" x2="352.5" y1="602.5" y2="600.0" stroke="#84849a"/>
<line x1="352.5" x2="352.5" y1="1182.5" y2="1185.0" stroke="#84849a"/>
<line x1="358.5" x2="358.5" y1="588.5" y2="589.7" stroke="#84849a"/>
<line x1="358.5" x2="358.5" y1="602.5" y2="601.3" stroke="#84849a"/>
<line x1="358.5" x2="358.5" y1="1182.5" y2="1183.7" stroke="#84849a"/>
<line x1="364.5" x2="364.5" y1="588.5" y2="589.7" stroke="#84849a"/>
<line x1="364.5" x2="364.5" y1="602.5" y2="601.3" stroke="#84849a"/>
<line x1="364.5" x2="364.5" y1="1182.5" y2="1183.7" stroke="#84849a"/>
<line x1="369.5" x2="369.5" y1="588.5" y2="589.7" stroke="#84849a"/>
<line x1="369.5" x2="369.5" y1="602.5" y2="601.3" stroke="#84849a"/>
<line x1="369.5" x2="369.5" y1="1182.5" y2="1183.7" stroke="#84849a"/>
<line x1="375.5" x2="375.5" y1="588.5" y2="589.7" stroke="#84849a"/>
<line x1="375.5" x2="375.5" y1="602.5" y2="601.3" stroke="#84849a"/>
<line x1="375.5" x2="375.5" y1="1182.5" y2="1183.7" stroke="#84849a"/>
<line x1="381.5" x2="381.5" y1="588.5" y2="589.7" stroke="#84849a"/>
<line x1="381.5" x2="381.5" y1="602.5" y2="601.3" stroke="#84849a"/>
<line x1="381.5" x2="381.5" y1="1182.5" y2="1183.7" stroke="#84849a"/>
<line x1="387.5" x2="387.5" y1="588.5" y2="589.7" stroke="#84849a"/>
<line x1="387.5" x2="387.5" y1="602.5" y2="601.3" stroke="#84849a"/>
<line x1="387.5" x2="387.5" y1="1182.5" y2="1183.7" stroke="#84849a"/>
<line x1="393.5" x2="393.5" y1="588.5" y2="591.0" stroke="#84849a"/>
<line x1="393.5" x2="393.5" y1="602.5" y2="600.0" stroke="#84849a"/>
<line x1="393.5" x2="393.5" y1="1182.5" y2="1185.0" stroke="#84849a"/>
<line x1="399.5" x2="399.5" y1="588.5" y2="589.7" stroke="#84849a"/>
<line x1="399.5" x2="399.5" y1="602.5" y2="601.3" stroke="#84849a"/>
<line x1="399.5" x2="399.5" y1="1182.5" y2="1183.7" stroke="#84849a"/>
<line x1="405.5" x2="405.5" y1="588.5" y2="589.7" stroke="#84849a"/>
<line x1="405.5" x2="405.5" y1="602.5" y2="601.3" stroke="#84849a"/>
<line x1="405.5" x2="405.5" y1="1182.5" y2="1183.7" stroke="#84849a"/>
<line x1="411.5" x2="411.5" y1="588.5" y2="589.7" stroke="#84849a"/>
<line x1="411.5" x2="411.5" y1="602.5" y2="601.3" stroke="#84849a"/>
<line x1="411.5" x2="411.5" y1="1182.5" y2="1183.7" stroke="#84849a"/>
<line x1="417.5" x2="417.5" y1="588.5" y2="589.7" stroke="#84849a"/>
<line x1="417.5" x2="417.5" y1="602.5" y2="601.3" stroke="#84849a"/>
<line x1="417.5" x2="417.5" y1="1182.5" y2="1183.7" stroke="#84849a"/>
<line x1="423.5" x2="423.5" y1="588.5" y2="591.0" stroke="#84849a"/>
<line x1="423.5" x2="423.5" y1="602.5" y2="600.0" stroke="#84849a"/>
<line x1="423.5" x2="423.5" y1="1182.5" y2="1185.0" stroke="#84849a"/>
<line x1="429.5" x2="429.5" y1="588.5" y2="589.7" stroke="#84849a"/>
<line x1="429.5" x2="429.5" y1="602.5" y2="601.3" stroke="#84849a"/>
<line x1="429.5" x2="429.5" y1="1182.5" y2="1183.7" stroke="#84849a"/>
<line x1="435.5" x2="435.5" y1="588.5" y2="589.7" stroke="#84849a"/>
<line x1="435.5" x2="435.5" y1="602.5" y2="601.3" stroke="#84849a"/>
<line x1="435.5" x2="435.5" y1="1182.5" y2="1183.7" stroke="#84849a"/>
<line x1="441.5" x2="441.5" y1="588.5" y2="589.7" stroke="#84849a"/>
<line x1="441.5" x2="441.5" y1="602.5" y2="601.3" stroke="#84849a"/>
<line x1="441.5" x2="441.5" y1="1182.5" y2="1183.7" stroke="#84849a"/>
<line x1="447.5" x2="447.5" y1="588.5" y2="589.7" stroke="#84849a"/>
<line x1="447.5" x2="447.5" y1="602.5" y2="601.3" stroke="#84849a"/>
<line x1="447.5" x2="447.5" y1="1182.5" y2="1183.7" stroke="#84849a"/>
<line x1="453.5" x2="453.5" y1="588.5" y2="589.7" stroke="#84849a"/>
<line x1="453.5" x2="453.5" y1="602.5" y2="601.3" stroke="#84849a"/>
<line x1="453.5" x2="453.5" y1="1182.5" y2="1183.7" stroke="#84849a"/>
<line x1="459.5" x2="459.5" y1="588.5" y2="589.7" stroke="#84849a"/>
<line x1="459.5" x2="459.5" y1="602.5" y2="601.3" stroke="#84849a"/>
<line x1="459.5" x2="459.5" y1="1182.5" y2="1183.7" stroke="#84849a"/>
<line x1="465.5" x2="465.5" y1="588.5" y2="591.0" stroke="#84849a"/>
<line x1="465.5" x2="465.5" y1="602.5" y2="600.0" stroke="#84849a"/>
<line x1="465.5" x2="465.5" y1="1182.5" y2="1185.0" stroke="#84849a"/>
<line x1="471.5" x2="471.5" y1="588.5" y2="589.7" stroke="#84849a"/>
<line x1="471.5" x2="471.5" y1="602.5" y2="601.3" stroke="#84849a"/>
<line x1="471.5" x2="471.5" y1="1182.5" y2="1183.7" stroke="#84849a"/>
<line x1="476.5" x2="476.5" y1="588.5" y2="589.7" stroke="#84849a"/>
<line x1="476.5" x2="476.5" y1="602.5" y2="601.3" stroke="#84849a"/>
<line x1="476.5" x2="476.5" y1="1182.5" y2="1183.7" stroke="#84849a"/>
<line x1="482.5" x2="482.5" y1="588.5" y2="589.7" stroke="#84849a"/>
<line x1="482.5" x2="482.5" y1="602.5" y2="601.3" stroke="#84849a"/>
<line x1="482.5" x2="482.5" y1="1182.5" y2="1183.7" stroke="#84849a"/>
<line x1="488.5" x2="488.5" y1="588.5" y2="589.7" stroke="#84849a"/>
<line x1="488.5" x2="488.5" y1="602.5" y2="601.3" stroke="#84849a"/>
<line x1="488.5" x2="488.5" y1="1182.5" y2="1183.7" stroke="#84849a"/>
<line x1="494.5" x2="494.5" y1="588.5" y2="589.7" stroke="#84849a"/>
<line x1="494.5" x2="494.5" y1="602.5" y2="601.3" stroke="#84849a"/>
<line x1="494.5" x2="494.5" y1="1182.5" y2="1183.7" stroke="#84849a"/>
<line x1="500.5" x2="500.5" y1="588.5" y2="589.7" stroke="#84849a"/>
<line x1="500.5" x2="500.5" y1="602.5" y2="601.3" stroke="#84849a"/>
<line x1="500.5" x2="500.5" y1="1182.5" y2="1183.7" stroke="#84849a"/>
<line x1="506.5" x2="506.5" y1="588.5" y2="591.0" stroke="#84849a"/>
<line x1="506.5" x2="506.5" y1="602.5" y2="600.0" stroke="#84849a"/>
<line x1="506.5" x2="506.5" y1="1182.5" y2="1185.0" stroke="#84849a"/>
<line x1="512.5" x2="512.5" y1="588.5" y2="589.7" stroke="#84849a"/>
<line x1="512.5" x2="512.5" y1="602.5" y2="601.3" stroke="#84849a"/>
<line x1="512.5" x2="512.5" y1="1182.5" y2="1183.7" stroke="#84849a"/>
<line x1="518.5" x2="518.5" y1="588.5" y2="589.7" stroke="#84849a"/>
<line x1="518.5" x2="518.5" y1="602.5" y2="601.3" stroke="#84849a"/>
<line x1="518.5" x2="518.5" y1="1182.5" y2="1183.7" stroke="#84849a"/>
<line x1="524.5" x2="524.5" y1="588.5" y2="589.7" stroke="#84849a"/>
<line x1="524.5" x2="524.5" y1="602.5" y2="601.3" stroke="#84849a"/>
<line x1="524.5" x2="524.5" y1="1182.5" y2="1183.7" stroke="#84849a"/>
<line x1="530.5" x2="530.5" y1="588.5" y2="589.7" stroke="#84849a"/>
<line x1="530.5" x2="530.5" y1="602.5" y2="601.3" stroke="#84849a"/>
<line x1="530.5" x2="530.5" y1="1182.5" y2="1183.7" stroke="#84849a"/>
<line x1="536.5" x2="536.5" y1="588.5" y2="589.7" stroke="#84849a"/>
<line x1="536.5" x2="536.5" y1="602.5" y2="601.3" stroke="#84849a"/>
<line x1="536.5" x2="536.5" y1="1182.5" y2="1183.7" stroke="#84849a"/>
<line x1="542.5" x2="542.5" y1="588.5" y2="589.7" stroke="#84849a"/>
<line x1="542.5" x2="542.5" y1="602.5" y2="601.3" stroke="#84849a"/>
<line x1="542.5" x2="542.5" y1="1182.5" y2="1183.7" stroke="#84849a"/>
<line x1="548.5" x2="548.5" y1="588.5" y2="591.0" stroke="#84849a"/>
<line x1="548.5" x2="548.5" y1="602.5" y2="600.0" stroke="#84849a"/>
<line x1="548.5" x2="548.5" y1="1182.5" y2="1185.0" stroke="#84849a"/>
<line x1="554.5" x2="554.5" y1="588.5" y2="589.7" stroke="#84849a"/>
<line x1="554.5" x2="554.5" y1="602.5" y2="601.3" stroke="#84849a"/>
<line x1="554.5" x2="554.5" y1="1182.5" y2="1183.7" stroke="#84849a"/>
<line x1="560.5" x2="560.5" y1="588.5" y2="589.7" stroke="#84849a"/>
<line x1="560.5" x2="560.5" y1="602.5" y2="601.3" stroke="#84849a"/>
<line x1="560.5" x2="560.5" y1="1182.5" y2="1183.7" stroke="#84849a"/>
<line x1="566.5" x2="566.5" y1="588.5" y2="589.7" stroke="#84849a"/>
<line x1="566.5" x2="566.5" y1="602.5" y2="601.3" stroke="#84849a"/>
<line x1="566.5" x2="566.5" y1="1182.5" y2="1183.7" stroke="#84849a"/>
<line x1="572.5" x2="572.5" y1="588.5" y2="589.7" stroke="#84849a"/>
<line x1="572.5" x2="572.5" y1="602.5" y2="601.3" stroke="#84849a"/>
<line x1="572.5" x2="572.5" y1="1182.5" y2="1183.7" stroke="#84849a"/>
<line x1="578.5" x2="578.5" y1="588.5" y2="589.7" stroke="#84849a"/>
<line x1="578.5" x2="578.5" y1="602.5" y2="601.3" stroke="#84849a"/>
<line x1="578.5" x2="578.5" y1="1182.5" y2="1183.7" stroke="#84849a"/>
<line x1="584.5" x2="584.5" y1="588.5" y2="589.7" stroke="#84849a"/>
<line x1="584.5" x2="584.5" y1="602.5" y2="601.3" stroke="#84849a"/>
<line x1="584.5" x2="584.5" y1="1182.5" y2="1183.7" stroke="#84849a"/>
<line x1="589.5" x2="589.5" y1="588.5" y2="591.0" stroke="#84849a"/>
<line x1="589.5" x2="589.5" y1="602.5" y2="600.0" stroke="#84849a"/>
<line x1="589.5" x2="589.5" y1="1182.5" y2="1185.0" stroke="#84849a"/>
<line x1="595.5" x2="595.5" y1="588.5" y2="589.7" stroke="#84849a"/>
<line x1="595.5" x2="595.5" y1="602.5" y2="601.3" stroke="#84849a"/>
<line x1="595.5" x2="595.5" y1="1182.5" y2="1183.7" stroke="#84849a"/>
<line x1="601.5" x2="601.5" y1="588.5" y2="589.7" stroke="#84849a"/>
<line x1="601.5" x2="601.5" y1="602.5" y2="601.3" stroke="#84849a"/>
<line x1="601.5" x2="601.5" y1="1182.5" y2="1183.7" stroke="#84849a"/>
<line x1="607.5" x2="607.5" y1="588.5" y2="589.7" stroke="#84849a"/>
<line x1="607.5" x2="607.5" y1="602.5" y2="601.3" stroke="#84849a"/>
<line x1="607.5" x2="607.5" y1="1182.5" y2="1183.7" stroke="#84849a"/>
<line x1="613.5" x2="613.5" y1="588.5" y2="589.7" stroke="#84849a"/>
<line x1="613.5" x2="613.5" y1="602.5" y2="601.3" stroke="#84849a"/>
<line x1="613.5" x2="613.5" y1="1182.5" y2="1183.7" stroke="#84849a"/>
<line x1="619.5" x2="619.5" y1="588.5" y2="589.7" stroke="#84849a"/>
<line x1="619.5" x2="619.5" y1="602.5" y2="601.3" stroke="#84849a"/>
<line x1="619.5" x2="619.5" y1="1182.5" y2="1183.7" stroke="#84849a"/>
<line x1="625.5" x2="625.5" y1="588.5" y2="589.7" stroke="#84849a"/>
<line x1="625.5" x2="625.5" y1="602.5" y2="601.3" stroke="#84849a"/>
<line x1="625.5" x2="625.5" y1="1182.5" y2="1183.7" stroke="#84849a"/>
<line x1="631.5" x2="631.5" y1="588.5" y2="591.0" stroke="#84849a"/>
<line x1="631.5" x2="631.5" y1="602.5" y2="600.0" stroke="#84849a"/>
<line x1="631.5" x2="631.5" y1="1182.5" y2="1185.0" stroke="#84849a"/>
<line x1="637.5" x2="637.5" y1="588.5" y2="589.7" stroke="#84849a"/>
<line x1="637.5" x2="637.5" y1="602.5" y2="601.3" stroke="#84849a"/>
<line x1="637.5" x2="637.5" y1="1182.5" y2="1183.7" stroke="#84849a"/>
<line x1="643.5" x2="643.5" y1="588.5" y2="589.7" stroke="#84849a"/>
<line x1="643.5" x2="643.5" y1="602.5" y2="601.3" stroke="#84849a"/>
<line x1="643.5" x2="643.5" y1="1182.5" y2="1183.7" stroke="#84849a"/>
<line x1="649.5" x2="649.5" y1="588.5" y2="589.7" stroke="#84849a"/>
<line x1="649.5" x2="649.5" y1="602.5" y2="601.3" stroke="#84849a"/>
<line x1="649.5" x2="649.5" y1="1182.5" y2="1183.7" stroke="#84849a"/>
<line x1="655.5" x2="655.5" y1="588.5" y2="589.7" stroke="#84849a"/>
<line x1="655.5" x2="655.5" y1="602.5" y2="601.3" stroke="#84849a"/>
<line x1="655.5" x2="655.5" y1="1182.5" y2="1183.7" stroke="#84849a"/>
<line x1="661.5" x2="661.5" y1="588.5" y2="589.7" stroke="#84849a"/>
<line x1="661.5" x2="661.5" y1="602.5" y2="601.3" stroke="#84849a"/>
<line x1="661.5" x2="661.5" y1="1182.5" y2="1183.7" stroke="#84849a"/>
<line x1="667.5" x2="667.5" y1="588.5" y2="589.7" stroke="#84849a"/>
<line x1="667.5" x2="667.5" y1="602.5" y2="601.3" stroke="#84849a"/>
<line x1="667.5" x2="667.5" y1="1182.5" y2="1183.7" stroke="#84849a"/>
<line x1="673.5" x2="673.5" y1="588.5" y2="591.0" stroke="#84849a"/>
<line x1="673.5" x2="673.5" y1="602.5" y2="600.0" stroke="#84849a"/>
<line x1="673.5" x2="673.5" y1="1182.5" y2="1185.0" stroke="#84849a"/>
<line x1="679.5" x2="679.5" y1="588.5" y2="589.7" stroke="#84849a"/>
<line x1="679.5" x2="679.5" y1="602.5" y2="601.3" stroke="#84849a"/>
<line x1="679.5" x2="679.5" y1="1182.5" y2="1183.7" stroke="#84849a"/>
<line x1="685.5" x2="685.5" y1="588.5" y2="589.7" stroke="#84849a"/>
<line x1="685.5" x2="685.5" y1="602.5" y2="601.3" stroke="#84849a"/>
<line x1="685.5" x2="685.5" y1="1182.5" y2="1183.7" stroke="#84849a"/>
<line x1="691.5" x2="691.5" y1="588.5" y2="589.7" stroke="#84849a"/>
<line x1="691.5" x2="691.5" y1="602.5" y2="601.3" stroke="#84849a"/>
<line x1="691.5" x2="691.5" y1="1182.5" y2="1183.7" stroke="#84849a"/>
<line x1="696.5" x2="696.5" y1="588.5" y2="589.7" stroke="#84849a"/>
<line x1="696.5" x2="696.5" y1="602.5" y2="601.3" stroke="#84849a"/>
<line x1="696.5" x2="696.5" y1="1182.5" y2="1183.7" stroke="#84849a"/>
<line x1="702.5" x2="702.5" y1="588.5" y2="589.7" stroke="#84849a"/>
<line x1="702.5" x2="702.5" y1="602.5" y2="601.3" stroke="#84849a"/>
<line x1="702.5" x2="702.5" y1="1182.5" y2="1183.7" stroke="#84849a"/>
<line x1="708.5" x2="708.5" y1="588.5" y2="589.7" stroke="#84849a"/>
<line x1="708.5" x2="708.5" y1="602.5" y2="601.3" stroke="#84849a"/>
<line x1="708.5" x2="708.5" y1="1182.5" y2="1183.7" stroke="#84849a"/>
<line x1="714.5" x2="714.5" y1="588.5" y2="591.0" stroke="#84849a"/>
<line x1="714.5" x2="714.5" y1="602.5" y2="600.0" stroke="#84849a"/>
<line x1="714.5" x2="714.5" y1="1182.5" y2="1185.0" stroke="#84849a"/>
<line x1="720.5" x2="720.5" y1="588.5" y2="589.7" stroke="#84849a"/>
<line x1="720.5" x2="720.5" y1="602.5" y2="601.3" stroke="#84849a"/>
<line x1="720.5" x2="720.5" y1="1182.5" y2="1183.7" stroke="#84849a"/>
<line x1="726.5" x2="726.5" y1="588.5" y2="589.7" stroke="#84849a"/>
<line x1="726.5" x2="726.5" y1="602.5" y2="601.3" stroke="#84849a"/>
<line x1="726.5" x2="726.5" y1="1182.5" y2="1183.7" stroke="#84849a"/>
<line x1="732.5" x2="732.5" y1="588.5" y2="589.7" stroke="#84849a"/>
<line x1="732.5" x2="732.5" y1="602.5" y2="601.3" stroke="#84849a"/>
<line x1="732.5" x2="732.5" y1="1182.5" y2="1183.7" stroke="#84849a"/>
<line x1="738.5" x2="738.5" y1="588.5" y2="589.7" stroke="#84849a"/>
<line x1="738.5" x2="738.5" y1="602.5" y2="601.3" stroke="#84849a"/>
<line x1="738.5" x2="738.5" y1="1182.5" y2="1183.7" stroke="#84849a"/>
<line x1="744.5" x2="744.5" y1="588.5" y2="589.7" stroke="#84849a"/>
<line x1="744.5" x2="744.5" y1="602.5" y2="601.3" stroke="#84849a"/>
<line x1="744.5" x2="744.5" y1="1182.5" y2="1183.7" stroke="#84849a"/>
<line x1="750.5" x2="750.5" y1="588.5" y2="589.7" stroke="#84849a"/>
<line x1="750.5" x2="750.5" y1="602.5" y2="601.3" stroke="#84849a"/>
<line x1="750.5" x2="750.5" y1="1182.5" y2="1183.7" stroke="#84849a"/>
<line x1="756.5" x2="756.5" y1="588.5" y2="591.0" stroke="#84849a"/>
<line x1="756.5" x2="756.5" y1="602.5" y2="600.0" stroke="#84849a"/>
<line x1="756.5" x2="756.5" y1="1182.5" y2="1185.0" stroke="#84849a"/>
<line x1="762.5" x2="762.5" y1="588.5" y2="589.7" stroke="#84849a"/>
<line x1="762.5" x2="762.5" y1="602.5" y2="601.3" stroke="#84849a"/>
<line x1="762.5" x2="762.5" y1="1182.5" y2="1183.7" stroke="#84849a"/>
<line x1="768.5" x2="768.5" y1="588.5" y2="589.7" stroke="#84849a"/>
<line x1="768.5" x2="768.5" y1="602.5" y2="601.3" stroke="#84849a"/>
<line x1="768.5" x2="768.5" y1="1182.5" y2="1183.7" stroke="#84849a"/>
<line x1="774.5" x2="774.5" y1="588.5" y2="589.7" stroke="#84849a"/>
<line x1="774.5" x2="774.5" y1="602.5" y2="601.3" stroke="#84849a"/>
<line x1="774.5" x2="774.5" y1="1182.5" y2="1183.7" stroke="#84849a"/>
<line x1="780.5" x2="780.5" y1="588.5" y2="589.7" stroke="#84849a"/>
<line x1="780.5" x2="780.5" y1="602.5" y2="601.3" stroke="#84849a"/>
<line x1="780.5" x2="780.5" y1="1182.5" y2="1183.7" stroke="#84849a"/>
<line x1="786.5" x2="786.5" y1="588.5" y2="589.7" stroke="#84849a"/>
<line x1="786.5" x2="786.5" y1="602.5" y2="601.3" stroke="#84849a"/>
<line x1="786.5" x2="786.5" y1="1182.5" y2="1183.7" stroke="#84849a"/>
<line x1="792.5" x2="792.5" y1="588.5" y2="589.7" stroke="#84849a"/>
<line x1="792.5" x2="792.5" y1="602.5" y2="601.3" stroke="#84849a"/>
<line x1="792.5" x2="792.5" y1="1182.5" y2="1183.7" stroke="#84849a"/>
<line x1="798.5" x2="798.5" y1="588.5" y2="591.0" stroke="#84849a"/>
<line x1="798.5" x2="798.5" y1="602.5" y2="600.0" stroke="#84849a"/>
<line x1="798.5" x2="798.5" y1="1182.5" y2="1185.0" stroke="#84849a"/>
<line x1="804.5" x2="804.5" y1="588.5" y2="589.7" stroke="#84849a"/>
<line x1="804.5" x2="804.5" y1="602.5" y2="601.3" stroke="#84849a"/>
<line x1="804.5" x2="804.5" y1="1182.5" y2="1183.7" stroke="#84849a"/>
<line x1="809.5" x2="809.5" y1="588.5" y2="589.7" stroke="#84849a"/>
<line x1="809.5" x2="809.5" y1="602.5" y2="601.3" stroke="#84849a"/>
<line x1="809.5" x2="809.5" y1="1182.5" y2="1183.7" stroke="#84849a"/>
<line x1="815.5" x2="815.5" y1="588.5" y2="589.7" stroke="#84849a"/>
<line x1="815.5" x2="815.5" y1="602.5" y2="601.3" stroke="#84849a"/>
<line x1="815.5" x2="815.5" y1="1182.5" y2="1183.7" stroke="#84849a"/>
<line x1="821.5" x2="821.5" y1="588.5" y2="589.7" stroke="#84849a"/>
<line x1="821.5" x2="821.5" y1="602.5" y2="601.3" stroke="#84849a"/>
<line x1="821.5" x2="821.5" y1="1182.5" y2="1183.7" stroke="#84849a"/>
<line x1="827.5" x2="827.5" y1="588.5" y2="589.7" stroke="#84849a"/>
<line x1="827.5" x2="827.5" y1="602.5" y2="601.3" stroke="#84849a"/>
<line x1="827.5" x2="827.5" y1="1182.5" y2="1183.7" stroke="#84849a"/>
<line x1="833.5" x2="833.5" y1="588.5" y2="589.7" stroke="#84849a"/>
<line x1="833.5" x2="833.5" y1="602.5" y2="601.3" stroke="#84849a"/>
<line x1="833.5" x2="833.5" y1="1182.5" y2="1183.7" stroke="#84849a"/>
<line x1="839.5" x2="839.5" y1="588.5" y2="591.0" stroke="#84849a"/>
<line x1="839.5" x2="839.5" y1="602.5" y2="600.0" stroke="#84849a"/>
<line x1="839.5" x2="839.5" y1="1182.5" y2="1185.0" stroke="#84849a"/>
<line x1="845.5" x2="845.5" y1="588.5" y2="589.7" stroke="#84849a"/>
<line x1="845.5" x2="845.5" y1="602.5" y2="601.3" stroke="#84849a"/>
<line x1="845.5" x2="845.5" y1="1182.5" y2="1183.7" stroke="#84849a"/>
<line x1="851.5" x2="851.5" y1="588.5" y2="589.7" stroke="#84849a"/>
<line x1="851.5" x2="851.5" y1="602.5" y2="601.3" stroke="#84849a"/>
<line x1="851.5" x2="851.5" y1="1182.5" y2="1183.7" stroke="#84849a"/>
<line x1="857.5" x2="857.5" y1="588.5" y2="589.7" stroke="#84849a"/>
<line x1="857.5" x2="857.5" y1="602.5" y2="601.3" stroke="#84849a"/>
<line x1="857.5" x2="857.5" y1="1182.5" y2="1183.7" stroke="#84849a"/>
<line x1="863.5" x2="863.5" y1="588.5" y2="589.7" stroke="#84849a"/>
<line x1="863.5" x2="863.5" y1="602.5" y2="601.3" stroke="#84849a"/>
<line x1="863.5" x2="863.5" y1="1182.5" y2="1183.7" stroke="#84849a"/>
<line x1="869.5" x2="869.5" y1="588.5" y2="589.7" stroke="#84849a"/>
<line x1="869.5" x2="869.5" y1="602.5" y2="601.3" stroke="#84849a"/>
<line x1="869.5" x2="869.5" y1="1182.5" y2="1183.7" stroke="#84849a"/>
<line x1="875.5" x2="875.5" y1="588.5" y2="589.7" stroke="#84849a"/>
<line x1="875.5" x2="875.5" y1="602.5" y2="601.3" stroke="#84849a"/>
<line x1="875.5" x2="875.5" y1="1182.5" y2="1183.7" stroke="#84849a"/>
<line x1="881.5" x2="881.5" y1="588.5" y2="591.0" stroke="#84849a"/>
<line x1="881.5" x2="881.5" y1="602.5" y2="600.0" stroke="#84849a"/>
<line x1="881.5" x2="881.5" y1="1182.5" y2="1185.0" stroke="#84849a"/>
<line x1="887.5" x2="887.5" y1="588.5" y2="589.7" stroke="#84849a"/>
<line x1="887.5" x2="887.5" y1="602.5" y2="601.3" stroke="#84849a"/>
<line x1="887.5" x2="887.5" y1="1182.5" y2="1183.7" stroke="#84849a"/>
<line x1="893.5" x2="893.5" y1="588.5" y2="589.7" stroke="#84849a"/>
<line x1="893.5" x2="893.5" y1="602.5" y2="601.3" stroke="#84849a"/>
<line x1="893.5" x2="893.5" y1="1182.5" y2="1183.7" stroke="#84849a"/>
<line x1="899.5" x2="899.5" y1="588.5" y2="589.7" stroke="#84849a"/>
<line x1="899.5" x2="899.5" y1="602.5" y2="601.3" stroke="#84849a"/>
<line x1="899.5" x2="899.5" y1="1182.5" y2="1183.7" stroke="#84849a"/>
<line x1="905.5" x2="905.5" y1="588.5" y2="589.7" stroke="#84849a"/>
<line x1="905.5" x2="905.5" y1="602.5" y2="601.3" stroke="#84849a"/>
<line x1="905.5" x2="905.5" y1="1182.5" y2="1183.7" stroke="#84849a"/>
<line x1="911.5" x2="911.5" y1="588.5" y2="589.7" stroke="#84849a"/>
<line x1="911.5" x2="911.5" y1="602.5" y2="601.3" stroke="#84849a"/>
<line x1="911.5" x2="911.5" y1="1182.5" y2="1183.7" stroke="#84849a"/>
<line x1="916.5" x2="916.5" y1="588.5" y2="589.7" stroke="#84849a"/>
<line x1="916.5" x2="916.5" y1="602.5" y2="601.3" stroke="#84849a"/>
<line x1="916.5" x2="916.5" y1="1182.5" y2="1183.7" stroke="#84849a"/>
<line x1="922.5" x2="922.5" y1="588.5" y2="591.0" stroke="#84849a"/>
<line x1="922.5" x2="922.5" y1="602.5" y2="600.0" stroke="#84849a"/>
<line x1="922.5" x2="922.5" y1="1182.5" y2="1185.0" stroke="#84849a"/>
<line x1="928.5" x2="928.5" y1="588.5" y2="589.7" stroke="#84849a"/>
<line x1="928.5" x2="928.5" y1="602.5" y2="601.3" stroke="#84849a"/>
<line x1="928.5" x2="928.5" y1="1182.5" y2="1183.7" stroke="#84849a"/>
<line x1="934.5" x2="934.5" y1="588.5" y2="589.7" stroke="#84849a"/>
<line x1="934.5" x2="934.5" y1="602.5" y2="601.3" stroke="#84849a"/>
<line x1="934.5" x2="934.5" y1="1182.5" y2="1183.7" stroke="#84849a"/>
<line x1="940.5" x2="940.5" y1="588.5" y2="589.7" stroke="#84849a"/>
<line x1="940.5" x2="940.5" y1="602.5" y2="601.3" stroke="#84849a"/>
<line x1="940.5" x2="940.5" y1="1182.5" y2="1183.7" stroke="#84849a"/>
<line x1="946.5" x2="946.5" y1="588.5" y2="589.7" stroke="#84849a"/>
<line x1="946.5" x2="946.5" y1="602.5" y2="601.3" stroke="#84849a"/>
<line x1="946.5" x2="946.5" y1="1182.5" y2="1183.7" stroke="#84849a"/>
<line x1="952.5" x2="952.5" y1="588.5" y2="589.7" stroke="#84849a"/>
<line x1="952.5" x2="952.5" y1="602.5" y2="601.3" stroke="#84849a"/>
<line x1="952.5" x2="952.5" y1="1182.5" y2="1183.7" stroke="#84849a"/>
<line x1="958.5" x2="958.5" y1="588.5" y2="589.7" stroke="#84849a"/>
<line x1="958.5" x2="958.5" y1="602.5" y2="601.3" stroke="#84849a"/>
<line x1="958.5" x2="958.5" y1="1182.5" y2="1183.7" stroke="#84849a"/>
<line x1="964.5" x2="964.5" y1="588.5" y2="591.0" stroke="#84849a"/>
<line x1="964.5" x2="964.5" y1="602.5" y2="600.0" stroke="#84849a"/>
<line x1="964.5" x2="964.5" y1="1182.5" y2="1185.0" stroke="#84849a"/>
<line x1="970.5" x2="970.5" y1="588.5" y2="589.7" stroke="#84849a"/>
<line x1="970.5" x2="970.5" y1="602.5" y2="601.3" stroke="#84849a"/>
<line x1="970.5" x2="970.5" y1="1182.5" y2="1183.7" stroke="#84849a"/>
<line x1="976.5" x2="976.5" y1="588.5" y2="589.7" stroke="#84849a"/>
<line x1="976.5" x2="976.5" y1="602.5" y2="601.3" stroke="#84849a"/>
<line x1="976.5" x2="976.5" y1="1182.5" y2="1183.7" stroke="#84849a"/>
<line x1="982.5" x2="982.5" y1="588.5" y2="589.7" stroke="#84849a"/>
<line x1="982.5" x2="982.5" y1="602.5" y2="601.3" stroke="#84849a"/>
<line x1="982.5" x2="982.5" y1="1182.5" y2="1183.7" stroke="#84849a"/>
<line x1="988.5" x2="988.5" y1="588.5" y2="589.7" stroke="#84849a"/>
<line x1="988.5" x2="988.5" y1="602.5" y2="601.3" stroke="#84849a"/>
<line x1="988.5" x2="988.5" y1="1182.5" y2="1183.7" stroke="#84849a"/>
<line x1="994.5" x2="994.5" y1="588.5" y2="589.7" stroke="#84849a"/>
<line x1="994.5" x2="994.5" y1="602.5" y2="601.3" stroke="#84849a"/>
<line x1="994.5" x2="994.5" y1="1182.5" y2="1183.7" stroke="#84849a"/>
<line x1="1000.5" x2="1000.5" y1="588.5" y2="589.7" stroke="#84849a"/>
<line x1="1000.5" x2="1000.5" y1="602.5" y2="601.3" stroke="#84849a"/>
<line x1="1000.5" x2="1000.5" y1="1182.5" y2="1183.7" stroke="#84849a"/>
<line x1="1006.5" x2="1006.5" y1="588.5" y2="591.0" stroke="#84849a"/>
<line x1="1006.5" x2="1006.5" y1="602.5" y2="600.0" stroke="#84849a"/>
<line x1="1006.5" x2="1006.5" y1="1182.5" y2="1185.0" stroke="#84849a"/>
<line x1="1012.5" x2="1012.5" y1="588.5" y2="589.7" stroke="#84849a"/>
<line x1="1012.5" x2="1012.5" y1="602.5" y2="601.3" stroke="#84849a"/>
<line x1="1012.5" x2="1012.5" y1="1182.5" y2="1183.7" stroke="#84849a"/>
<line x1="1018.5" x2="1018.5" y1="588.5" y2="589.7" stroke="#84849a"/>
<line x1="1018.5" x2="1018.5" y1="602.5" y2="601.3" stroke="#84849a"/>
<line x1="1018.5" x2="1018.5" y1="1182.5" y2="1183.7" stroke="#84849a"/>
<line x1="1024.5" x2="1024.5" y1="588.5" y2="589.7" stroke="#84849a"/>
<line x1="1024.5" x2="1024.5" y1="602.5" y2="601.3" stroke="#84849a"/>
<line x1="1024.5" x2="1024.5" y1="1182.5" y2="1183.7" stroke="#84849a"/>
<line x1="1029.5" x2="1029.5" y1="588.5" y2="589.7" stroke="#84849a"/>
<line x1="1029.5" x2="1029.5" y1="602.5" y2="601.3" stroke="#84849a"/>
<line x1="1029.5" x2="1029.5" y1="1182.5" y2="1183.7" stroke="#84849a"/>
<line x1="1035.5" x2="1035.5" y1="588.5" y2="589.7" stroke="#84849a"/>
<line x1="1035.5" x2="1035.5" y1="602.5" y2="601.3" stroke="#84849a"/>
<line x1="1035.5" x2="1035.5" y1="1182.5" y2="1183.7" stroke="#84849a"/>
<line x1="1041.5" x2="1041.5" y1="588.5" y2="589.7" stroke="#84849a"/>
<line x1="1041.5" x2="1041.5" y1="602.5" y2="601.3" stroke="#84849a"/>
<line x1="1041.5" x2="1041.5" y1="1182.5" y2="1183.7" stroke="#84849a"/>
<line x1="1047.5" x2="1047.5" y1="588.5" y2="591.0" stroke="#84849a"/>
<line x1="1047.5" x2="1047.5" y1="602.5" y2="600.0" stroke="#84849a"/>
<line x1="1047.5" x2="1047.5" y1="1182.5" y2="1185.0" stroke="#84849a"/>
<line x1="1053.5" x2="1053.5" y1="588.5" y2="589.7" stroke="#84849a"/>
<line x1="1053.5" x2="1053.5" y1="602.5" y2="601.3" stroke="#84849a"/>
<line x1="1053.5" x2="1053.5" y1="1182.5" y2="1183.7" stroke="#84849a"/>
<line x1="1059.5" x2="1059.5" y1="588.5" y2="589.7" stroke="#84849a"/>
<line x1="1059.5" x2="1059.5" y1="602.5" y2="601.3" stroke="#84849a"/>
<line x1="1059.5" x2="1059.5" y1="1182.5" y2="1183.7" stroke="#84849a"/>
<line x1="1065.5" x2="1065.5" y1="588.5" y2="589.7" stroke="#84849a"/>
<line x1="1065.5" x2="1065.5" y1="602.5" y2="601.3" stroke="#84849a"/>
<line x1="1065.5" x2="1065.5" y1="1182.5" y2="1183.7" stroke="#84849a"/>
<line x1="1071.5" x2="1071.5" y1="588.5" y2="589.7" stroke="#84849a"/>
<line x1="1071.5" x2="1071.5" y1="602.5" y2="601.3" stroke="#84849a"/>
<line x1="1071.5" x2="1071.5" y1="1182.5" y2="1183.7" stroke="#84849a"/>
<line x1="1077.5" x2="1077.5" y1="588.5" y2="589.7" stroke="#84849a"/>
<line x1="1077.5" x2="1077.5" y1="602.5" y2="601.3" stroke="#84849a"/>
<line x1="1077.5" x2="1077.5" y1="1182.5" y2="1183.7" stroke="#84849a"/>
<line x1="1083.5" x2="1083.5" y1="588.5" y2="589.7" stroke="#84849a"/>
<line x1="1083.5" x2="1083.5" y1="602.5" y2="601.3" stroke="#84849a"/>
<line x1="1083.5" x2="1083.5" y1="1182.5" y2="1183.7" stroke="#84849a"/>
<line x1="1089.5" x2="1089.5" y1="588.5" y2="591.0" stroke="#84849a"/>
<line x1="1089.5" x2="1089.5" y1="602.5" y2="600.0" stroke="#84849a"/>
<line x1="1089.5" x2="1089.5" y1="1182.5" y2="1185.0" stroke="#84849a"/>
<line x1="1095.5" x2="1095.5" y1="588.5" y2="589.7" stroke="#84849a"/>
<line x1="1095.5" x2="1095.5" y1="602.5" y2="601.3" stroke="#84849a"/>
<line x1="1095.5" x2="1095.5" y1="1182.5" y2="1183.7" stroke="#84849a"/>
<line x1="1101.5" x2="1101.5" y1="588.5" y2="589.7" stroke="#84849a"/>
<line x1="1101.5" x2="1101.5" y1="602.5" y2="601.3" stroke="#84849a"/>
<line x1="1101.5" x2="1101.5" y1="1182.5" y2="1183.7" stroke="#84849a"/>
<line x1="1107.5" x2="1107.5" y1="588.5" y2="589.7" stroke="#84849a"/>
<line x1="1107.5" x2="1107.5" y1="602.5" y2="601.3" stroke="#84849a"/>
<line x1="1107.5" x2="1107.5" y1="1182.5" y2="1183.7" stroke="#84849a"/>
<line x1="1113.5" x2="1113.5" y1="588.5" y2="589.7" stroke="#84849a"/>
<line x1="1113.5" x2="1113.5" y1="602.5" y2="601.3" stroke="#84849a"/>
<line x1="1113.5" x2="1113.5" y1="1182.5" y2="1183.7" stroke="#84849a"/>
<line x1="1119.5" x2="1119.5" y1="588.5" y2="589.7" stroke="#84849a"/>
<line x1="1119.5" x2="1119.5" y1="602.5" y2="601.3" stroke="#84849a"/>
<line x1="1119.5" x2="1119.5" y1="1182.5" y2="1183.7" stroke="#84849a"/>
<line x1="1125.5" x2="1125.5" y1="588.5" y2="589.7" stroke="#84849a"/>
<line x1="1125.5" x2="1125.5" y1="602.5" y2="601.3" stroke="#84849a"/>
<line x1="1125.5" x2="1125.5" y1="1182.5" y2="1183.7" stroke="#84849a"/>
<line x1="1131.5" x2="1131.5" y1="588.5" y2="591.0" stroke="#84849a"/>
<line x1="1131.5" x2="1131.5" y1="602.5" y2="600.0" stroke="#84849a"/>
<line x1="1131.5" x2="1131.5" y1="1182.5" y2="1185.0" stroke="#84849a"/>
<line x1="1136.5" x2="1136.5" y1="588.5" y2="589.7" stroke="#84849a"/>
<line x1="1136.5" x2="1136.5" y1="602.5" y2="601.3" stroke="#84849a"/>
<line x1="1136.5" x2="1136.5" y1="1182.5" y2="1183.7" stroke="#84849a"/>
<line x1="1142.5" x2="1142.5" y1="588.5" y2="589.7" stroke="#84849a"/>
<line x1="1142.5" x2="1142.5" y1="602.5" y2="601.3" stroke="#84849a"/>
<line x1="1142.5" x2="1142.5" y1="1182.5" y2="1183.7" stroke="#84849a"/>
<line x1="1148.5" x2="1148.5" y1="588.5" y2="589.7" stroke="#84849a"/>
<line x1="1148.5" x2="1148.5" y1="602.5" y2="601.3" stroke="#84849a"/>
<line x1="1148.5" x2="1148.5" y1="1182.5" y2="1183.7" stroke="#84849a"/>
<line x1="1154.5" x2="1154.5" y1="588.5" y2="589.7" stroke="#84849a"/>
<line x1="1154.5" x2="1154.5" y1="602.5" y2="601.3" stroke="#84849a"/>
<line x1="1154.5" x2="1154.5" y1="1182.5" y2="1183.7" stroke="#84849a"/>
<line x1="1160.5" x2="1160.5" y1="588.5" y2="589.7" stroke="#84849a"/>
<line x1="1160.5" x2="1160.5" y1="602.5" y2="601.3" stroke="#84849a"/>
<line x1="1160.5" x2="1160.5" y1="1182.5" y2="1183.7" stroke="#84849a"/>
<line x1="1166.5" x2="1166.5" y1="588.5" y2="589.7" stroke="#84849a"/>
<line x1="1166.5" x2="1166.5" y1="602.5" y2="601.3" stroke="#84849a"/>
<line x1="1166.5" x2="1166.5" y1="1182.5" y2="1183.7" stroke="#84849a"/>
<line x1="1172.5" x2="1172.5" y1="588.5" y2="591.0" stroke="#84849a"/>
<line x1="1172.5" x2="1172.5" y1="602.5" y2="600.0" stroke="#84849a"/>
<line x1="1172.5" x2="1172.5" y1="1182.5" y2="1185.0" stroke="#84849a"/>
<line x1="1178.5" x2="1178.5" y1="588.5" y2="589.7" stroke="#84849a"/>
<line x1="1178.5" x2="1178.5" y1="602.5" y2="601.3" stroke="#84849a"/>
<line x1="1178.5" x2="1178.5" y1="1182.5" y2="1183.7" stroke="#84849a"/>
<line x1="1184.5" x2="1184.5" y1="588.5" y2="589.7" stroke="#84849a"/>
<line x1="1184.5" x2="1184.5" y1="602.5" y2="601.3" stroke="#84849a"/>
<line x1="1184.5" x2="1184.5" y1="1182.5" y2="1183.7" stroke="#84849a"/>
<line x1="1190.5" x2="1190.5" y1="588.5" y2="589.7" stroke="#84849a"/>
<line x1="1190.5" x2="1190.5" y1="602.5" y2="601.3" stroke="#84849a"/>
<line x1="1190.5" x2="1190.5" y1="1182.5" y2="1183.7" stroke="#84849a"/>
<line x1="1196.5" x2="1196.5" y1="588.5" y2="589.7" stroke="#84849a"/>
<line x1="1196.5" x2="1196.5" y1="602.5" y2="601.3" stroke="#84849a"/>
<line x1="1196.5" x2="1196.5" y1="1182.5" y2="1183.7" stroke="#84849a"/>
<line x1="1202.5" x2="1202.5" y1="588.5" y2="589.7" stroke="#84849a"/>
<line x1="1202.5" x2="1202.5" y1="602.5" y2="601.3" stroke="#84849a"/>
<line x1="1202.5" x2="1202.5" y1="1182.5" y2="1183.7" stroke="#84849a"/>
</g>
<text x="1207.0" y="52" class="ax" textLength="11.2" lengthAdjust="spacing">90</text>
<line class="g" x1="1204" x2="1206" y1="49.5" y2="49.5" stroke="#84849a"/>
<text x="1207.0" y="78" class="ax" textLength="11.2" lengthAdjust="spacing">70</text>
<line class="g" x1="1204" x2="1206" y1="75.5" y2="75.5" stroke="#84849a"/>
<text x="1207.0" y="104" class="ax" textLength="11.2" lengthAdjust="spacing">50</text>
<line class="g" x1="1204" x2="1206" y1="101.5" y2="101.5" stroke="#84849a"/>
<text x="1207.0" y="130" class="ax" textLength="11.2" lengthAdjust="spacing">30</text>
<line class="g" x1="1204" x2="1206" y1="127.5" y2="127.5" stroke="#84849a"/>
<text x="1207.0" y="156" class="ax" textLength="11.2" lengthAdjust="spacing">10</text>
<line class="g" x1="1204" x2="1206" y1="153.5" y2="153.5" stroke="#84849a"/>
<line class="g" x1="1204" x2="1205" y1="166.5" y2="166.5" stroke="#84849a"/>
<line class="g" x1="1204" x2="1205" y1="160.5" y2="160.5" stroke="#84849a"/>
<line class="g" x1="1204" x2="1205" y1="147.5" y2="147.5" stroke="#84849a"/>
<line class="g" x1="1204" x2="1205" y1="140.5" y2="140.5" stroke="#84849a"/>
<line class="g" x1="1204" x2="1205" y1="134.5" y2="134.5" stroke="#84849a"/>
<line class="g" x1="1204" x2="1205" y1="121.5" y2="121.5" stroke="#84849a"/>
<line class="g" x1="1204" x2="1205" y1="114.5" y2="114.5" stroke="#84849a"/>
<line class="g" x1="1204" x2="1205" y1="108.5" y2="108.5" stroke="#84849a"/>
<line class="g" x1="1204" x2="1205" y1="95.5" y2="95.5" stroke="#84849a"/>
<line class="g" x1="1204" x2="1205" y1="88.5" y2="88.5" stroke="#84849a"/>
<line class="g" x1="1204" x2="1205" y1="82.5" y2="82.5" stroke="#84849a"/>
<line class="g" x1="1204" x2="1205" y1="69.5" y2="69.5" stroke="#84849a"/>
<line class="g" x1="1204" x2="1205" y1="63.5" y2="63.5" stroke="#84849a"/>
<line class="g" x1="1204" x2="1205" y1="56.5" y2="56.5" stroke="#84849a"/>
<line class="g" x1="1204" x2="1205" y1="43.5" y2="43.5" stroke="#84849a"/>
<line class="g" x1="1204" x2="1205" y1="37.5" y2="37.5" stroke="#84849a"/>
<text x="1207.0" y="580" class="ax" textLength="25.3" lengthAdjust="spacing">11.75</text>
<line class="g" x1="1204" x2="1206" y1="577.5" y2="577.5" stroke="#84849a"/>
<line class="g" x1="1204" x2="1205" y1="574.5" y2="574.5" stroke="#84849a"/>
<line class="g" x1="1204" x2="1205" y1="570.5" y2="570.5" stroke="#84849a"/>
<line class="g" x1="1204" x2="1205" y1="566.5" y2="566.5" stroke="#84849a"/>
<line class="g" x1="1204" x2="1205" y1="562.5" y2="562.5" stroke="#84849a"/>
<text x="1207.0" y="560" class="ax" textLength="25.3" lengthAdjust="spacing">12.00</text>
<line class="g" x1="1204" x2="1206" y1="557.5" y2="557.5" stroke="#84849a"/>
<line class="g" x1="1204" x2="1205" y1="553.5" y2="553.5" stroke="#84849a"/>
<line class="g" x1="1204" x2="1205" y1="549.5" y2="549.5" stroke="#84849a"/>
<line class="g" x1="1204" x2="1205" y1="545.5" y2="545.5" stroke="#84849a"/>
<line class="g" x1="1204" x2="1205" y1="541.5" y2="541.5" stroke="#84849a"/>
<text x="1207.0" y="539" class="ax" textLength="25.3" lengthAdjust="spacing">12.25</text>
<line class="g" x1="1204" x2="1206" y1="536.5" y2="536.5" stroke="#84849a"/>
<line class="g" x1="1204" x2="1205" y1="532.5" y2="532.5" stroke="#84849a"/>
<line class="g" x1="1204" x2="1205" y1="528.5" y2="528.5" stroke="#84849a"/>
<line class="g" x1="1204" x2="1205" y1="524.5" y2="524.5" stroke="#84849a"/>
<line class="g" x1="1204" x2="1205" y1="520.5" y2="520.5" stroke="#84849a"/>
<text x="1207.0" y="518" class="ax" textLength="25.3" lengthAdjust="spacing">12.50</text>
<line class="g" x1="1204" x2="1206" y1="515.5" y2="515.5" stroke="#84849a"/>
<line class="g" x1="1204" x2="1205" y1="512.5" y2="512.5" stroke="#84849a"/>
<line class="g" x1="1204" x2="1205" y1="508.5" y2="508.5" stroke="#84849a"/>
<line class="g" x1="1204" x2="1205" y1="504.5" y2="504.5" stroke="#84849a"/>
<line class="g" x1="1204" x2="1205" y1="500.5" y2="500.5" stroke="#84849a"/>
<text x="1207.0" y="499" class="ax" textLength="25.3" lengthAdjust="spacing">12.75</text>
<line class="g" x1="1204" x2="1206" y1="496.5" y2="496.5" stroke="#84849a"/>
<line class="g" x1="1204" x2="1205" y1="492.5" y2="492.5" stroke="#84849a"/>
<line class="g" x1="1204" x2="1205" y1="488.5" y2="488.5" stroke="#84849a"/>
<line class="g" x1="1204" x2="1205" y1="484.5" y2="484.5" stroke="#84849a"/>
<line class="g" x1="1204" x2="1205" y1="480.5" y2="480.5" stroke="#84849a"/>
<text x="1207.0" y="479" class="ax" textLength="25.3" lengthAdjust="spacing">13.00</text>
<line class="g" x1="1204" x2="1206" y1="476.5" y2="476.5" stroke="#84849a"/>
<line class="g" x1="1204" x2="1205" y1="472.5" y2="472.5" stroke="#84849a"/>
<line class="g" x1="1204" x2="1205" y1="468.5" y2="468.5" stroke="#84849a"/>
<line class="g" x1="1204" x2="1205" y1="465.5" y2="465.5" stroke="#84849a"/>
<line class="g" x1="1204" x2="1205" y1="461.5" y2="461.5" stroke="#84849a"/>
<text x="1207.0" y="460" class="ax" textLength="25.3" lengthAdjust="spacing">13.25</text>
<line class="g" x1="1204" x2="1206" y1="457.5" y2="457.5" stroke="#84849a"/>
<line class="g" x1="1204" x2="1205" y1="453.5" y2="453.5" stroke="#84849a"/>
<line class="g" x1="1204" x2="1205" y1="449.5" y2="449.5" stroke="#84849a"/>
<line class="g" x1="1204" x2="1205" y1="445.5" y2="445.5" stroke="#84849a"/>
<line class="g" x1="1204" x2="1205" y1="442.5" y2="442.5" stroke="#84849a"/>
<text x="1207.0" y="440" class="ax" textLength="25.3" lengthAdjust="spacing">13.50</text>
<line class="g" x1="1204" x2="1206" y1="437.5" y2="437.5" stroke="#84849a"/>
<line class="g" x1="1204" x2="1205" y1="434.5" y2="434.5" stroke="#84849a"/>
<line class="g" x1="1204" x2="1205" y1="430.5" y2="430.5" stroke="#84849a"/>
<line class="g" x1="1204" x2="1205" y1="427.5" y2="427.5" stroke="#84849a"/>
<line class="g" x1="1204" x2="1205" y1="423.5" y2="423.5" stroke="#84849a"/>
<text x="1207.0" y="422" class="ax" textLength="25.3" lengthAdjust="spacing">13.75</text>
<line class="g" x1="1204" x2="1206" y1="419.5" y2="419.5" stroke="#84849a"/>
<line class="g" x1="1204" x2="1205" y1="416.5" y2="416.5" stroke="#84849a"/>
<line class="g" x1="1204" x2="1205" y1="412.5" y2="412.5" stroke="#84849a"/>
<line class="g" x1="1204" x2="1205" y1="408.5" y2="408.5" stroke="#84849a"/>
<line class="g" x1="1204" x2="1205" y1="405.5" y2="405.5" stroke="#84849a"/>
<text x="1207.0" y="404" class="ax" textLength="25.3" lengthAdjust="spacing">14.00</text>
<line class="g" x1="1204" x2="1206" y1="401.5" y2="401.5" stroke="#84849a"/>
<line class="g" x1="1204" x2="1205" y1="397.5" y2="397.5" stroke="#84849a"/>
<line class="g" x1="1204" x2="1205" y1="394.5" y2="394.5" stroke="#84849a"/>
<line class="g" x1="1204" x2="1205" y1="390.5" y2="390.5" stroke="#84849a"/>
<line class="g" x1="1204" x2="1205" y1="387.5" y2="387.5" stroke="#84849a"/>
<text x="1207.0" y="386" class="ax" textLength="25.3" lengthAdjust="spacing">14.25</text>
<line class="g" x1="1204" x2="1206" y1="383.5" y2="383.5" stroke="#84849a"/>
<line class="g" x1="1204" x2="1205" y1="380.5" y2="380.5" stroke="#84849a"/>
<line class="g" x1="1204" x2="1205" y1="376.5" y2="376.5" stroke="#84849a"/>
<line class="g" x1="1204" x2="1205" y1="373.5" y2="373.5" stroke="#84849a"/>
<line class="g" x1="1204" x2="1205" y1="369.5" y2="369.5" stroke="#84849a"/>
<text x="1207.0" y="368" class="ax" textLength="25.3" lengthAdjust="spacing">14.50</text>
<line class="g" x1="1204" x2="1206" y1="365.5" y2="365.5" stroke="#84849a"/>
<line class="g" x1="1204" x2="1205" y1="362.5" y2="362.5" stroke="#84849a"/>
<line class="g" x1="1204" x2="1205" y1="359.5" y2="359.5" stroke="#84849a"/>
<line class="g" x1="1204" x2="1205" y1="355.5" y2="355.5" stroke="#84849a"/>
<line class="g" x1="1204" x2="1205" y1="352.5" y2="352.5" stroke="#84849a"/>
<text x="1207.0" y="351" class="ax" textLength="25.3" lengthAdjust="spacing">14.75</text>
<line class="g" x1="1204" x2="1206" y1="348.5" y2="348.5" stroke="#84849a"/>
<line class="g" x1="1204" x2="1205" y1="345.5" y2="345.5" stroke="#84849a"/>
<line class="g" x1="1204" x2="1205" y1="341.5" y2="341.5" stroke="#84849a"/>
<line class="g" x1="1204" x2="1205" y1="338.5" y2="338.5" stroke="#84849a"/>
<line class="g" x1="1204" x2="1205" y1="335.5" y2="335.5" stroke="#84849a"/>
<text x="1207.0" y="334" class="ax" textLength="25.3" lengthAdjust="spacing">15.00</text>
<line class="g" x1="1204" x2="1206" y1="331.5" y2="331.5" stroke="#84849a"/>
<line class="g" x1="1204" x2="1205" y1="328.5" y2="328.5" stroke="#84849a"/>
<line class="g" x1="1204" x2="1205" y1="324.5" y2="324.5" stroke="#84849a"/>
<line class="g" x1="1204" x2="1205" y1="321.5" y2="321.5" stroke="#84849a"/>
<line class="g" x1="1204" x2="1205" y1="318.5" y2="318.5" stroke="#84849a"/>
<text x="1207.0" y="317" class="ax" textLength="25.3" lengthAdjust="spacing">15.25</text>
<line class="g" x1="1204" x2="1206" y1="314.5" y2="314.5" stroke="#84849a"/>
<line class="g" x1="1204" x2="1205" y1="311.5" y2="311.5" stroke="#84849a"/>
<line class="g" x1="1204" x2="1205" y1="308.5" y2="308.5" stroke="#84849a"/>
<line class="g" x1="1204" x2="1205" y1="304.5" y2="304.5" stroke="#84849a"/>
<line class="g" x1="1204" x2="1205" y1="301.5" y2="301.5" stroke="#84849a"/>
<text x="1207.0" y="300" class="ax" textLength="25.3" lengthAdjust="spacing">15.50</text>
<line class="g" x1="1204" x2="1206" y1="297.5" y2="297.5" stroke="#84849a"/>
<line class="g" x1="1204" x2="1205" y1="295.5" y2="295.5" stroke="#84849a"/>
<line class="g" x1="1204" x2="1205" y1="291.5" y2="291.5" stroke="#84849a"/>
<line class="g" x1="1204" x2="1205" y1="288.5" y2="288.5" stroke="#84849a"/>
<line class="g" x1="1204" x2="1205" y1="285.5" y2="285.5" stroke="#84849a"/>
<text x="1207.0" y="284" class="ax" textLength="25.3" lengthAdjust="spacing">15.75</text>
<line class="g" x1="1204" x2="1206" y1="281.5" y2="281.5" stroke="#84849a"/>
<line class="g" x1="1204" x2="1205" y1="278.5" y2="278.5" stroke="#84849a"/>
<line class="g" x1="1204" x2="1205" y1="275.5" y2="275.5" stroke="#84849a"/>
<line class="g" x1="1204" x2="1205" y1="272.5" y2="272.5" stroke="#84849a"/>
<line class="g" x1="1204" x2="1205" y1="269.5" y2="269.5" stroke="#84849a"/>
<text x="1207.0" y="268" class="ax" textLength="25.3" lengthAdjust="spacing">16.00</text>
<line class="g" x1="1204" x2="1206" y1="265.5" y2="265.5" stroke="#84849a"/>
<line class="g" x1="1204" x2="1205" y1="263.5" y2="263.5" stroke="#84849a"/>
<line class="g" x1="1204" x2="1205" y1="259.5" y2="259.5" stroke="#84849a"/>
<line class="g" x1="1204" x2="1205" y1="256.5" y2="256.5" stroke="#84849a"/>
<line class="g" x1="1204" x2="1205" y1="253.5" y2="253.5" stroke="#84849a"/>
<text x="1207.0" y="252" class="ax" textLength="25.3" lengthAdjust="spacing">16.25</text>
<line class="g" x1="1204" x2="1206" y1="249.5" y2="249.5" stroke="#84849a"/>
<line class="g" x1="1204" x2="1205" y1="247.5" y2="247.5" stroke="#84849a"/>
<line class="g" x1="1204" x2="1205" y1="244.5" y2="244.5" stroke="#84849a"/>
<line class="g" x1="1204" x2="1205" y1="241.5" y2="241.5" stroke="#84849a"/>
<line class="g" x1="1204" x2="1205" y1="238.5" y2="238.5" stroke="#84849a"/>
<text x="1207.0" y="237" class="ax" textLength="25.3" lengthAdjust="spacing">16.50</text>
<line class="g" x1="1204" x2="1206" y1="234.5" y2="234.5" stroke="#84849a"/>
<line class="g" x1="1204" x2="1205" y1="231.5" y2="231.5" stroke="#84849a"/>
<line class="g" x1="1204" x2="1205" y1="228.5" y2="228.5" stroke="#84849a"/>
<line class="g" x1="1204" x2="1205" y1="225.5" y2="225.5" stroke="#84849a"/>
<line class="g" x1="1204" x2="1205" y1="222.5" y2="222.5" stroke="#84849a"/>
<text x="1207.0" y="222" class="ax" textLength="25.3" lengthAdjust="spacing">16.75</text>
<line class="g" x1="1204" x2="1206" y1="219.5" y2="219.5" stroke="#84849a"/>
<line class="g" x1="1204" x2="1205" y1="216.5" y2="216.5" stroke="#84849a"/>
<line class="g" x1="1204" x2="1205" y1="213.5" y2="213.5" stroke="#84849a"/>
<line class="g" x1="1204" x2="1205" y1="210.5" y2="210.5" stroke="#84849a"/>
<line class="g" x1="1204" x2="1205" y1="207.5" y2="207.5" stroke="#84849a"/>
<text x="1207.0" y="207" class="ax" textLength="25.3" lengthAdjust="spacing">17.00</text>
<line class="g" x1="1204" x2="1206" y1="204.5" y2="204.5" stroke="#84849a"/>
<line class="g" x1="1204" x2="1205" y1="201.5" y2="201.5" stroke="#84849a"/>
<line class="g" x1="1204" x2="1205" y1="198.5" y2="198.5" stroke="#84849a"/>
<line class="g" x1="1204" x2="1205" y1="195.5" y2="195.5" stroke="#84849a"/>
<line class="g" x1="1204" x2="1205" y1="192.5" y2="192.5" stroke="#84849a"/>
<text x="1207.0" y="192" class="ax" textLength="25.3" lengthAdjust="spacing">17.25</text>
<line class="g" x1="1204" x2="1206" y1="189.5" y2="189.5" stroke="#84849a"/>
<text x="1209.2" y="620" class="ax" textLength="14.0" lengthAdjust="spacing">0.8</text>
<line class="g" x1="1204" x2="1206" y1="617.5" y2="617.5" stroke="#84849a"/>
<text x="1209.2" y="643" class="ax" textLength="14.0" lengthAdjust="spacing">0.6</text>
<line class="g" x1="1204" x2="1206" y1="640.5" y2="640.5" stroke="#84849a"/>
<text x="1209.2" y="666" class="ax" textLength="14.0" lengthAdjust="spacing">0.4</text>
<line class="g" x1="1204" x2="1206" y1="663.5" y2="663.5" stroke="#84849a"/>
<text x="1209.2" y="689" class="ax" textLength="14.0" lengthAdjust="spacing">0.2</text>
<line class="g" x1="1204" x2="1206" y1="686.5" y2="686.5" stroke="#84849a"/>
<text x="1209.2" y="712" class="ax" textLength="14.0" lengthAdjust="spacing">0.0</text>
<line class="g" x1="1204" x2="1206" y1="709.5" y2="709.5" stroke="#84849a"/>
<text x="1205.9" y="735" class="ax" textLength="17.3" lengthAdjust="spacing">-0.2</text>
<line class="g" x1="1204" x2="1206" y1="732.5" y2="732.5" stroke="#84849a"/>
<line class="g" x1="1204" x2="1205" y1="738.5" y2="738.5" stroke="#84849a"/>
<line class="g" x1="1204" x2="1205" y1="726.5" y2="726.5" stroke="#84849a"/>
<line class="g" x1="1204" x2="1205" y1="720.5" y2="720.5" stroke="#84849a"/>
<line class="g" x1="1204" x2="1205" y1="715.5" y2="715.5" stroke="#84849a"/>
<line class="g" x1="1204" x2="1205" y1="703.5" y2="703.5" stroke="#84849a"/>
<line class="g" x1="1204" x2="1205" y1="698.5" y2="698.5" stroke="#84849a"/>
<line class="g" x1="1204" x2="1205" y1="692.5" y2="692.5" stroke="#84849a"/>
<line class="g" x1="1204" x2="1205" y1="680.5" y2="680.5" stroke="#84849a"/>
<line class="g" x1="1204" x2="1205" y1="674.5" y2="674.5" stroke="#84849a"/>
<line class="g" x1="1204" x2="1205" y1="669.5" y2="669.5" stroke="#84849a"/>
<line class="g" x1="1204" x2="1205" y1="657.5" y2="657.5" stroke="#84849a"/>
<line class="g" x1="1204" x2="1205" y1="652.5" y2="652.5" stroke="#84849a"/>
<line class="g" x1="1204" x2="1205" y1="646.5" y2="646.5" stroke="#84849a"/>
<line class="g" x1="1204" x2="1205" y1="634.5" y2="634.5" stroke="#84849a"/>
<line class="g" x1="1204" x2="1205" y1="628.5" y2="628.5" stroke="#84849a"/>
<line class="g" x1="1204" x2="1205" y1="623.5" y2="623.5" stroke="#84849a"/>
<line class="g" x1="1204" x2="1205" y1="611.5" y2="611.5" stroke="#84849a"/>
<line class="g" x1="1204" x2="1205" y1="606.5" y2="606.5" stroke="#84849a"/>
<text x="1209.2" y="752" class="ax" textLength="19.6" lengthAdjust="spacing">0.20</text>
<line class="g" x1="1204" x2="1206" y1="749.5" y2="749.5" stroke="#84849a"/>
<text x="1209.2" y="766" class="ax" textLength="19.6" lengthAdjust="spacing">0.15</text>
<line class="g" x1="1204" x2="1206" y1="763.5" y2="763.5" stroke="#84849a"/>
<text x="1209.2" y="781" class="ax" textLength="19.6" lengthAdjust="spacing">0.10</text>
<line class="g" x1="1204" x2="1206" y1="778.5" y2="778.5" stroke="#84849a"/>
<text x="1209.2" y="795" class="ax" textLength="19.6" lengthAdjust="spacing">0.05</text>
<line class="g" x1="1204" x2="1206" y1="792.5" y2="792.5" stroke="#84849a"/>
<text x="1209.2" y="810" class="ax" textLength="19.6" lengthAdjust="spacing">0.00</text>
<line class="g" x1="1204" x2="1206" y1="807.5" y2="807.5" stroke="#84849a"/>
<text x="1205.9" y="824" class="ax" textLength="22.9" lengthAdjust="spacing">-0.05</text>
<line class="g" x1="1204" x2="1206" y1="821.5" y2="821.5" stroke="#84849a"/>
<text x="1205.9" y="838" class="ax" textLength="22.9" lengthAdjust="spacing">-0.10</text>
<line class="g" x1="1204" x2="1206" y1="835.5" y2="835.5" stroke="#84849a"/>
<text x="1205.9" y="853" class="ax" textLength="22.9" lengthAdjust="spacing">-0.15</text>
<line class="g" x1="1204" x2="1206" y1="850.5" y2="850.5" stroke="#84849a"/>
<text x="1205.9" y="867" class="ax" textLength="22.9" lengthAdjust="spacing">-0.20</text>
<line class="g" x1="1204" x2="1206" y1="864.5" y2="864.5" stroke="#84849a"/>
<text x="1205.9" y="882" class="ax" textLength="22.9" lengthAdjust="spacing">-0.25</text>
<line class="g" x1="1204" x2="1206" y1="879.5" y2="879.5" stroke="#84849a"/>
<text x="1207.0" y="929" class="ax" textLength="11.2" lengthAdjust="spacing">80</text>
<line class="g" x1="1204" x2="1206" y1="926.5" y2="926.5" stroke="#84849a"/>
<text x="1207.0" y="968" class="ax" textLength="11.2" lengthAdjust="spacing">50</text>
<line class="g" x1="1204" x2="1206" y1="965.5" y2="965.5" stroke="#84849a"/>
<text x="1207.0" y="1007" class="ax" textLength="11.2" lengthAdjust="spacing">20</text>
<line class="g" x1="1204" x2="1206" y1="1004.5" y2="1004.5" stroke="#84849a"/>
<line class="g" x1="1204" x2="1205" y1="1030.5" y2="1030.5" stroke="#84849a"/>
<line class="g" x1="1204" x2="1205" y1="1024.5" y2="1024.5" stroke="#84849a"/>
<line class="g" x1="1204" x2="1205" y1="1017.5" y2="1017.5" stroke="#84849a"/>
<line class="g" x1="1204" x2="1205" y1="1011.5" y2="1011.5" stroke="#84849a"/>
<line class="g" x1="1204" x2="1205" y1="998.5" y2="998.5" stroke="#84849a"/>
<line class="g" x1="1204" x2="1205" y1="991.5" y2="991.5" stroke="#84849a"/>
<line class="g" x1="1204" x2="1205" y1="985.5" y2="985.5" stroke="#84849a"/>
<line class="g" x1="1204" x2="1205" y1="978.5" y2="978.5" stroke="#84849a"/>
<line class="g" x1="1204" x2="1205" y1="972.5" y2="972.5" stroke="#84849a"/>
<line class="g" x1="1204" x2="1205" y1="959.5" y2="959.5" stroke="#84849a"/>
<line class="g" x1="1204" x2="1205" y1="952.5" y2="952.5" stroke="#84849a"/>
<line class="g" x1="1204" x2="1205" y1="946.5" y2="946.5" stroke="#84849a"/>
<line class="g" x1="1204" x2="1205" y1="939.5" y2="939.5" stroke="#84849a"/>
<line class="g" x1="1204" x2="1205" y1="933.5" y2="933.5" stroke="#84849a"/>
<line class="g" x1="1204" x2="1205" y1="920.5" y2="920.5" stroke="#84849a"/>
<line class="g" x1="1204" x2="1205" y1="913.5" y2="913.5" stroke="#84849a"/>
<line class="g" x1="1204" x2="1205" y1="907.5" y2="907.5" stroke="#84849a"/>
<line class="g" x1="1204" x2="1205" y1="900.5" y2="900.5" stroke="#84849a"/>
<text x="1207.0" y="1050" class="ax" textLength="11.2" lengthAdjust="spacing">60</text>
<line class="g" x1="1204" x2="1206" y1="1047.5" y2="1047.5" stroke="#84849a"/>
<text x="1207.0" y="1073" class="ax" textLength="11.2" lengthAdjust="spacing">50</text>
<line class="g" x1="1204" x2="1206" y1="1070.5" y2="1070.5" stroke="#84849a"/>
<text x="1207.0" y="1096" class="ax" textLength="11.2" lengthAdjust="spacing">40</text>
<line class="g" x1="1204" x2="1206" y1="1093.5" y2="1093.5" stroke="#84849a"/>
<text x="1207.0" y="1119" class="ax" textLength="11.2" lengthAdjust="spacing">30</text>
<line class="g" x1="1204" x2="1206" y1="1116.5" y2="1116.5" stroke="#84849a"/>
<text x="1207.0" y="1142" class="ax" textLength="11.2" lengthAdjust="spacing">20</text>
<line class="g" x1="1204" x2="1206" y1="1139.5" y2="1139.5" stroke="#84849a"/>
<text x="1207.0" y="1165" class="ax" textLength="11.2" lengthAdjust="spacing">10</text>
<line class="g" x1="1204" x2="1206" y1="1162.5" y2="1162.5" stroke="#84849a"/>
<line class="g" x1="1204" x2="1205" y1="1181.5" y2="1181.5" stroke="#84849a"/>
<line class="g" x1="1204" x2="1205" y1="1176.5" y2="1176.5" stroke="#84849a"/>
<line class="g" x1="1204" x2="1205" y1="1172.5" y2="1172.5" stroke="#84849a"/>
<line class="g" x1="1204" x2="1205" y1="1167.5" y2="1167.5" stroke="#84849a"/>
<line class="g" x1="1204" x2="1205" y1="1158.5" y2="1158.5" stroke="#84849a"/>
<line class="g" x1="1204" x2="1205" y1="1153.5" y2="1153.5" stroke="#84849a"/>
<line class="g" x1="1204" x2="1205" y1="1149.5" y2="1149.5" stroke="#84849a"/>
<line class="g" x1="1204" x2="1205" y1="1144.5" y2="1144.5" stroke="#84849a"/>
<line class="g" x1="1204" x2="1205" y1="1135.5" y2="1135.5" stroke="#84849a"/>
<line class="g" x1="1204" x2="1205" y1="1130.5" y2="1130.5" stroke="#84849a"/>
<line class="g" x1="1204" x2="1205" y1="1126.5" y2="1126.5" stroke="#84849a"/>
<line class="g" x1="1204" x2="1205" y1="1121.5" y2="1121.5" stroke="#84849a"/>
<line class="g" x1="1204" x2="1205" y1="1112.5" y2="1112.5" stroke="#84849a"/>
<line class="g" x1="1204" x2="1205" y1="1107.5" y2="1107.5" stroke="#84849a"/>
<line class="g" x1="1204" x2="1205" y1="1103.5" y2="1103.5" stroke="#84849a"/>
<line class="g" x1="1204" x2="1205" y1="1098.5" y2="1098.5" stroke="#84849a"/>
<line class="g" x1="1204" x2="1205" y1="1089.5" y2="1089.5" stroke="#84849a"/>
<line class="g" x1="1204" x2="1205" y1="1084.5" y2="1084.5" stroke="#84849a"/>
<line class="g" x1="1204" x2="1205" y1="1080.5" y2="1080.5" stroke="#84849a"/>
<line class="g" x1="1204" x2="1205" y1="1075.5" y2="1075.5" stroke="#84849a"/>
<line class="g" x1="1204" x2="1205" y1="1066.5" y2="1066.5" stroke="#84849a"/>
<line class="g" x1="1204" x2="1205" y1="1061.5" y2="1061.5" stroke="#84849a"/>
<line class="g" x1="1204" x2="1205" y1="1057.5" y2="1057.5" stroke="#84849a"/>
<line class="g" x1="1204" x2="1205" y1="1052.5" y2="1052.5" stroke="#84849a"/>
<line class="g" x1="1204" x2="1205" y1="1043.5" y2="1043.5" stroke="#84849a"/>
<text x="13.5" y="599" class="ax" textLength="11.2" lengthAdjust="spacing">20</text>
<text x="13.5" y="1194" class="ax" textLength="11.2" lengthAdjust="spacing">20</text>
<text x="55.2" y="599" class="ax" textLength="11.2" lengthAdjust="spacing">21</text>
<text x="55.2" y="1194" class="ax" textLength="11.2" lengthAdjust="spacing">21</text>
<text x="96.8" y="599" class="ax" textLength="11.2" lengthAdjust="spacing">24</text>
<text x="96.8" y="1194" class="ax" textLength="11.2" lengthAdjust="spacing">24</text>
<text x="138.4" y="599" class="ax" textLength="11.2" lengthAdjust="spacing">25</text>
<text x="138.4" y="1194" class="ax" textLength="11.2" lengthAdjust="spacing">25</text>
<text x="180.0" y="599" class="ax" textLength="11.2" lengthAdjust="spacing">26</text>
<text x="180.0" y="1194" class="ax" textLength="11.2" lengthAdjust="spacing">26</text>
<text x="221.6" y="599" class="ax" textLength="11.2" lengthAdjust="spacing">27</text>
<text x="221.6" y="1194" class="ax" textLength="11.2" lengthAdjust="spacing">27</text>
<text x="263.3" y="599" class="ax" textLength="11.2" lengthAdjust="spacing">28</text>
<text x="263.3" y="1194" class="ax" textLength="11.2" lengthAdjust="spacing">28</text>
<text x="302.9" y="599" class="ax" style="font-weight:bold;font-size:11px;stroke-width:0" textLength="15.2" lengthAdjust="spacing">Jul</text>
<text x="302.9" y="1194" class="ax" style="font-weight:bold;font-size:11px;stroke-width:0" textLength="15.2" lengthAdjust="spacing">Jul</text>
<text x="349.3" y="599" class="ax" textLength="5.6" lengthAdjust="spacing">2</text>
<text x="349.3" y="1194" class="ax" textLength="5.6" lengthAdjust="spacing">2</text>
<text x="390.9" y="599" class="ax" textLength="5.6" lengthAdjust="spacing">3</text>
<text x="390.9" y="1194" class="ax" textLength="5.6" lengthAdjust="spacing">3</text>
<text x="420.7" y="599" class="ax" textLength="5.6" lengthAdjust="spacing">5</text>
<text x="420.7" y="1194" class="ax" textLength="5.6" lengthAdjust="spacing">5</text>
<text x="462.3" y="599" class="ax" textLength="5.6" lengthAdjust="spacing">8</text>
<text x="462.3" y="1194" class="ax" textLength="5.6" lengthAdjust="spacing">8</text>
<text x="503.9" y="599" class="ax" textLength="5.6" lengthAdjust="spacing">9</text>
<text x="503.9" y="1194" class="ax" textLength="5.6" lengthAdjust="spacing">9</text>
<text x="542.7" y="599" class="ax" textLength="11.2" lengthAdjust="spacing">10</text>
<text x="542.7" y="1194" class="ax" textLength="11.2" lengthAdjust="spacing">10</text>
<text x="584.3" y="599" class="ax" textLength="11.2" lengthAdjust="spacing">11</text>
<text x="584.3" y="1194" class="ax" textLength="11.2" lengthAdjust="spacing">11</text>
<text x="626.0" y="599" class="ax" textLength="11.2" lengthAdjust="spacing">12</text>
<text x="626.0" y="1194" class="ax" textLength="11.2" lengthAdjust="spacing">12</text>
<text x="667.6" y="599" class="ax" textLength="11.2" lengthAdjust="spacing">15</text>
<text x="667.6" y="1194" class="ax" textLength="11.2" lengthAdjust="spacing">15</text>
<text x="709.2" y="599" class="ax" textLength="11.2" lengthAdjust="spacing">16</text>
<text x="709.2" y="1194" class="ax" textLength="11.2" lengthAdjust="spacing">16</text>
<text x="750.8" y="599" class="ax" textLength="11.2" lengthAdjust="spacing">17</text>
<text x="750.8" y="1194" class="ax" textLength="11.2" lengthAdjust="spacing">17</text>
<text x="792.5" y="599" class="ax" textLength="11.2" lengthAdjust="spacing">18</text>
<text x="792.5" y="1194" class="ax" textLength="11.2" lengthAdjust="spacing">18</text>
<text x="834.1" y="599" class="ax" textLength="11.2" lengthAdjust="spacing">19</text>
<text x="834.1" y="1194" class="ax" textLength="11.2" lengthAdjust="spacing">19</text>
<text x="875.7" y="599" class="ax" textLength="11.2" lengthAdjust="spacing">22</text>
<text x="875.7" y="1194" class="ax" textLength="11.2" lengthAdjust="spacing">22</text>
<text x="917.3" y="599" class="ax" textLength="11.2" lengthAdjust="spacing">23</text>
<text x="917.3" y="1194" class="ax" textLength="11.2" lengthAdjust="spacing">23</text>
<text x="958.9" y="599" class="ax" textLength="11.2" lengthAdjust="spacing">24</text>
<text x="958.9" y="1194" class="ax" textLength="11.2" lengthAdjust="spacing">24</text>
<text x="1000.6" y="599" class="ax" textLength="11.2" lengthAdjust="spacing">25</text>
<text x="1000.6" y="1194" class="ax" textLength="11.2" lengthAdjust="spacing">25</text>
<text x="1042.2" y="599" class="ax" textLength="11.2" lengthAdjust="spacing">26</text>
<text x="1042.2" y="1194" class="ax" textLength="11.2" lengthAdjust="spacing">26</text>
<text x="1083.8" y="599" class="ax" textLength="11.2" lengthAdjust="spacing">29</text>
<text x="1083.8" y="1194" class="ax" textLength="11.2" lengthAdjust="spacing">29</text>
<text x="1125.4" y="599" class="ax" textLength="11.2" lengthAdjust="spacing">30</text>
<text x="1125.4" y="1194" class="ax" textLength="11.2" lengthAdjust="spacing">30</text>
<text x="1167.1" y="599" class="ax" textLength="11.2" lengthAdjust="spacing">31</text>
<text x="1167.1" y="1194" class="ax" textLength="11.2" lengthAdjust="spacing">31</text>
<rect class="g" x="19" y="1198" width="1" height="2" fill="#e2e2e6"/>
<rect class="g" x="60" y="1198" width="1" height="2" fill="#e2e2e6"/>
<rect class="g" x="102" y="1198" width="1" height="2" fill="#e2e2e6"/>
<rect class="g" x="144" y="1198" width="1" height="2" fill="#e2e2e6"/>
<rect class="g" x="185" y="1198" width="1" height="2" fill="#e2e2e6"/>
<rect class="g" x="227" y="1198" width="1" height="2" fill="#e2e2e6"/>
<rect class="g" x="268" y="1198" width="1" height="2" fill="#e2e2e6"/>
<rect class="g" x="310" y="1198" width="1" height="2" fill="#e2e2e6"/>
<rect class="g" x="352" y="1198" width="1" height="2" fill="#e2e2e6"/>
<rect class="g" x="393" y="1198" width="1" height="2" fill="#e2e2e6"/>
<rect class="g" x="423" y="1198" width="1" height="2" fill="#e2e2e6"/>
<rect class="g" x="465" y="1198" width="1" height="2" fill="#e2e2e6"/>
<rect class="g" x="506" y="1198" width="1" height="2" fill="#e2e2e6"/>
<rect class="g" x="548" y="1198" width="1" height="2" fill="#e2e2e6"/>
<rect class="g" x="589" y="1198" width="1" height="2" fill="#e2e2e6"/>
<rect class="g" x="631" y="1198" width="1" height="2" fill="#e2e2e6"/>
<rect class="g" x="673" y="1198" width="1" height="2" fill="#e2e2e6"/>
<rect class="g" x="714" y="1198" width="1" height="2" fill="#e2e2e6"/>
<rect class="g" x="756" y="1198" width="1" height="2" fill="#e2e2e6"/>
<rect class="g" x="798" y="1198" width="1" height="2" fill="#e2e2e6"/>
<rect class="g" x="839" y="1198" width="1" height="2" fill="#e2e2e6"/>
<rect class="g" x="881" y="1198" width="1" height="2" fill="#e2e2e6"/>
<rect class="g" x="922" y="1198" width="1" height="2" fill="#e2e2e6"/>
<rect class="g" x="964" y="1198" width="1" height="2" fill="#e2e2e6"/>
<rect class="g" x="1006" y="1198" width="1" height="2" fill="#e2e2e6"/>
<rect class="g" x="1047" y="1198" width="1" height="2" fill="#e2e2e6"/>
<rect class="g" x="1089" y="1198" width="1" height="2" fill="#e2e2e6"/>
<rect class="g" x="1131" y="1198" width="1" height="2" fill="#e2e2e6"/>
<rect class="g" x="1172" y="1198" width="1" height="2" fill="#e2e2e6"/>
<path d="M1201.0,109.5l3.5,-5.0h28.9v10.0h-28.9z" fill="#fff" stroke="#000" stroke-width="1"/>
<text x="1206.3" y="113.0" class="ax" style="fill:#000" textLength="24.5" lengthAdjust="spacing">43.09</text>
<path d="M1201.0,198.5l3.5,-5.0h28.9v10.0h-28.9z" fill="#fff" stroke="#9aa2ac" stroke-width="1"/>
<text x="1206.3" y="202.0" class="ax" style="fill:#000" textLength="24.5" lengthAdjust="spacing">17.07</text>
<path d="M1201.0,281.5l3.5,-5.0h28.9v10.0h-28.9z" fill="#fff" stroke="#9aa2ac" stroke-width="1"/>
<text x="1206.3" y="285.0" class="ax" style="fill:#000" textLength="24.5" lengthAdjust="spacing">15.73</text>
<path d="M1201.0,313.5l3.5,-5.0h28.9v10.0h-28.9z" fill="#fff" stroke="#d41d3c" stroke-width="1"/>
<text x="1206.3" y="317.0" class="ax" style="fill:#000" textLength="24.5" lengthAdjust="spacing">15.25</text>
<path d="M1201.0,376.5l3.5,-5.0h28.9v10.0h-28.9z" fill="#fff" stroke="#0d6b16" stroke-width="1"/>
<text x="1206.3" y="380.0" class="ax" style="fill:#000" textLength="24.5" lengthAdjust="spacing">14.33</text>
<path d="M1201.0,372.5l3.5,-5.0h28.9v10.0h-28.9z" fill="#fff" stroke="#9aa2ac" stroke-width="1"/>
<text x="1206.3" y="376.0" class="ax" style="fill:#000" textLength="24.5" lengthAdjust="spacing">14.39</text>
<path d="M1201.0,349.5l3.5,-5.0h30.4v10.0h-30.4z" fill="#fff" stroke="#000" stroke-width="1"/>
<text x="1206.3" y="353.0" class="ax" style="font-weight:bold;fill:#000" textLength="26.0" lengthAdjust="spacing">14.73</text>
<path d="M1201.0,469.5l3.5,-5.0h28.9v10.0h-28.9z" fill="#fff" stroke="#2a2a72" stroke-width="1"/>
<text x="1206.3" y="473.0" class="ax" style="fill:#000" textLength="24.5" lengthAdjust="spacing">13.07</text>
<path d="M1201.0,669.5l3.5,-5.0h28.9v10.0h-28.9z" fill="#fff" stroke="#f01414" stroke-width="1"/>
<text x="1206.3" y="673.0" class="ax" style="fill:#000" textLength="24.5" lengthAdjust="spacing">0.335</text>
<path d="M1201.0,700.5l3.5,-5.0h28.9v10.0h-28.9z" fill="#fff" stroke="#000" stroke-width="1"/>
<text x="1206.3" y="704.0" class="ax" style="fill:#000" textLength="24.5" lengthAdjust="spacing">0.073</text>
<path d="M1201.0,738.5l3.5,-5.0h32.1v10.0h-32.1z" fill="#fff" stroke="#3c78b4" stroke-width="1"/>
<text x="1206.3" y="742.0" class="ax" style="fill:#000" textLength="27.7" lengthAdjust="spacing">-0.262</text>
<path d="M1201.0,882.5l3.5,-5.0h32.1v10.0h-32.1z" fill="#fff" stroke="#3c78b4" stroke-width="1"/>
<text x="1206.3" y="886.0" class="ax" style="fill:#000" textLength="27.7" lengthAdjust="spacing">-0.262</text>
<path d="M1201.0,1027.5l3.5,-5.0h23.5v10.0h-23.5z" fill="#fff" stroke="#f01414" stroke-width="1"/>
<text x="1206.3" y="1031.0" class="ax" style="fill:#000" textLength="19.1" lengthAdjust="spacing">2.00</text>
<path d="M1201.0,1026.5l3.5,-5.0h23.5v10.0h-23.5z" fill="#fff" stroke="#000" stroke-width="1"/>
<text x="1206.3" y="1030.0" class="ax" style="fill:#000" textLength="19.1" lengthAdjust="spacing">2.45</text>
<path d="M1201.0,1139.5l3.5,-5.0h28.9v10.0h-28.9z" fill="#fff" stroke="#123c1c" stroke-width="1"/>
<text x="1206.3" y="1143.0" class="ax" style="fill:#000" textLength="24.5" lengthAdjust="spacing">19.77</text>
<path d="M1201.0,1132.5l3.5,-5.0h28.9v10.0h-28.9z" fill="#fff" stroke="#c8193f" stroke-width="1"/>
<text x="1206.3" y="1136.0" class="ax" style="fill:#000" textLength="24.5" lengthAdjust="spacing">22.92</text>
<path d="M1201.0,1106.5l3.5,-5.0h28.9v10.0h-28.9z" fill="#fff" stroke="#000" stroke-width="1"/>
<text x="1206.3" y="1110.0" class="ax" style="fill:#000" textLength="24.5" lengthAdjust="spacing">34.11</text>
<text x="16" y="13.6" style="font-size:12.9px;font-weight:bold" textLength="28" lengthAdjust="spacing">$VIX</text>
<text x="49" y="13.4" style="font-size:10.7px" textLength="164" lengthAdjust="spacing">Volatility Index - New Methodology</text>
<text x="219.5" y="13.2" style="font-size:9.6px" textLength="23.5" lengthAdjust="spacing">INDX</text>
<text x="16" y="26.4" style="font-size:10.5px" textLength="100" lengthAdjust="spacing">23-Jul-2024 10:50am</text>
<text x="1203" y="12.6" text-anchor="end" style="font-size:10.4px;fill:#3c3c64;font-family:'DejaVu Sans',sans-serif" textLength="89" lengthAdjust="spacingAndGlyphs">© StockCharts.com</text>
<text x="856.5" y="26.4" style="font-size:10.6px" xml:space="preserve" textLength="338" lengthAdjust="spacing"><tspan font-weight="bold">Open</tspan> 15.21  <tspan font-weight="bold">High</tspan> 15.35  <tspan font-weight="bold">Low</tspan> 14.57  <tspan font-weight="bold">Last</tspan> 14.73  <tspan font-weight="bold">Chg</tspan> -0.18 (-1.21%)</text>
<path d="M1196,20.5h7l-3.5,4z" fill="#c8102e"/>
<path d="M18.5,39v-4l3,-4l2,3l1.5,-2l1.5,3v4z" fill="#5f8a68" stroke="#2e3a30" stroke-width="0.8"/>
<text x="31.4" y="39.3" class="v" style="fill:#000" textLength="79" lengthAdjust="spacing" xml:space="preserve">RSI(14) 43.09</text>
<g class="g" fill="#000"><rect x="19" y="178" width="1" height="8"/><rect x="18" y="180" width="3" height="4"/><rect x="23" y="177" width="1" height="8"/><rect x="22" y="179" width="3" height="4" fill="#fff" stroke="#000" stroke-width="1"/><rect x="27" y="178" width="1" height="7"/><rect x="26" y="179" width="2" height="5"/></g>
<text x="31.4" y="184.3" class="v" style="fill:#000" textLength="114" lengthAdjust="spacing" xml:space="preserve">$VIX (60 min) 14.73</text>
<path d="M18.5,194v-4l3,-4l2,3l1.5,-2l1.5,3v4z" fill="#c0c6c8" stroke="#b0b0b8" stroke-width="0.8"/>
<text x="29.5" y="195.3" class="vc" style="fill:#9a9aa4" textLength="137.4" lengthAdjust="spacingAndGlyphs" xml:space="preserve">BB(20,2.0) 14.39 - 15.73 - 17.07</text>
<rect x="19" y="201" width="8" height="2" fill="#d41d3c"/>
<text x="29.5" y="206.3" class="vc" style="fill:#d41d3c" textLength="58.4" lengthAdjust="spacingAndGlyphs" xml:space="preserve">MA(10) 15.25</text>
<rect x="19" y="212" width="8" height="2" fill="#0d6b16"/>
<text x="29.5" y="217.3" class="vc" style="fill:#0d6b16" textLength="58.4" lengthAdjust="spacingAndGlyphs" xml:space="preserve">MA(50) 14.33</text>
<rect x="19" y="223" width="8" height="2" fill="#2a2a72"/>
<text x="29.5" y="228.3" class="vc" style="fill:#2a2a72" textLength="63.4" lengthAdjust="spacingAndGlyphs" xml:space="preserve">MA(200) 13.07</text>
<rect x="19" y="607.5" width="8" height="2.5" fill="#000"/>
<text x="31.4" y="613.2" class="v" xml:space="preserve" textLength="204.5" lengthAdjust="spacing">MACD(12,26,9) 0.073<tspan fill="#f01414" stroke="#f01414">, 0.335</tspan><tspan fill="#4a9cc8" stroke="#4a9cc8">, -0.262</tspan></text>
<g class="g" fill="#3a78a8"><rect x="19" y="755" width="2" height="4"/><rect x="22" y="750" width="2" height="9"/><rect x="25" y="752" width="2" height="7"/></g>
<text x="31.4" y="758.2" class="v" style="fill:#000" textLength="149.6" lengthAdjust="spacing" xml:space="preserve">MACD(12,26,9) Hist -0.262</text>
<rect x="19" y="897.5" width="8" height="2.5" fill="#000"/>
<text x="31.4" y="903.2" class="v" xml:space="preserve" textLength="203.6" lengthAdjust="spacing">Full STO %K(14,3) %D(3) 2.45<tspan fill="#f01414" stroke="#f01414">, 2.00</tspan></text>
<rect x="19" y="1042.5" width="8" height="2.5" fill="#000"/>
<text x="31.4" y="1048.2" class="v" xml:space="preserve" textLength="199.8" lengthAdjust="spacing">ADX(14) 34.11 <tspan fill="#1c3a22" stroke="#1c3a22">+DI 19.77</tspan> <tspan fill="#c8193f" stroke="#c8193f">-DI 22.92</tspan></text>
</svg></body></html>
